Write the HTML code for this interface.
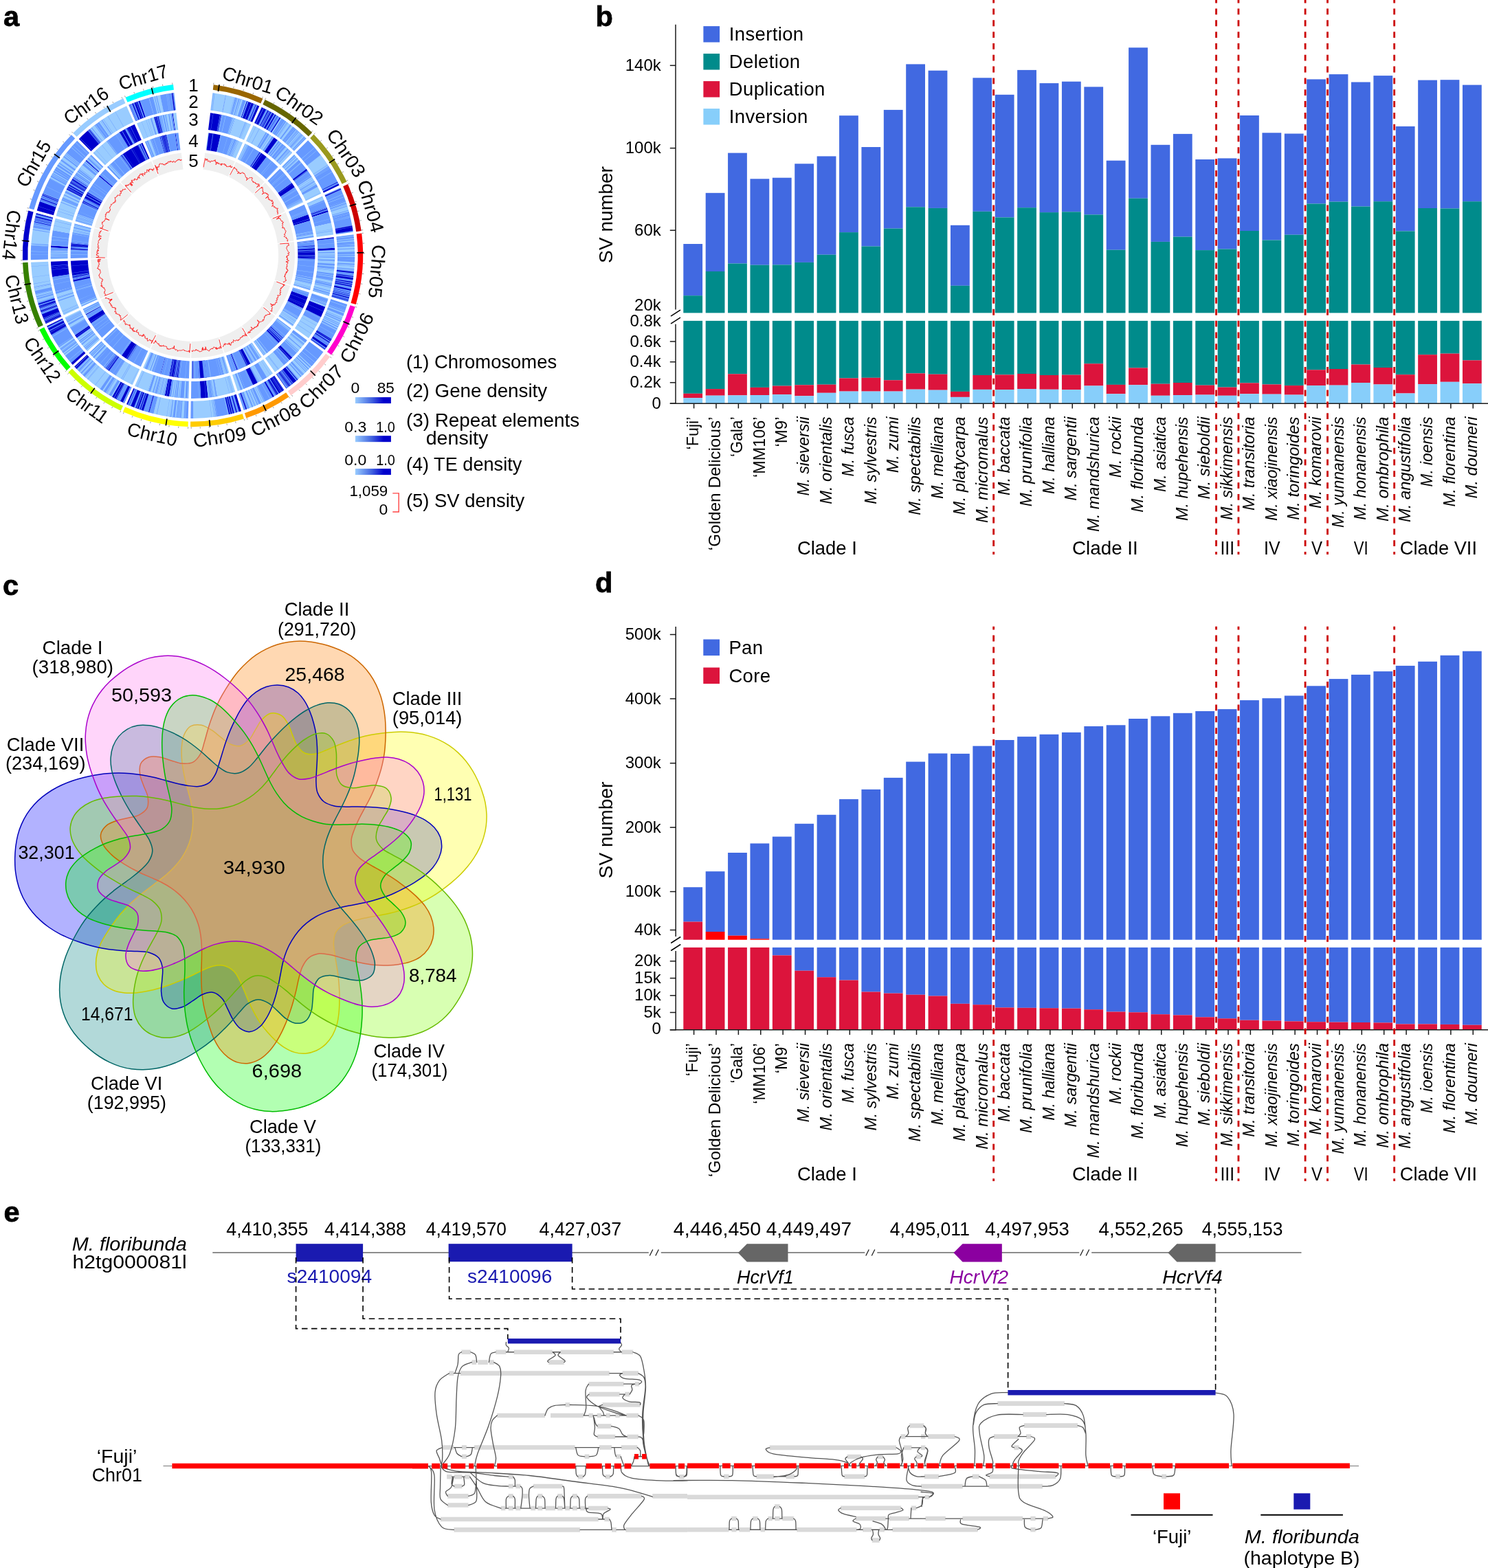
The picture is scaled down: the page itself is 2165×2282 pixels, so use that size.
<!DOCTYPE html>
<html lang="en"><head><meta charset="utf-8"><title>Figure</title>
<style>
html,body{margin:0;padding:0;background:#fff;overflow:hidden;}
svg{display:block;}
svg{font-family:"Liberation Sans",sans-serif;font-size:27.5px;}
</style></head>
<body>
<svg width="2165" height="2282" viewBox="0 0 2165 2282">
<rect width="2165" height="2282" fill="#fff"/>
<g id="pb">
<text x="866.5" y="37.5" font-size="41.5" font-weight="bold" stroke="#000" stroke-width="0.8">b</text>
<rect x="994.3" y="355" width="27.8" height="75.2" fill="#4169E1"/>
<rect x="994.3" y="430.2" width="27.8" height="25.2" fill="#008B8B"/>
<rect x="994.3" y="466.9" width="27.8" height="105.9" fill="#008B8B"/>
<rect x="994.3" y="572.8" width="27.8" height="6.4" fill="#DC143C"/>
<rect x="994.3" y="579.2" width="27.8" height="8" fill="#87CEFA"/>
<rect x="1026.69" y="280.8" width="27.8" height="114.2" fill="#4169E1"/>
<rect x="1026.69" y="395" width="27.8" height="60.4" fill="#008B8B"/>
<rect x="1026.69" y="466.9" width="27.8" height="99.2" fill="#008B8B"/>
<rect x="1026.69" y="566.1" width="27.8" height="9.6" fill="#DC143C"/>
<rect x="1026.69" y="575.7" width="27.8" height="11.5" fill="#87CEFA"/>
<rect x="1059.08" y="222.6" width="27.8" height="160.9" fill="#4169E1"/>
<rect x="1059.08" y="383.5" width="27.8" height="71.9" fill="#008B8B"/>
<rect x="1059.08" y="466.9" width="27.8" height="77.4" fill="#008B8B"/>
<rect x="1059.08" y="544.3" width="27.8" height="31.1" fill="#DC143C"/>
<rect x="1059.08" y="575.4" width="27.8" height="11.8" fill="#87CEFA"/>
<rect x="1091.47" y="260.3" width="27.8" height="125.4" fill="#4169E1"/>
<rect x="1091.47" y="385.7" width="27.8" height="69.7" fill="#008B8B"/>
<rect x="1091.47" y="466.9" width="27.8" height="97" fill="#008B8B"/>
<rect x="1091.47" y="563.9" width="27.8" height="11.1" fill="#DC143C"/>
<rect x="1091.47" y="575" width="27.8" height="12.2" fill="#87CEFA"/>
<rect x="1123.86" y="258.7" width="27.8" height="126.7" fill="#4169E1"/>
<rect x="1123.86" y="385.4" width="27.8" height="70" fill="#008B8B"/>
<rect x="1123.86" y="466.9" width="27.8" height="94.7" fill="#008B8B"/>
<rect x="1123.86" y="561.6" width="27.8" height="12.5" fill="#DC143C"/>
<rect x="1123.86" y="574.1" width="27.8" height="13.1" fill="#87CEFA"/>
<rect x="1156.25" y="238.3" width="27.8" height="143.6" fill="#4169E1"/>
<rect x="1156.25" y="381.9" width="27.8" height="73.5" fill="#008B8B"/>
<rect x="1156.25" y="466.9" width="27.8" height="93.4" fill="#008B8B"/>
<rect x="1156.25" y="560.3" width="27.8" height="16" fill="#DC143C"/>
<rect x="1156.25" y="576.3" width="27.8" height="10.9" fill="#87CEFA"/>
<rect x="1188.64" y="227.4" width="27.8" height="143.3" fill="#4169E1"/>
<rect x="1188.64" y="370.7" width="27.8" height="84.7" fill="#008B8B"/>
<rect x="1188.64" y="466.9" width="27.8" height="92.8" fill="#008B8B"/>
<rect x="1188.64" y="559.7" width="27.8" height="12.1" fill="#DC143C"/>
<rect x="1188.64" y="571.8" width="27.8" height="15.4" fill="#87CEFA"/>
<rect x="1221.03" y="168.2" width="27.8" height="169.9" fill="#4169E1"/>
<rect x="1221.03" y="338.1" width="27.8" height="117.3" fill="#008B8B"/>
<rect x="1221.03" y="466.9" width="27.8" height="83.5" fill="#008B8B"/>
<rect x="1221.03" y="550.4" width="27.8" height="19.2" fill="#DC143C"/>
<rect x="1221.03" y="569.6" width="27.8" height="17.6" fill="#87CEFA"/>
<rect x="1253.42" y="214" width="27.8" height="144.5" fill="#4169E1"/>
<rect x="1253.42" y="358.5" width="27.8" height="96.9" fill="#008B8B"/>
<rect x="1253.42" y="466.9" width="27.8" height="82.9" fill="#008B8B"/>
<rect x="1253.42" y="549.8" width="27.8" height="19.8" fill="#DC143C"/>
<rect x="1253.42" y="569.6" width="27.8" height="17.6" fill="#87CEFA"/>
<rect x="1285.81" y="159.9" width="27.8" height="172.7" fill="#4169E1"/>
<rect x="1285.81" y="332.6" width="27.8" height="122.8" fill="#008B8B"/>
<rect x="1285.81" y="466.9" width="27.8" height="86.4" fill="#008B8B"/>
<rect x="1285.81" y="553.3" width="27.8" height="16.3" fill="#DC143C"/>
<rect x="1285.81" y="569.6" width="27.8" height="17.6" fill="#87CEFA"/>
<rect x="1318.2" y="93.4" width="27.8" height="207.9" fill="#4169E1"/>
<rect x="1318.2" y="301.3" width="27.8" height="154.1" fill="#008B8B"/>
<rect x="1318.2" y="466.9" width="27.8" height="76.5" fill="#008B8B"/>
<rect x="1318.2" y="543.4" width="27.8" height="23.3" fill="#DC143C"/>
<rect x="1318.2" y="566.7" width="27.8" height="20.5" fill="#87CEFA"/>
<rect x="1350.59" y="102.7" width="27.8" height="200.2" fill="#4169E1"/>
<rect x="1350.59" y="302.9" width="27.8" height="152.5" fill="#008B8B"/>
<rect x="1350.59" y="466.9" width="27.8" height="77.8" fill="#008B8B"/>
<rect x="1350.59" y="544.7" width="27.8" height="23" fill="#DC143C"/>
<rect x="1350.59" y="567.7" width="27.8" height="19.5" fill="#87CEFA"/>
<rect x="1382.98" y="327.8" width="27.8" height="88" fill="#4169E1"/>
<rect x="1382.98" y="415.8" width="27.8" height="39.6" fill="#008B8B"/>
<rect x="1382.98" y="466.9" width="27.8" height="103" fill="#008B8B"/>
<rect x="1382.98" y="569.9" width="27.8" height="8" fill="#DC143C"/>
<rect x="1382.98" y="577.9" width="27.8" height="9.3" fill="#87CEFA"/>
<rect x="1415.37" y="113.3" width="27.8" height="194.5" fill="#4169E1"/>
<rect x="1415.37" y="307.8" width="27.8" height="147.6" fill="#008B8B"/>
<rect x="1415.37" y="466.9" width="27.8" height="79.1" fill="#008B8B"/>
<rect x="1415.37" y="546" width="27.8" height="20.9" fill="#DC143C"/>
<rect x="1415.37" y="566.9" width="27.8" height="20.3" fill="#87CEFA"/>
<rect x="1447.76" y="137.8" width="27.8" height="178.6" fill="#4169E1"/>
<rect x="1447.76" y="316.4" width="27.8" height="139" fill="#008B8B"/>
<rect x="1447.76" y="466.9" width="27.8" height="78.5" fill="#008B8B"/>
<rect x="1447.76" y="545.4" width="27.8" height="21.7" fill="#DC143C"/>
<rect x="1447.76" y="567.1" width="27.8" height="20.1" fill="#87CEFA"/>
<rect x="1480.15" y="101.9" width="27.8" height="200.3" fill="#4169E1"/>
<rect x="1480.15" y="302.2" width="27.8" height="153.2" fill="#008B8B"/>
<rect x="1480.15" y="466.9" width="27.8" height="77.1" fill="#008B8B"/>
<rect x="1480.15" y="544" width="27.8" height="22" fill="#DC143C"/>
<rect x="1480.15" y="566" width="27.8" height="21.2" fill="#87CEFA"/>
<rect x="1512.54" y="121.1" width="27.8" height="188" fill="#4169E1"/>
<rect x="1512.54" y="309.1" width="27.8" height="146.3" fill="#008B8B"/>
<rect x="1512.54" y="466.9" width="27.8" height="79.1" fill="#008B8B"/>
<rect x="1512.54" y="546" width="27.8" height="20.8" fill="#DC143C"/>
<rect x="1512.54" y="566.8" width="27.8" height="20.4" fill="#87CEFA"/>
<rect x="1544.93" y="118.7" width="27.8" height="189.6" fill="#4169E1"/>
<rect x="1544.93" y="308.3" width="27.8" height="147.1" fill="#008B8B"/>
<rect x="1544.93" y="466.9" width="27.8" height="78.7" fill="#008B8B"/>
<rect x="1544.93" y="545.6" width="27.8" height="21.6" fill="#DC143C"/>
<rect x="1544.93" y="567.2" width="27.8" height="20" fill="#87CEFA"/>
<rect x="1577.32" y="126.4" width="27.8" height="186" fill="#4169E1"/>
<rect x="1577.32" y="312.4" width="27.8" height="143" fill="#008B8B"/>
<rect x="1577.32" y="466.9" width="27.8" height="62.4" fill="#008B8B"/>
<rect x="1577.32" y="529.3" width="27.8" height="32.2" fill="#DC143C"/>
<rect x="1577.32" y="561.5" width="27.8" height="25.7" fill="#87CEFA"/>
<rect x="1609.71" y="233.7" width="27.8" height="130" fill="#4169E1"/>
<rect x="1609.71" y="363.7" width="27.8" height="91.7" fill="#008B8B"/>
<rect x="1609.71" y="466.9" width="27.8" height="93" fill="#008B8B"/>
<rect x="1609.71" y="559.9" width="27.8" height="13.4" fill="#DC143C"/>
<rect x="1609.71" y="573.3" width="27.8" height="13.9" fill="#87CEFA"/>
<rect x="1642.1" y="69.3" width="27.8" height="219.4" fill="#4169E1"/>
<rect x="1642.1" y="288.7" width="27.8" height="166.7" fill="#008B8B"/>
<rect x="1642.1" y="466.9" width="27.8" height="68.5" fill="#008B8B"/>
<rect x="1642.1" y="535.4" width="27.8" height="24.9" fill="#DC143C"/>
<rect x="1642.1" y="560.3" width="27.8" height="26.9" fill="#87CEFA"/>
<rect x="1674.49" y="210.8" width="27.8" height="141.1" fill="#4169E1"/>
<rect x="1674.49" y="351.9" width="27.8" height="103.5" fill="#008B8B"/>
<rect x="1674.49" y="466.9" width="27.8" height="91.8" fill="#008B8B"/>
<rect x="1674.49" y="558.7" width="27.8" height="17.1" fill="#DC143C"/>
<rect x="1674.49" y="575.8" width="27.8" height="11.4" fill="#87CEFA"/>
<rect x="1706.88" y="194.9" width="27.8" height="149.7" fill="#4169E1"/>
<rect x="1706.88" y="344.6" width="27.8" height="110.8" fill="#008B8B"/>
<rect x="1706.88" y="466.9" width="27.8" height="90.1" fill="#008B8B"/>
<rect x="1706.88" y="557" width="27.8" height="18" fill="#DC143C"/>
<rect x="1706.88" y="575" width="27.8" height="12.2" fill="#87CEFA"/>
<rect x="1739.27" y="232" width="27.8" height="132.1" fill="#4169E1"/>
<rect x="1739.27" y="364.1" width="27.8" height="91.3" fill="#008B8B"/>
<rect x="1739.27" y="466.9" width="27.8" height="93.8" fill="#008B8B"/>
<rect x="1739.27" y="560.7" width="27.8" height="13.9" fill="#DC143C"/>
<rect x="1739.27" y="574.6" width="27.8" height="12.6" fill="#87CEFA"/>
<rect x="1771.66" y="230.4" width="27.8" height="132.1" fill="#4169E1"/>
<rect x="1771.66" y="362.5" width="27.8" height="92.9" fill="#008B8B"/>
<rect x="1771.66" y="466.9" width="27.8" height="96.7" fill="#008B8B"/>
<rect x="1771.66" y="563.6" width="27.8" height="12.2" fill="#DC143C"/>
<rect x="1771.66" y="575.8" width="27.8" height="11.4" fill="#87CEFA"/>
<rect x="1804.05" y="168" width="27.8" height="168" fill="#4169E1"/>
<rect x="1804.05" y="336" width="27.8" height="119.4" fill="#008B8B"/>
<rect x="1804.05" y="466.9" width="27.8" height="90.5" fill="#008B8B"/>
<rect x="1804.05" y="557.4" width="27.8" height="15.9" fill="#DC143C"/>
<rect x="1804.05" y="573.3" width="27.8" height="13.9" fill="#87CEFA"/>
<rect x="1836.44" y="193.3" width="27.8" height="156.2" fill="#4169E1"/>
<rect x="1836.44" y="349.5" width="27.8" height="105.9" fill="#008B8B"/>
<rect x="1836.44" y="466.9" width="27.8" height="92.6" fill="#008B8B"/>
<rect x="1836.44" y="559.5" width="27.8" height="14.2" fill="#DC143C"/>
<rect x="1836.44" y="573.7" width="27.8" height="13.5" fill="#87CEFA"/>
<rect x="1868.83" y="194.5" width="27.8" height="147.2" fill="#4169E1"/>
<rect x="1868.83" y="341.7" width="27.8" height="113.7" fill="#008B8B"/>
<rect x="1868.83" y="466.9" width="27.8" height="94.2" fill="#008B8B"/>
<rect x="1868.83" y="561.1" width="27.8" height="13.5" fill="#DC143C"/>
<rect x="1868.83" y="574.6" width="27.8" height="12.6" fill="#87CEFA"/>
<rect x="1901.22" y="115.4" width="27.8" height="181.1" fill="#4169E1"/>
<rect x="1901.22" y="296.5" width="27.8" height="158.9" fill="#008B8B"/>
<rect x="1901.22" y="466.9" width="27.8" height="71.4" fill="#008B8B"/>
<rect x="1901.22" y="538.3" width="27.8" height="22.8" fill="#DC143C"/>
<rect x="1901.22" y="561.1" width="27.8" height="26.1" fill="#87CEFA"/>
<rect x="1933.61" y="108.1" width="27.8" height="185.5" fill="#4169E1"/>
<rect x="1933.61" y="293.6" width="27.8" height="161.8" fill="#008B8B"/>
<rect x="1933.61" y="466.9" width="27.8" height="70.1" fill="#008B8B"/>
<rect x="1933.61" y="537" width="27.8" height="23.7" fill="#DC143C"/>
<rect x="1933.61" y="560.7" width="27.8" height="26.5" fill="#87CEFA"/>
<rect x="1966" y="119.5" width="27.8" height="181" fill="#4169E1"/>
<rect x="1966" y="300.5" width="27.8" height="154.9" fill="#008B8B"/>
<rect x="1966" y="466.9" width="27.8" height="63.6" fill="#008B8B"/>
<rect x="1966" y="530.5" width="27.8" height="26.5" fill="#DC143C"/>
<rect x="1966" y="557" width="27.8" height="30.2" fill="#87CEFA"/>
<rect x="1998.39" y="110.1" width="27.8" height="183.1" fill="#4169E1"/>
<rect x="1998.39" y="293.2" width="27.8" height="162.2" fill="#008B8B"/>
<rect x="1998.39" y="466.9" width="27.8" height="68.1" fill="#008B8B"/>
<rect x="1998.39" y="535" width="27.8" height="24.5" fill="#DC143C"/>
<rect x="1998.39" y="559.5" width="27.8" height="27.7" fill="#87CEFA"/>
<rect x="2030.78" y="183.9" width="27.8" height="152.5" fill="#4169E1"/>
<rect x="2030.78" y="336.4" width="27.8" height="119" fill="#008B8B"/>
<rect x="2030.78" y="466.9" width="27.8" height="78.3" fill="#008B8B"/>
<rect x="2030.78" y="545.2" width="27.8" height="27.3" fill="#DC143C"/>
<rect x="2030.78" y="572.5" width="27.8" height="14.7" fill="#87CEFA"/>
<rect x="2063.17" y="116.6" width="27.8" height="186.4" fill="#4169E1"/>
<rect x="2063.17" y="303" width="27.8" height="152.4" fill="#008B8B"/>
<rect x="2063.17" y="466.9" width="27.8" height="49.3" fill="#008B8B"/>
<rect x="2063.17" y="516.2" width="27.8" height="42.9" fill="#DC143C"/>
<rect x="2063.17" y="559.1" width="27.8" height="28.1" fill="#87CEFA"/>
<rect x="2095.56" y="116.2" width="27.8" height="187.2" fill="#4169E1"/>
<rect x="2095.56" y="303.4" width="27.8" height="152" fill="#008B8B"/>
<rect x="2095.56" y="466.9" width="27.8" height="47.7" fill="#008B8B"/>
<rect x="2095.56" y="514.6" width="27.8" height="41.2" fill="#DC143C"/>
<rect x="2095.56" y="555.8" width="27.8" height="31.4" fill="#87CEFA"/>
<rect x="2127.95" y="123.6" width="27.8" height="169.6" fill="#4169E1"/>
<rect x="2127.95" y="293.2" width="27.8" height="162.2" fill="#008B8B"/>
<rect x="2127.95" y="466.9" width="27.8" height="57.5" fill="#008B8B"/>
<rect x="2127.95" y="524.4" width="27.8" height="33.8" fill="#DC143C"/>
<rect x="2127.95" y="558.2" width="27.8" height="29" fill="#87CEFA"/>
<line x1="983" y1="35.8" x2="983" y2="450.5" stroke="#1a1a1a" stroke-width="1.5"/>
<line x1="983" y1="471.8" x2="983" y2="587.9" stroke="#1a1a1a" stroke-width="1.5"/>
<line x1="974.8" y1="587.2" x2="2165" y2="587.2" stroke="#1a1a1a" stroke-width="1.5"/>
<line x1="976" y1="460.2" x2="990" y2="451.2" stroke="#000" stroke-width="1.5"/>
<line x1="976" y1="471.2" x2="990" y2="462.2" stroke="#000" stroke-width="1.5"/>
<line x1="974.8" y1="95.3" x2="983" y2="95.3" stroke="#1a1a1a" stroke-width="1.5"/>
<text x="961.8" y="102.9" text-anchor="end" font-size="24">140k</text>
<line x1="974.8" y1="215.6" x2="983" y2="215.6" stroke="#1a1a1a" stroke-width="1.5"/>
<text x="961.8" y="223.2" text-anchor="end" font-size="24">100k</text>
<line x1="974.8" y1="335.2" x2="983" y2="335.2" stroke="#1a1a1a" stroke-width="1.5"/>
<text x="961.8" y="342.8" text-anchor="end" font-size="24">60k</text>
<text x="961.8" y="451.8" text-anchor="end" font-size="24">20k</text>
<text x="961.8" y="474.8" text-anchor="end" font-size="24">0.8k</text>
<line x1="974.8" y1="497" x2="983" y2="497" stroke="#1a1a1a" stroke-width="1.5"/>
<text x="961.8" y="504.6" text-anchor="end" font-size="24">0.6k</text>
<line x1="974.8" y1="526.7" x2="983" y2="526.7" stroke="#1a1a1a" stroke-width="1.5"/>
<text x="961.8" y="534.3" text-anchor="end" font-size="24">0.4k</text>
<line x1="974.8" y1="556.8" x2="983" y2="556.8" stroke="#1a1a1a" stroke-width="1.5"/>
<text x="961.8" y="564.4" text-anchor="end" font-size="24">0.2k</text>
<line x1="974.8" y1="587.2" x2="983" y2="587.2" stroke="#1a1a1a" stroke-width="1.5"/>
<text x="961.8" y="594.8" text-anchor="end" font-size="24">0</text>
<line x1="1009.6" y1="587.2" x2="1009.6" y2="594.4" stroke="#1a1a1a" stroke-width="1.5"/>
<line x1="1041.99" y1="587.2" x2="1041.99" y2="594.4" stroke="#1a1a1a" stroke-width="1.5"/>
<line x1="1074.38" y1="587.2" x2="1074.38" y2="594.4" stroke="#1a1a1a" stroke-width="1.5"/>
<line x1="1106.77" y1="587.2" x2="1106.77" y2="594.4" stroke="#1a1a1a" stroke-width="1.5"/>
<line x1="1139.16" y1="587.2" x2="1139.16" y2="594.4" stroke="#1a1a1a" stroke-width="1.5"/>
<line x1="1171.55" y1="587.2" x2="1171.55" y2="594.4" stroke="#1a1a1a" stroke-width="1.5"/>
<line x1="1203.94" y1="587.2" x2="1203.94" y2="594.4" stroke="#1a1a1a" stroke-width="1.5"/>
<line x1="1236.33" y1="587.2" x2="1236.33" y2="594.4" stroke="#1a1a1a" stroke-width="1.5"/>
<line x1="1268.72" y1="587.2" x2="1268.72" y2="594.4" stroke="#1a1a1a" stroke-width="1.5"/>
<line x1="1301.11" y1="587.2" x2="1301.11" y2="594.4" stroke="#1a1a1a" stroke-width="1.5"/>
<line x1="1333.5" y1="587.2" x2="1333.5" y2="594.4" stroke="#1a1a1a" stroke-width="1.5"/>
<line x1="1365.89" y1="587.2" x2="1365.89" y2="594.4" stroke="#1a1a1a" stroke-width="1.5"/>
<line x1="1398.28" y1="587.2" x2="1398.28" y2="594.4" stroke="#1a1a1a" stroke-width="1.5"/>
<line x1="1430.67" y1="587.2" x2="1430.67" y2="594.4" stroke="#1a1a1a" stroke-width="1.5"/>
<line x1="1463.06" y1="587.2" x2="1463.06" y2="594.4" stroke="#1a1a1a" stroke-width="1.5"/>
<line x1="1495.45" y1="587.2" x2="1495.45" y2="594.4" stroke="#1a1a1a" stroke-width="1.5"/>
<line x1="1527.84" y1="587.2" x2="1527.84" y2="594.4" stroke="#1a1a1a" stroke-width="1.5"/>
<line x1="1560.23" y1="587.2" x2="1560.23" y2="594.4" stroke="#1a1a1a" stroke-width="1.5"/>
<line x1="1592.62" y1="587.2" x2="1592.62" y2="594.4" stroke="#1a1a1a" stroke-width="1.5"/>
<line x1="1625.01" y1="587.2" x2="1625.01" y2="594.4" stroke="#1a1a1a" stroke-width="1.5"/>
<line x1="1657.4" y1="587.2" x2="1657.4" y2="594.4" stroke="#1a1a1a" stroke-width="1.5"/>
<line x1="1689.79" y1="587.2" x2="1689.79" y2="594.4" stroke="#1a1a1a" stroke-width="1.5"/>
<line x1="1722.18" y1="587.2" x2="1722.18" y2="594.4" stroke="#1a1a1a" stroke-width="1.5"/>
<line x1="1754.57" y1="587.2" x2="1754.57" y2="594.4" stroke="#1a1a1a" stroke-width="1.5"/>
<line x1="1786.96" y1="587.2" x2="1786.96" y2="594.4" stroke="#1a1a1a" stroke-width="1.5"/>
<line x1="1819.35" y1="587.2" x2="1819.35" y2="594.4" stroke="#1a1a1a" stroke-width="1.5"/>
<line x1="1851.74" y1="587.2" x2="1851.74" y2="594.4" stroke="#1a1a1a" stroke-width="1.5"/>
<line x1="1884.13" y1="587.2" x2="1884.13" y2="594.4" stroke="#1a1a1a" stroke-width="1.5"/>
<line x1="1916.52" y1="587.2" x2="1916.52" y2="594.4" stroke="#1a1a1a" stroke-width="1.5"/>
<line x1="1948.91" y1="587.2" x2="1948.91" y2="594.4" stroke="#1a1a1a" stroke-width="1.5"/>
<line x1="1981.3" y1="587.2" x2="1981.3" y2="594.4" stroke="#1a1a1a" stroke-width="1.5"/>
<line x1="2013.69" y1="587.2" x2="2013.69" y2="594.4" stroke="#1a1a1a" stroke-width="1.5"/>
<line x1="2046.08" y1="587.2" x2="2046.08" y2="594.4" stroke="#1a1a1a" stroke-width="1.5"/>
<line x1="2078.47" y1="587.2" x2="2078.47" y2="594.4" stroke="#1a1a1a" stroke-width="1.5"/>
<line x1="2110.86" y1="587.2" x2="2110.86" y2="594.4" stroke="#1a1a1a" stroke-width="1.5"/>
<line x1="2143.25" y1="587.2" x2="2143.25" y2="594.4" stroke="#1a1a1a" stroke-width="1.5"/>
<text x="890.5" y="312.5" text-anchor="middle" transform="rotate(-90 890.5 312.5)" textLength="141" lengthAdjust="spacingAndGlyphs">SV number</text>
<rect x="1023.4" y="38.1" width="23.7" height="23.4" fill="#4169E1"/>
<text x="1060.8" y="59.3" letter-spacing="0.35">Insertion</text>
<rect x="1023.4" y="78.1" width="23.7" height="23.4" fill="#008B8B"/>
<text x="1060.8" y="99.3" letter-spacing="0.35">Deletion</text>
<rect x="1023.4" y="118.1" width="23.7" height="23.4" fill="#DC143C"/>
<text x="1060.8" y="139.3" letter-spacing="0.35">Duplication</text>
<rect x="1023.4" y="158.1" width="23.7" height="23.4" fill="#87CEFA"/>
<text x="1060.8" y="179.3" letter-spacing="0.35">Inversion</text>
<g font-size="24" text-anchor="end">
<text x="1015.5" y="606.5" transform="rotate(-90 1015.5 606.5)" textLength="48" lengthAdjust="spacingAndGlyphs">‘Fuji’</text>
<text x="1047.89" y="606.5" transform="rotate(-90 1047.89 606.5)" textLength="194.7" lengthAdjust="spacingAndGlyphs">‘Golden Delicious’</text>
<text x="1080.28" y="606.5" transform="rotate(-90 1080.28 606.5)" textLength="58.4" lengthAdjust="spacingAndGlyphs">‘Gala’</text>
<text x="1112.67" y="606.5" transform="rotate(-90 1112.67 606.5)" textLength="88.5" lengthAdjust="spacingAndGlyphs">‘MM106’</text>
<text x="1145.06" y="606.5" transform="rotate(-90 1145.06 606.5)" textLength="44.1" lengthAdjust="spacingAndGlyphs">‘M9’</text>
<text x="1177.45" y="606.5" font-style="italic" transform="rotate(-90 1177.45 606.5)" textLength="115.1" lengthAdjust="spacingAndGlyphs">M. sieversii</text>
<text x="1209.84" y="606.5" font-style="italic" transform="rotate(-90 1209.84 606.5)" textLength="127.3" lengthAdjust="spacingAndGlyphs">M. orientalis</text>
<text x="1242.23" y="606.5" font-style="italic" transform="rotate(-90 1242.23 606.5)" textLength="87" lengthAdjust="spacingAndGlyphs">M. fusca</text>
<text x="1274.62" y="606.5" font-style="italic" transform="rotate(-90 1274.62 606.5)" textLength="127.3" lengthAdjust="spacingAndGlyphs">M. sylvestris</text>
<text x="1307.01" y="606.5" font-style="italic" transform="rotate(-90 1307.01 606.5)" textLength="81.7" lengthAdjust="spacingAndGlyphs">M. zumi</text>
<text x="1339.4" y="606.5" font-style="italic" transform="rotate(-90 1339.4 606.5)" textLength="143.3" lengthAdjust="spacingAndGlyphs">M. spectabilis</text>
<text x="1371.79" y="606.5" font-style="italic" transform="rotate(-90 1371.79 606.5)" textLength="119.4" lengthAdjust="spacingAndGlyphs">M. melliana</text>
<text x="1404.18" y="606.5" font-style="italic" transform="rotate(-90 1404.18 606.5)" textLength="142.9" lengthAdjust="spacingAndGlyphs">M. platycarpa</text>
<text x="1436.57" y="606.5" font-style="italic" transform="rotate(-90 1436.57 606.5)" textLength="154.6" lengthAdjust="spacingAndGlyphs">M. micromalus</text>
<text x="1468.96" y="606.5" font-style="italic" transform="rotate(-90 1468.96 606.5)" textLength="114.5" lengthAdjust="spacingAndGlyphs">M. baccata</text>
<text x="1501.35" y="606.5" font-style="italic" transform="rotate(-90 1501.35 606.5)" textLength="130.7" lengthAdjust="spacingAndGlyphs">M. prunifolia</text>
<text x="1533.74" y="606.5" font-style="italic" transform="rotate(-90 1533.74 606.5)" textLength="112.6" lengthAdjust="spacingAndGlyphs">M. halliana</text>
<text x="1566.13" y="606.5" font-style="italic" transform="rotate(-90 1566.13 606.5)" textLength="122.2" lengthAdjust="spacingAndGlyphs">M. sargentii</text>
<text x="1598.52" y="606.5" font-style="italic" transform="rotate(-90 1598.52 606.5)" textLength="167.4" lengthAdjust="spacingAndGlyphs">M. mandshurica</text>
<text x="1630.91" y="606.5" font-style="italic" transform="rotate(-90 1630.91 606.5)" textLength="88.7" lengthAdjust="spacingAndGlyphs">M. rockii</text>
<text x="1663.3" y="606.5" font-style="italic" transform="rotate(-90 1663.3 606.5)" textLength="139.2" lengthAdjust="spacingAndGlyphs">M. floribunda</text>
<text x="1695.69" y="606.5" font-style="italic" transform="rotate(-90 1695.69 606.5)" textLength="109.4" lengthAdjust="spacingAndGlyphs">M. asiatica</text>
<text x="1728.08" y="606.5" font-style="italic" transform="rotate(-90 1728.08 606.5)" textLength="151.4" lengthAdjust="spacingAndGlyphs">M. hupehensis</text>
<text x="1760.47" y="606.5" font-style="italic" transform="rotate(-90 1760.47 606.5)" textLength="120" lengthAdjust="spacingAndGlyphs">M. sieboldii</text>
<text x="1792.86" y="606.5" font-style="italic" transform="rotate(-90 1792.86 606.5)" textLength="150.3" lengthAdjust="spacingAndGlyphs">M. sikkimensis</text>
<text x="1825.25" y="606.5" font-style="italic" transform="rotate(-90 1825.25 606.5)" textLength="136.5" lengthAdjust="spacingAndGlyphs">M. transitoria</text>
<text x="1857.64" y="606.5" font-style="italic" transform="rotate(-90 1857.64 606.5)" textLength="151.4" lengthAdjust="spacingAndGlyphs">M. xiaojinensis</text>
<text x="1890.03" y="606.5" font-style="italic" transform="rotate(-90 1890.03 606.5)" textLength="150.3" lengthAdjust="spacingAndGlyphs">M. toringoides</text>
<text x="1922.42" y="606.5" font-style="italic" transform="rotate(-90 1922.42 606.5)" textLength="133.5" lengthAdjust="spacingAndGlyphs">M. komarovii</text>
<text x="1954.81" y="606.5" font-style="italic" transform="rotate(-90 1954.81 606.5)" textLength="161.4" lengthAdjust="spacingAndGlyphs">M. yunnanensis</text>
<text x="1987.2" y="606.5" font-style="italic" transform="rotate(-90 1987.2 606.5)" textLength="150.3" lengthAdjust="spacingAndGlyphs">M. honanensis</text>
<text x="2019.59" y="606.5" font-style="italic" transform="rotate(-90 2019.59 606.5)" textLength="152.5" lengthAdjust="spacingAndGlyphs">M. ombrophila</text>
<text x="2051.98" y="606.5" font-style="italic" transform="rotate(-90 2051.98 606.5)" textLength="153.5" lengthAdjust="spacingAndGlyphs">M. angustifolia</text>
<text x="2084.37" y="606.5" font-style="italic" transform="rotate(-90 2084.37 606.5)" textLength="101.9" lengthAdjust="spacingAndGlyphs">M. ioensis</text>
<text x="2116.76" y="606.5" font-style="italic" transform="rotate(-90 2116.76 606.5)" textLength="131.1" lengthAdjust="spacingAndGlyphs">M. florentina</text>
<text x="2149.15" y="606.5" font-style="italic" transform="rotate(-90 2149.15 606.5)" textLength="119" lengthAdjust="spacingAndGlyphs">M. doumeri</text>
</g>
<text x="1159.9" y="806.6" textLength="87" lengthAdjust="spacingAndGlyphs">Clade I</text>
<text x="1560" y="806.6" textLength="95.8" lengthAdjust="spacingAndGlyphs">Clade II</text>
<text x="1775.5" y="806.6" textLength="20.5" lengthAdjust="spacingAndGlyphs">III</text>
<text x="1839" y="806.6" textLength="23.5" lengthAdjust="spacingAndGlyphs">IV</text>
<text x="1908" y="806.6" textLength="16" lengthAdjust="spacingAndGlyphs">V</text>
<text x="1969.7" y="806.6" textLength="20.9" lengthAdjust="spacingAndGlyphs">VI</text>
<text x="2036.8" y="806.6" textLength="112.2" lengthAdjust="spacingAndGlyphs">Clade VII</text>
<path d="M1445.66 0V807.1M1769.56 0V807.1M1801.95 0V807.1M1899.12 0V807.1M1931.52 0V807.1M2028.68 0V807.1" stroke="#CC0000" stroke-width="2.8" fill="none" stroke-dasharray="8.8 8.02" stroke-dashoffset="4.3"/>
</g>
<g id="pd">
<text x="866" y="862" font-size="41.5" font-weight="bold" stroke="#000" stroke-width="0.8">d</text>
<rect x="994.3" y="1291.2" width="27.8" height="50.3" fill="#4169E1"/>
<rect x="994.3" y="1341.5" width="27.8" height="26.2" fill="#DC143C"/>
<rect x="994.3" y="1378.9" width="27.8" height="119.9" fill="#DC143C"/>
<rect x="1026.69" y="1268.2" width="27.8" height="87.8" fill="#4169E1"/>
<rect x="1026.69" y="1356" width="27.8" height="11.7" fill="#FF0000"/>
<rect x="1026.69" y="1378.9" width="27.8" height="119.9" fill="#DC143C"/>
<rect x="1059.08" y="1241" width="27.8" height="120.7" fill="#4169E1"/>
<rect x="1059.08" y="1361.7" width="27.8" height="6" fill="#FF0000"/>
<rect x="1059.08" y="1378.9" width="27.8" height="119.9" fill="#DC143C"/>
<rect x="1091.47" y="1227.5" width="27.8" height="138.8" fill="#4169E1"/>
<rect x="1091.47" y="1366.3" width="27.8" height="1.4" fill="#FF0000"/>
<rect x="1091.47" y="1378.9" width="27.8" height="119.9" fill="#DC143C"/>
<rect x="1123.86" y="1217.6" width="27.8" height="150.1" fill="#4169E1"/>
<rect x="1123.86" y="1378.9" width="27.8" height="11.5" fill="#4169E1"/>
<rect x="1123.86" y="1390.4" width="27.8" height="108.4" fill="#DC143C"/>
<rect x="1156.25" y="1198.8" width="27.8" height="168.9" fill="#4169E1"/>
<rect x="1156.25" y="1378.9" width="27.8" height="33.8" fill="#4169E1"/>
<rect x="1156.25" y="1412.7" width="27.8" height="86.1" fill="#DC143C"/>
<rect x="1188.64" y="1185.8" width="27.8" height="181.9" fill="#4169E1"/>
<rect x="1188.64" y="1378.9" width="27.8" height="43.3" fill="#4169E1"/>
<rect x="1188.64" y="1422.2" width="27.8" height="76.6" fill="#DC143C"/>
<rect x="1221.03" y="1163.1" width="27.8" height="204.6" fill="#4169E1"/>
<rect x="1221.03" y="1378.9" width="27.8" height="47.6" fill="#4169E1"/>
<rect x="1221.03" y="1426.5" width="27.8" height="72.3" fill="#DC143C"/>
<rect x="1253.42" y="1148.9" width="27.8" height="218.8" fill="#4169E1"/>
<rect x="1253.42" y="1378.9" width="27.8" height="64.6" fill="#4169E1"/>
<rect x="1253.42" y="1443.5" width="27.8" height="55.3" fill="#DC143C"/>
<rect x="1285.81" y="1131.9" width="27.8" height="235.8" fill="#4169E1"/>
<rect x="1285.81" y="1378.9" width="27.8" height="66.7" fill="#4169E1"/>
<rect x="1285.81" y="1445.6" width="27.8" height="53.2" fill="#DC143C"/>
<rect x="1318.2" y="1108.6" width="27.8" height="259.1" fill="#4169E1"/>
<rect x="1318.2" y="1378.9" width="27.8" height="68.8" fill="#4169E1"/>
<rect x="1318.2" y="1447.7" width="27.8" height="51.1" fill="#DC143C"/>
<rect x="1350.59" y="1096.5" width="27.8" height="271.2" fill="#4169E1"/>
<rect x="1350.59" y="1378.9" width="27.8" height="70.6" fill="#4169E1"/>
<rect x="1350.59" y="1449.5" width="27.8" height="49.3" fill="#DC143C"/>
<rect x="1382.98" y="1096.9" width="27.8" height="270.8" fill="#4169E1"/>
<rect x="1382.98" y="1378.9" width="27.8" height="81.9" fill="#4169E1"/>
<rect x="1382.98" y="1460.8" width="27.8" height="38" fill="#DC143C"/>
<rect x="1415.37" y="1085.7" width="27.8" height="282" fill="#4169E1"/>
<rect x="1415.37" y="1378.9" width="27.8" height="83.3" fill="#4169E1"/>
<rect x="1415.37" y="1462.2" width="27.8" height="36.6" fill="#DC143C"/>
<rect x="1447.76" y="1077" width="27.8" height="290.7" fill="#4169E1"/>
<rect x="1447.76" y="1378.9" width="27.8" height="87.5" fill="#4169E1"/>
<rect x="1447.76" y="1466.4" width="27.8" height="32.4" fill="#DC143C"/>
<rect x="1480.15" y="1072.1" width="27.8" height="295.6" fill="#4169E1"/>
<rect x="1480.15" y="1378.9" width="27.8" height="87.9" fill="#4169E1"/>
<rect x="1480.15" y="1466.8" width="27.8" height="32" fill="#DC143C"/>
<rect x="1512.54" y="1068.8" width="27.8" height="298.9" fill="#4169E1"/>
<rect x="1512.54" y="1378.9" width="27.8" height="88.3" fill="#4169E1"/>
<rect x="1512.54" y="1467.2" width="27.8" height="31.6" fill="#DC143C"/>
<rect x="1544.93" y="1065.9" width="27.8" height="301.8" fill="#4169E1"/>
<rect x="1544.93" y="1378.9" width="27.8" height="88.7" fill="#4169E1"/>
<rect x="1544.93" y="1467.6" width="27.8" height="31.2" fill="#DC143C"/>
<rect x="1577.32" y="1057" width="27.8" height="310.7" fill="#4169E1"/>
<rect x="1577.32" y="1378.9" width="27.8" height="90.3" fill="#4169E1"/>
<rect x="1577.32" y="1469.2" width="27.8" height="29.6" fill="#DC143C"/>
<rect x="1609.71" y="1055.3" width="27.8" height="312.4" fill="#4169E1"/>
<rect x="1609.71" y="1378.9" width="27.8" height="93.6" fill="#4169E1"/>
<rect x="1609.71" y="1472.5" width="27.8" height="26.3" fill="#DC143C"/>
<rect x="1642.1" y="1046" width="27.8" height="321.7" fill="#4169E1"/>
<rect x="1642.1" y="1378.9" width="27.8" height="94.4" fill="#4169E1"/>
<rect x="1642.1" y="1473.3" width="27.8" height="25.5" fill="#DC143C"/>
<rect x="1674.49" y="1042.3" width="27.8" height="325.4" fill="#4169E1"/>
<rect x="1674.49" y="1378.9" width="27.8" height="97.3" fill="#4169E1"/>
<rect x="1674.49" y="1476.2" width="27.8" height="22.6" fill="#DC143C"/>
<rect x="1706.88" y="1037.8" width="27.8" height="329.9" fill="#4169E1"/>
<rect x="1706.88" y="1378.9" width="27.8" height="98.5" fill="#4169E1"/>
<rect x="1706.88" y="1477.4" width="27.8" height="21.4" fill="#DC143C"/>
<rect x="1739.27" y="1035" width="27.8" height="332.7" fill="#4169E1"/>
<rect x="1739.27" y="1378.9" width="27.8" height="101.4" fill="#4169E1"/>
<rect x="1739.27" y="1480.3" width="27.8" height="18.5" fill="#DC143C"/>
<rect x="1771.66" y="1032.1" width="27.8" height="335.6" fill="#4169E1"/>
<rect x="1771.66" y="1378.9" width="27.8" height="103.4" fill="#4169E1"/>
<rect x="1771.66" y="1482.3" width="27.8" height="16.5" fill="#DC143C"/>
<rect x="1804.05" y="1019.1" width="27.8" height="348.6" fill="#4169E1"/>
<rect x="1804.05" y="1378.9" width="27.8" height="105.8" fill="#4169E1"/>
<rect x="1804.05" y="1484.7" width="27.8" height="14.1" fill="#DC143C"/>
<rect x="1836.44" y="1016.2" width="27.8" height="351.5" fill="#4169E1"/>
<rect x="1836.44" y="1378.9" width="27.8" height="106.6" fill="#4169E1"/>
<rect x="1836.44" y="1485.5" width="27.8" height="13.3" fill="#DC143C"/>
<rect x="1868.83" y="1012.5" width="27.8" height="355.2" fill="#4169E1"/>
<rect x="1868.83" y="1378.9" width="27.8" height="107.5" fill="#4169E1"/>
<rect x="1868.83" y="1486.4" width="27.8" height="12.4" fill="#DC143C"/>
<rect x="1901.22" y="998.3" width="27.8" height="369.4" fill="#4169E1"/>
<rect x="1901.22" y="1378.9" width="27.8" height="108.3" fill="#4169E1"/>
<rect x="1901.22" y="1487.2" width="27.8" height="11.6" fill="#DC143C"/>
<rect x="1933.61" y="988.1" width="27.8" height="379.6" fill="#4169E1"/>
<rect x="1933.61" y="1378.9" width="27.8" height="108.7" fill="#4169E1"/>
<rect x="1933.61" y="1487.6" width="27.8" height="11.2" fill="#DC143C"/>
<rect x="1966" y="981.9" width="27.8" height="385.8" fill="#4169E1"/>
<rect x="1966" y="1378.9" width="27.8" height="109.1" fill="#4169E1"/>
<rect x="1966" y="1488" width="27.8" height="10.8" fill="#DC143C"/>
<rect x="1998.39" y="977.1" width="27.8" height="390.6" fill="#4169E1"/>
<rect x="1998.39" y="1378.9" width="27.8" height="109.5" fill="#4169E1"/>
<rect x="1998.39" y="1488.4" width="27.8" height="10.4" fill="#DC143C"/>
<rect x="2030.78" y="968.9" width="27.8" height="398.8" fill="#4169E1"/>
<rect x="2030.78" y="1378.9" width="27.8" height="111.5" fill="#4169E1"/>
<rect x="2030.78" y="1490.4" width="27.8" height="8.4" fill="#DC143C"/>
<rect x="2063.17" y="962.8" width="27.8" height="404.9" fill="#4169E1"/>
<rect x="2063.17" y="1378.9" width="27.8" height="111.5" fill="#4169E1"/>
<rect x="2063.17" y="1490.4" width="27.8" height="8.4" fill="#DC143C"/>
<rect x="2095.56" y="953.8" width="27.8" height="413.9" fill="#4169E1"/>
<rect x="2095.56" y="1378.9" width="27.8" height="112" fill="#4169E1"/>
<rect x="2095.56" y="1490.9" width="27.8" height="7.9" fill="#DC143C"/>
<rect x="2127.95" y="947.7" width="27.8" height="420" fill="#4169E1"/>
<rect x="2127.95" y="1378.9" width="27.8" height="112.8" fill="#4169E1"/>
<rect x="2127.95" y="1491.7" width="27.8" height="7.1" fill="#DC143C"/>
<line x1="983.2" y1="912" x2="983.2" y2="1363" stroke="#1a1a1a" stroke-width="1.5"/>
<line x1="983.2" y1="1384" x2="983.2" y2="1499.5" stroke="#1a1a1a" stroke-width="1.5"/>
<line x1="974.8" y1="1498.8" x2="2165" y2="1498.8" stroke="#1a1a1a" stroke-width="1.5"/>
<line x1="976.2" y1="1372.5" x2="990.2" y2="1363.5" stroke="#000" stroke-width="1.5"/>
<line x1="976.2" y1="1383.5" x2="990.2" y2="1374.5" stroke="#000" stroke-width="1.5"/>
<line x1="974.8" y1="923.5" x2="983.2" y2="923.5" stroke="#1a1a1a" stroke-width="1.5"/>
<text x="961.8" y="931.1" text-anchor="end" font-size="24">500k</text>
<line x1="974.8" y1="1016.9" x2="983.2" y2="1016.9" stroke="#1a1a1a" stroke-width="1.5"/>
<text x="961.8" y="1024.5" text-anchor="end" font-size="24">400k</text>
<line x1="974.8" y1="1110.7" x2="983.2" y2="1110.7" stroke="#1a1a1a" stroke-width="1.5"/>
<text x="961.8" y="1118.3" text-anchor="end" font-size="24">300k</text>
<line x1="974.8" y1="1204.2" x2="983.2" y2="1204.2" stroke="#1a1a1a" stroke-width="1.5"/>
<text x="961.8" y="1211.8" text-anchor="end" font-size="24">200k</text>
<line x1="974.8" y1="1297.6" x2="983.2" y2="1297.6" stroke="#1a1a1a" stroke-width="1.5"/>
<text x="961.8" y="1305.2" text-anchor="end" font-size="24">100k</text>
<line x1="974.8" y1="1353.5" x2="983.2" y2="1353.5" stroke="#1a1a1a" stroke-width="1.5"/>
<text x="961.8" y="1361.1" text-anchor="end" font-size="24">40k</text>
<line x1="974.8" y1="1398.8" x2="983.2" y2="1398.8" stroke="#1a1a1a" stroke-width="1.5"/>
<text x="961.8" y="1406.4" text-anchor="end" font-size="24">20k</text>
<line x1="974.8" y1="1423.6" x2="983.2" y2="1423.6" stroke="#1a1a1a" stroke-width="1.5"/>
<text x="961.8" y="1431.2" text-anchor="end" font-size="24">15k</text>
<line x1="974.8" y1="1448.8" x2="983.2" y2="1448.8" stroke="#1a1a1a" stroke-width="1.5"/>
<text x="961.8" y="1456.4" text-anchor="end" font-size="24">10k</text>
<line x1="974.8" y1="1473.5" x2="983.2" y2="1473.5" stroke="#1a1a1a" stroke-width="1.5"/>
<text x="961.8" y="1481.1" text-anchor="end" font-size="24">5k</text>
<line x1="974.8" y1="1498.8" x2="983.2" y2="1498.8" stroke="#1a1a1a" stroke-width="1.5"/>
<text x="961.8" y="1504.6" text-anchor="end" font-size="24">0</text>
<line x1="1009.6" y1="1498.8" x2="1009.6" y2="1506" stroke="#1a1a1a" stroke-width="1.5"/>
<line x1="1041.99" y1="1498.8" x2="1041.99" y2="1506" stroke="#1a1a1a" stroke-width="1.5"/>
<line x1="1074.38" y1="1498.8" x2="1074.38" y2="1506" stroke="#1a1a1a" stroke-width="1.5"/>
<line x1="1106.77" y1="1498.8" x2="1106.77" y2="1506" stroke="#1a1a1a" stroke-width="1.5"/>
<line x1="1139.16" y1="1498.8" x2="1139.16" y2="1506" stroke="#1a1a1a" stroke-width="1.5"/>
<line x1="1171.55" y1="1498.8" x2="1171.55" y2="1506" stroke="#1a1a1a" stroke-width="1.5"/>
<line x1="1203.94" y1="1498.8" x2="1203.94" y2="1506" stroke="#1a1a1a" stroke-width="1.5"/>
<line x1="1236.33" y1="1498.8" x2="1236.33" y2="1506" stroke="#1a1a1a" stroke-width="1.5"/>
<line x1="1268.72" y1="1498.8" x2="1268.72" y2="1506" stroke="#1a1a1a" stroke-width="1.5"/>
<line x1="1301.11" y1="1498.8" x2="1301.11" y2="1506" stroke="#1a1a1a" stroke-width="1.5"/>
<line x1="1333.5" y1="1498.8" x2="1333.5" y2="1506" stroke="#1a1a1a" stroke-width="1.5"/>
<line x1="1365.89" y1="1498.8" x2="1365.89" y2="1506" stroke="#1a1a1a" stroke-width="1.5"/>
<line x1="1398.28" y1="1498.8" x2="1398.28" y2="1506" stroke="#1a1a1a" stroke-width="1.5"/>
<line x1="1430.67" y1="1498.8" x2="1430.67" y2="1506" stroke="#1a1a1a" stroke-width="1.5"/>
<line x1="1463.06" y1="1498.8" x2="1463.06" y2="1506" stroke="#1a1a1a" stroke-width="1.5"/>
<line x1="1495.45" y1="1498.8" x2="1495.45" y2="1506" stroke="#1a1a1a" stroke-width="1.5"/>
<line x1="1527.84" y1="1498.8" x2="1527.84" y2="1506" stroke="#1a1a1a" stroke-width="1.5"/>
<line x1="1560.23" y1="1498.8" x2="1560.23" y2="1506" stroke="#1a1a1a" stroke-width="1.5"/>
<line x1="1592.62" y1="1498.8" x2="1592.62" y2="1506" stroke="#1a1a1a" stroke-width="1.5"/>
<line x1="1625.01" y1="1498.8" x2="1625.01" y2="1506" stroke="#1a1a1a" stroke-width="1.5"/>
<line x1="1657.4" y1="1498.8" x2="1657.4" y2="1506" stroke="#1a1a1a" stroke-width="1.5"/>
<line x1="1689.79" y1="1498.8" x2="1689.79" y2="1506" stroke="#1a1a1a" stroke-width="1.5"/>
<line x1="1722.18" y1="1498.8" x2="1722.18" y2="1506" stroke="#1a1a1a" stroke-width="1.5"/>
<line x1="1754.57" y1="1498.8" x2="1754.57" y2="1506" stroke="#1a1a1a" stroke-width="1.5"/>
<line x1="1786.96" y1="1498.8" x2="1786.96" y2="1506" stroke="#1a1a1a" stroke-width="1.5"/>
<line x1="1819.35" y1="1498.8" x2="1819.35" y2="1506" stroke="#1a1a1a" stroke-width="1.5"/>
<line x1="1851.74" y1="1498.8" x2="1851.74" y2="1506" stroke="#1a1a1a" stroke-width="1.5"/>
<line x1="1884.13" y1="1498.8" x2="1884.13" y2="1506" stroke="#1a1a1a" stroke-width="1.5"/>
<line x1="1916.52" y1="1498.8" x2="1916.52" y2="1506" stroke="#1a1a1a" stroke-width="1.5"/>
<line x1="1948.91" y1="1498.8" x2="1948.91" y2="1506" stroke="#1a1a1a" stroke-width="1.5"/>
<line x1="1981.3" y1="1498.8" x2="1981.3" y2="1506" stroke="#1a1a1a" stroke-width="1.5"/>
<line x1="2013.69" y1="1498.8" x2="2013.69" y2="1506" stroke="#1a1a1a" stroke-width="1.5"/>
<line x1="2046.08" y1="1498.8" x2="2046.08" y2="1506" stroke="#1a1a1a" stroke-width="1.5"/>
<line x1="2078.47" y1="1498.8" x2="2078.47" y2="1506" stroke="#1a1a1a" stroke-width="1.5"/>
<line x1="2110.86" y1="1498.8" x2="2110.86" y2="1506" stroke="#1a1a1a" stroke-width="1.5"/>
<line x1="2143.25" y1="1498.8" x2="2143.25" y2="1506" stroke="#1a1a1a" stroke-width="1.5"/>
<text x="890.5" y="1208" text-anchor="middle" transform="rotate(-90 890.5 1208)" textLength="141" lengthAdjust="spacingAndGlyphs">SV number</text>
<rect x="1023.3" y="930.5" width="23.7" height="23.6" fill="#4169E1"/>
<text x="1060.4" y="951.7" letter-spacing="0.35">Pan</text>
<rect x="1023.3" y="971.5" width="23.7" height="23.6" fill="#DC143C"/>
<text x="1060.4" y="992.7" letter-spacing="0.35">Core</text>
<g font-size="24" text-anchor="end">
<text x="1015.5" y="1518.2" transform="rotate(-90 1015.5 1518.2)" textLength="48" lengthAdjust="spacingAndGlyphs">‘Fuji’</text>
<text x="1047.89" y="1518.2" transform="rotate(-90 1047.89 1518.2)" textLength="194.7" lengthAdjust="spacingAndGlyphs">‘Golden Delicious’</text>
<text x="1080.28" y="1518.2" transform="rotate(-90 1080.28 1518.2)" textLength="58.4" lengthAdjust="spacingAndGlyphs">‘Gala’</text>
<text x="1112.67" y="1518.2" transform="rotate(-90 1112.67 1518.2)" textLength="88.5" lengthAdjust="spacingAndGlyphs">‘MM106’</text>
<text x="1145.06" y="1518.2" transform="rotate(-90 1145.06 1518.2)" textLength="44.1" lengthAdjust="spacingAndGlyphs">‘M9’</text>
<text x="1177.45" y="1518.2" font-style="italic" transform="rotate(-90 1177.45 1518.2)" textLength="115.1" lengthAdjust="spacingAndGlyphs">M. sieversii</text>
<text x="1209.84" y="1518.2" font-style="italic" transform="rotate(-90 1209.84 1518.2)" textLength="127.3" lengthAdjust="spacingAndGlyphs">M. orientalis</text>
<text x="1242.23" y="1518.2" font-style="italic" transform="rotate(-90 1242.23 1518.2)" textLength="87" lengthAdjust="spacingAndGlyphs">M. fusca</text>
<text x="1274.62" y="1518.2" font-style="italic" transform="rotate(-90 1274.62 1518.2)" textLength="127.3" lengthAdjust="spacingAndGlyphs">M. sylvestris</text>
<text x="1307.01" y="1518.2" font-style="italic" transform="rotate(-90 1307.01 1518.2)" textLength="81.7" lengthAdjust="spacingAndGlyphs">M. zumi</text>
<text x="1339.4" y="1518.2" font-style="italic" transform="rotate(-90 1339.4 1518.2)" textLength="143.3" lengthAdjust="spacingAndGlyphs">M. spectabilis</text>
<text x="1371.79" y="1518.2" font-style="italic" transform="rotate(-90 1371.79 1518.2)" textLength="119.4" lengthAdjust="spacingAndGlyphs">M. melliana</text>
<text x="1404.18" y="1518.2" font-style="italic" transform="rotate(-90 1404.18 1518.2)" textLength="142.9" lengthAdjust="spacingAndGlyphs">M. platycarpa</text>
<text x="1436.57" y="1518.2" font-style="italic" transform="rotate(-90 1436.57 1518.2)" textLength="154.6" lengthAdjust="spacingAndGlyphs">M. micromalus</text>
<text x="1468.96" y="1518.2" font-style="italic" transform="rotate(-90 1468.96 1518.2)" textLength="114.5" lengthAdjust="spacingAndGlyphs">M. baccata</text>
<text x="1501.35" y="1518.2" font-style="italic" transform="rotate(-90 1501.35 1518.2)" textLength="130.7" lengthAdjust="spacingAndGlyphs">M. prunifolia</text>
<text x="1533.74" y="1518.2" font-style="italic" transform="rotate(-90 1533.74 1518.2)" textLength="112.6" lengthAdjust="spacingAndGlyphs">M. halliana</text>
<text x="1566.13" y="1518.2" font-style="italic" transform="rotate(-90 1566.13 1518.2)" textLength="122.2" lengthAdjust="spacingAndGlyphs">M. sargentii</text>
<text x="1598.52" y="1518.2" font-style="italic" transform="rotate(-90 1598.52 1518.2)" textLength="167.4" lengthAdjust="spacingAndGlyphs">M. mandshurica</text>
<text x="1630.91" y="1518.2" font-style="italic" transform="rotate(-90 1630.91 1518.2)" textLength="88.7" lengthAdjust="spacingAndGlyphs">M. rockii</text>
<text x="1663.3" y="1518.2" font-style="italic" transform="rotate(-90 1663.3 1518.2)" textLength="139.2" lengthAdjust="spacingAndGlyphs">M. floribunda</text>
<text x="1695.69" y="1518.2" font-style="italic" transform="rotate(-90 1695.69 1518.2)" textLength="109.4" lengthAdjust="spacingAndGlyphs">M. asiatica</text>
<text x="1728.08" y="1518.2" font-style="italic" transform="rotate(-90 1728.08 1518.2)" textLength="151.4" lengthAdjust="spacingAndGlyphs">M. hupehensis</text>
<text x="1760.47" y="1518.2" font-style="italic" transform="rotate(-90 1760.47 1518.2)" textLength="120" lengthAdjust="spacingAndGlyphs">M. sieboldii</text>
<text x="1792.86" y="1518.2" font-style="italic" transform="rotate(-90 1792.86 1518.2)" textLength="150.3" lengthAdjust="spacingAndGlyphs">M. sikkimensis</text>
<text x="1825.25" y="1518.2" font-style="italic" transform="rotate(-90 1825.25 1518.2)" textLength="136.5" lengthAdjust="spacingAndGlyphs">M. transitoria</text>
<text x="1857.64" y="1518.2" font-style="italic" transform="rotate(-90 1857.64 1518.2)" textLength="151.4" lengthAdjust="spacingAndGlyphs">M. xiaojinensis</text>
<text x="1890.03" y="1518.2" font-style="italic" transform="rotate(-90 1890.03 1518.2)" textLength="150.3" lengthAdjust="spacingAndGlyphs">M. toringoides</text>
<text x="1922.42" y="1518.2" font-style="italic" transform="rotate(-90 1922.42 1518.2)" textLength="133.5" lengthAdjust="spacingAndGlyphs">M. komarovii</text>
<text x="1954.81" y="1518.2" font-style="italic" transform="rotate(-90 1954.81 1518.2)" textLength="161.4" lengthAdjust="spacingAndGlyphs">M. yunnanensis</text>
<text x="1987.2" y="1518.2" font-style="italic" transform="rotate(-90 1987.2 1518.2)" textLength="150.3" lengthAdjust="spacingAndGlyphs">M. honanensis</text>
<text x="2019.59" y="1518.2" font-style="italic" transform="rotate(-90 2019.59 1518.2)" textLength="152.5" lengthAdjust="spacingAndGlyphs">M. ombrophila</text>
<text x="2051.98" y="1518.2" font-style="italic" transform="rotate(-90 2051.98 1518.2)" textLength="153.5" lengthAdjust="spacingAndGlyphs">M. angustifolia</text>
<text x="2084.37" y="1518.2" font-style="italic" transform="rotate(-90 2084.37 1518.2)" textLength="101.9" lengthAdjust="spacingAndGlyphs">M. ioensis</text>
<text x="2116.76" y="1518.2" font-style="italic" transform="rotate(-90 2116.76 1518.2)" textLength="131.1" lengthAdjust="spacingAndGlyphs">M. florentina</text>
<text x="2149.15" y="1518.2" font-style="italic" transform="rotate(-90 2149.15 1518.2)" textLength="119" lengthAdjust="spacingAndGlyphs">M. doumeri</text>
</g>
<text x="1159.9" y="1718.4" textLength="87" lengthAdjust="spacingAndGlyphs">Clade I</text>
<text x="1560" y="1718.4" textLength="95.8" lengthAdjust="spacingAndGlyphs">Clade II</text>
<text x="1775.5" y="1718.4" textLength="20.5" lengthAdjust="spacingAndGlyphs">III</text>
<text x="1839" y="1718.4" textLength="23.5" lengthAdjust="spacingAndGlyphs">IV</text>
<text x="1908" y="1718.4" textLength="16" lengthAdjust="spacingAndGlyphs">V</text>
<text x="1969.7" y="1718.4" textLength="20.9" lengthAdjust="spacingAndGlyphs">VI</text>
<text x="2036.8" y="1718.4" textLength="112.2" lengthAdjust="spacingAndGlyphs">Clade VII</text>
<path d="M1445.66 911.8V1719M1769.56 911.8V1719M1801.95 911.8V1719M1899.12 911.8V1719M1931.52 911.8V1719M2028.68 911.8V1719" stroke="#CC0000" stroke-width="2.8" fill="none" stroke-dasharray="8.8 8.02" stroke-dashoffset="4.0"/>
</g>
<g id="pa">
<text x="5" y="37.5" font-size="41.5" font-weight="bold" stroke="#000" stroke-width="0.8">a</text>
<g transform="matrix(0.998 0 0 1.0068 0.062 -4.236)">
<path d="M297.32 237.18A136.8 136.8 0 0 1 337.62 248.47M338.71 248.97A136.8 136.8 0 0 1 377.14 275.68M377.99 276.52A136.8 136.8 0 0 1 404.83 314.86M405.43 316.16A136.8 136.8 0 0 1 416.49 354.08M416.65 355.26A136.8 136.8 0 0 1 411.93 412.65M411.58 413.79A136.8 136.8 0 0 1 392.16 452.73M391.46 453.7A136.8 136.8 0 0 1 359.56 484.99M358.58 485.67A136.8 136.8 0 0 1 323.61 502.99M322.48 503.36A136.8 136.8 0 0 1 278.73 509.78M277.54 509.76A136.8 136.8 0 0 1 224.6 497.63M223.51 497.13A136.8 136.8 0 0 1 180.71 466.04M179.9 465.16A136.8 136.8 0 0 1 157.58 432M157.07 430.92A136.8 136.8 0 0 1 144.32 378.61M144.27 377.42A136.8 136.8 0 0 1 148.95 337.25M149.27 336.1A136.8 136.8 0 0 1 183.68 276.86M184.52 276.01A136.8 136.8 0 0 1 225.47 247.98M226.56 247.5A136.8 136.8 0 0 1 265.63 237.07" fill="none" stroke="#EFEFEF" stroke-width="24"/>
<path d="M310.78 130.42A244.4 244.4 0 0 1 381.57 150.25" fill="none" stroke="#996600" stroke-width="7.6"/>
<path d="M384.67 151.68A244.4 244.4 0 0 1 452.3 198.68" fill="none" stroke="#666600" stroke-width="7.6"/>
<path d="M454.72 201.09A244.4 244.4 0 0 1 501.96 268.55" fill="none" stroke="#99991E" stroke-width="7.6"/>
<path d="M503.57 272.04A244.4 244.4 0 0 1 522.96 338.56" fill="none" stroke="#CC0000" stroke-width="7.6"/>
<path d="M523.42 341.95A244.4 244.4 0 0 1 515.09 443.23" fill="none" stroke="#FF0000" stroke-width="7.6"/>
<path d="M514.09 446.49A244.4 244.4 0 0 1 479.97 514.92" fill="none" stroke="#FF00CC" stroke-width="7.6"/>
<path d="M477.97 517.69A244.4 244.4 0 0 1 421.88 572.71" fill="none" stroke="#FFCCCC" stroke-width="7.6"/>
<path d="M419.08 574.66A244.4 244.4 0 0 1 357.74 605.04" fill="none" stroke="#FF9900" stroke-width="7.6"/>
<path d="M354.49 606.09A244.4 244.4 0 0 1 277.59 617.38" fill="none" stroke="#FFCC00" stroke-width="7.6"/>
<path d="M274.18 617.3A244.4 244.4 0 0 1 180.81 595.92" fill="none" stroke="#FFFF00" stroke-width="7.6"/>
<path d="M177.71 594.5A244.4 244.4 0 0 1 102.26 539.68" fill="none" stroke="#CCFF00" stroke-width="7.6"/>
<path d="M99.95 537.17A244.4 244.4 0 0 1 60.78 478.99" fill="none" stroke="#00FF00" stroke-width="7.6"/>
<path d="M59.32 475.9A244.4 244.4 0 0 1 36.83 383.66" fill="none" stroke="#358000" stroke-width="7.6"/>
<path d="M36.71 380.25A244.4 244.4 0 0 1 44.93 309.74" fill="none" stroke="#0000CC" stroke-width="7.6"/>
<path d="M45.83 306.45A244.4 244.4 0 0 1 106.68 201.7" fill="none" stroke="#6699FF" stroke-width="7.6"/>
<path d="M109.09 199.28A244.4 244.4 0 0 1 181.2 149.9" fill="none" stroke="#99CCFF" stroke-width="7.6"/>
<path d="M184.33 148.53A244.4 244.4 0 0 1 252.91 130.22" fill="none" stroke="#00FFFF" stroke-width="7.6"/>
<path d="M308.39 151.08A223.6 223.6 0 0 1 326.49 154.08M326.95 154.17A223.6 223.6 0 0 1 339.56 157.21M402.35 185.19A223.6 223.6 0 0 1 420.85 198.53M457.44 235.65A223.6 223.6 0 0 1 468.49 251.16M491.78 298.38A223.6 223.6 0 0 1 497.4 316.72M502.81 344.73A223.6 223.6 0 0 1 503.4 396.16M491.53 448.33A223.6 223.6 0 0 1 479.43 476.06M447.52 522.22A223.6 223.6 0 0 1 425.76 543.42M380.25 573.37A223.6 223.6 0 0 1 357.07 583.26M313.47 594.23A223.6 223.6 0 0 1 281.38 596.6M248.36 594.2A223.6 223.6 0 0 1 226.62 589.89M153.06 556.38A223.6 223.6 0 0 1 132.74 540.38M104.94 510.84A223.6 223.6 0 0 1 95.41 497.71M61.86 417.45A223.6 223.6 0 0 1 57.62 382.89M57.78 360.03A223.6 223.6 0 0 1 58 356.6M57.99 356.8A223.6 223.6 0 0 1 60.59 335.35M83.32 268.51A223.6 223.6 0 0 1 106.71 232.93M154.67 188.5A223.6 223.6 0 0 1 189.57 168.95M220.19 157.83A223.6 223.6 0 0 1 236.14 153.95" fill="none" stroke="#99CCFF" stroke-width="25.2"/>
<path d="M326.3 154.04A223.6 223.6 0 0 1 327.14 154.21M339.37 157.15A223.6 223.6 0 0 1 355.6 162.21M390.73 178.17A223.6 223.6 0 0 1 402.51 185.3M420.7 198.41A223.6 223.6 0 0 1 437.62 213.42M440.03 215.82A223.6 223.6 0 0 1 457.56 235.8M468.38 251A223.6 223.6 0 0 1 480.53 272.07M480.44 271.9A223.6 223.6 0 0 1 483.09 277.32M484.69 280.76A223.6 223.6 0 0 1 485.28 282.09M485.72 283.07A223.6 223.6 0 0 1 491.85 298.56M497.35 316.53A223.6 223.6 0 0 1 500.96 332.8M502.07 339.48A223.6 223.6 0 0 1 502.35 341.36M503.42 395.97A223.6 223.6 0 0 1 502.62 402.66M502.65 402.46A223.6 223.6 0 0 1 497.65 428.31M497.7 428.12A223.6 223.6 0 0 1 495.21 437.12M494.21 440.37A223.6 223.6 0 0 1 491.46 448.51M479.52 475.89A223.6 223.6 0 0 1 472.6 488.27M472.7 488.1A223.6 223.6 0 0 1 468.9 494.21M461.12 505.49A223.6 223.6 0 0 1 447.39 522.37M407.21 557.57A223.6 223.6 0 0 1 391.13 567.6M391.3 567.5A223.6 223.6 0 0 1 380.07 573.45M357.25 583.2A223.6 223.6 0 0 1 355.3 583.89M354.3 584.24A223.6 223.6 0 0 1 351.34 585.25M348.11 586.29A223.6 223.6 0 0 1 330.76 590.99M330.95 590.95A223.6 223.6 0 0 1 313.28 594.26M281.57 596.6A223.6 223.6 0 0 1 278.02 596.58M274.62 596.51A223.6 223.6 0 0 1 248.17 594.18M226.81 589.93A223.6 223.6 0 0 1 220.67 588.31M220.01 588.12A223.6 223.6 0 0 1 213.93 586.3M214.11 586.36A223.6 223.6 0 0 1 205.59 583.5M169.67 566.92A223.6 223.6 0 0 1 152.9 556.27M132.89 540.51A223.6 223.6 0 0 1 120.38 528.56M113.13 520.7A223.6 223.6 0 0 1 104.82 510.68M95.52 497.87A223.6 223.6 0 0 1 86.95 484.1M87.05 484.27A223.6 223.6 0 0 1 83.85 478.49M69.94 446.84A223.6 223.6 0 0 1 67.17 438.37M67.23 438.56A223.6 223.6 0 0 1 61.82 417.26M57.49 379.49A223.6 223.6 0 0 1 57.79 359.84M60.56 335.54A223.6 223.6 0 0 1 62.04 327.7M62 327.89A223.6 223.6 0 0 1 63.15 322.63M73.88 288.75A223.6 223.6 0 0 1 83.41 268.34M106.59 233.08A223.6 223.6 0 0 1 121.42 216.38M138.06 201.06A223.6 223.6 0 0 1 154.83 188.39M207.81 161.72A223.6 223.6 0 0 1 220.38 157.78M235.95 153.99A223.6 223.6 0 0 1 252.14 151.27M253.23 151.13A223.6 223.6 0 0 1 255.16 150.9" fill="none" stroke="#6699FF" stroke-width="25.2"/>
<path d="M355.42 162.15A223.6 223.6 0 0 1 372.89 169.15M375.98 170.57A223.6 223.6 0 0 1 390.9 178.27M485.21 281.91A223.6 223.6 0 0 1 485.8 283.25M500.92 332.61A223.6 223.6 0 0 1 502.1 339.67M469 494.04A223.6 223.6 0 0 1 463.12 502.73M425.91 543.29A223.6 223.6 0 0 1 410 555.63M355.48 583.83A223.6 223.6 0 0 1 354.12 584.31M220.86 588.36A223.6 223.6 0 0 1 219.82 588.07M205.78 583.57A223.6 223.6 0 0 1 189.47 577.01M186.38 575.59A223.6 223.6 0 0 1 169.5 566.82M120.51 528.7A223.6 223.6 0 0 1 117.56 525.6M115.26 523.09A223.6 223.6 0 0 1 113 520.56M83.94 478.66A223.6 223.6 0 0 1 79.58 470.09M78.13 467.02A223.6 223.6 0 0 1 69.88 446.65M63.1 322.82A223.6 223.6 0 0 1 64.98 315.26M65.89 311.98A223.6 223.6 0 0 1 69.26 301.13M69.2 301.32A223.6 223.6 0 0 1 73.95 288.57M123.82 213.97A223.6 223.6 0 0 1 134.54 204.04M134.4 204.17A223.6 223.6 0 0 1 138.21 200.93M192.68 167.58A223.6 223.6 0 0 1 207.99 161.65M251.94 151.3A223.6 223.6 0 0 1 253.42 151.11" fill="none" stroke="#0000CC" stroke-width="25.2"/>
<path d="M305.08 179.69A194.8 194.8 0 0 1 316.73 181.51M316.57 181.47A194.8 194.8 0 0 1 320.73 182.29M392.18 213.04A194.8 194.8 0 0 1 397.61 216.96M464.66 308.07A194.8 194.8 0 0 1 466.8 314.46M474.26 348.59A194.8 194.8 0 0 1 474.48 350.36M475.55 363.09A194.8 194.8 0 0 1 475.69 366.49M462.67 443.32A194.8 194.8 0 0 1 456.59 457.35M417.42 512.06A194.8 194.8 0 0 1 413.69 515.62M369.88 546.34A194.8 194.8 0 0 1 363.41 549.51M301.96 566.67A194.8 194.8 0 0 1 291.98 567.49M248.71 565.11A194.8 194.8 0 0 1 242.56 563.97M166.5 530.6A194.8 194.8 0 0 1 159.29 525.1M121.93 485.44A194.8 194.8 0 0 1 119.31 481.65M88.5 402.86A194.8 194.8 0 0 1 87.01 390.7M87.02 390.87A194.8 194.8 0 0 1 86.87 389.2M86.89 389.37A194.8 194.8 0 0 1 86.4 381.84M86.47 362.74A194.8 194.8 0 0 1 86.65 359.77M112.55 275.16A194.8 194.8 0 0 1 117.72 266.76M133.94 245.25A194.8 194.8 0 0 1 135.33 243.67M179.68 206.62A194.8 194.8 0 0 1 191.93 199.76M191.78 199.84A194.8 194.8 0 0 1 201.15 195.32M252.71 180.26A194.8 194.8 0 0 1 253.99 180.08" fill="none" stroke="#0000CC" stroke-width="24.8"/>
<path d="M320.56 182.26A194.8 194.8 0 0 1 333.71 185.47M333.55 185.42A194.8 194.8 0 0 1 339.29 187.12M389.48 211.2A194.8 194.8 0 0 1 392.31 213.14M397.47 216.85A194.8 194.8 0 0 1 417.29 233.82M426.4 243.36A194.8 194.8 0 0 1 436.05 255.08M435.95 254.94A194.8 194.8 0 0 1 438.78 258.75M438.68 258.61A194.8 194.8 0 0 1 444.32 266.82M460.72 297.86A194.8 194.8 0 0 1 464.72 308.23M466.75 314.3A194.8 194.8 0 0 1 470.82 329.25M474.46 350.19A194.8 194.8 0 0 1 475.56 363.26M475.69 366.32A194.8 194.8 0 0 1 475.63 381.06M456.66 457.2A194.8 194.8 0 0 1 452.47 465.44M423.92 505.37A194.8 194.8 0 0 1 417.29 512.18M413.82 515.5A194.8 194.8 0 0 1 405.76 522.61M385.36 537.49A194.8 194.8 0 0 1 369.73 546.42M363.57 549.44A194.8 194.8 0 0 1 352.49 554.21M315.36 564.75A194.8 194.8 0 0 1 301.79 566.69M292.15 567.48A194.8 194.8 0 0 1 278.62 567.79M275.22 567.71A194.8 194.8 0 0 1 248.55 565.08M242.72 564A194.8 194.8 0 0 1 219.03 557.68M175.68 536.87A194.8 194.8 0 0 1 166.36 530.5M159.43 525.21A194.8 194.8 0 0 1 149.17 516.41M122.57 486.34A194.8 194.8 0 0 1 121.83 485.3M119.41 481.79A194.8 194.8 0 0 1 113.4 472.28M92.67 422.79A194.8 194.8 0 0 1 88.48 402.69M86.29 367.22A194.8 194.8 0 0 1 86.48 362.57M86.64 359.94A194.8 194.8 0 0 1 89.16 339.17M107.9 283.66A194.8 194.8 0 0 1 112.64 275.01M117.63 266.9A194.8 194.8 0 0 1 134.05 245.12M135.22 243.79A194.8 194.8 0 0 1 141.82 236.71M162.52 218.37A194.8 194.8 0 0 1 179.83 206.53M228.04 185.54A194.8 194.8 0 0 1 236.35 183.39M236.19 183.42A194.8 194.8 0 0 1 252.88 180.24" fill="none" stroke="#6699FF" stroke-width="24.8"/>
<path d="M339.12 187.07A194.8 194.8 0 0 1 360.85 195.32M363.94 196.74A194.8 194.8 0 0 1 381.36 206.04M381.21 205.95A194.8 194.8 0 0 1 389.62 211.29M419.7 236.22A194.8 194.8 0 0 1 426.51 243.49M444.22 266.68A194.8 194.8 0 0 1 452.63 280.86M452.55 280.71A194.8 194.8 0 0 1 456.97 289.44M458.54 292.84A194.8 194.8 0 0 1 460.79 298.01M470.78 329.08A194.8 194.8 0 0 1 473.81 345.22M475.64 380.89A194.8 194.8 0 0 1 467.68 428.65M466.68 431.9A194.8 194.8 0 0 1 462.6 443.48M452.55 465.29A194.8 194.8 0 0 1 439.79 485.84M437.79 488.6A194.8 194.8 0 0 1 423.8 505.49M405.89 522.5A194.8 194.8 0 0 1 393.57 531.98M390.77 533.92A194.8 194.8 0 0 1 385.21 537.58M352.65 554.15A194.8 194.8 0 0 1 342.49 557.84M339.25 558.89A194.8 194.8 0 0 1 315.19 564.78M219.19 557.73A194.8 194.8 0 0 1 201.46 550.82M198.37 549.4A194.8 194.8 0 0 1 175.53 536.78M149.29 516.53A194.8 194.8 0 0 1 138.76 506.1M136.46 503.6A194.8 194.8 0 0 1 122.47 486.2M113.48 472.42A194.8 194.8 0 0 1 105.62 457.78M104.16 454.71A194.8 194.8 0 0 1 97.04 437.06M97.09 437.22A194.8 194.8 0 0 1 92.63 422.63M86.28 378.44A194.8 194.8 0 0 1 86.29 367.05M89.13 339.34A194.8 194.8 0 0 1 92.75 322.91M93.65 319.63A194.8 194.8 0 0 1 99.94 301.13M99.88 301.29A194.8 194.8 0 0 1 107.98 283.5M144.22 234.3A194.8 194.8 0 0 1 162.66 218.27M204.26 193.95A194.8 194.8 0 0 1 222.83 187.09M222.67 187.14A194.8 194.8 0 0 1 228.21 185.49M253.82 180.11A194.8 194.8 0 0 1 258.27 179.53" fill="none" stroke="#99CCFF" stroke-width="24.8"/>
<path d="M301.73 208.6A165.7 165.7 0 0 1 302.85 208.75M342.38 219.09A165.7 165.7 0 0 1 348.69 221.76M351.78 223.18A165.7 165.7 0 0 1 356.84 225.68M428.12 296.77A165.7 165.7 0 0 1 430.57 301.7M444.08 343.66A165.7 165.7 0 0 1 444.97 349.12M443.87 403.5A165.7 165.7 0 0 1 439.87 420.1M424.46 455.91A165.7 165.7 0 0 1 416.21 468.78M383.26 503.38A165.7 165.7 0 0 1 376.96 508.09M330.31 531.19A165.7 165.7 0 0 1 322.69 533.37M225.5 529.13A165.7 165.7 0 0 1 213.57 524.36M135.78 452.8A165.7 165.7 0 0 1 131.93 445.35M130.47 442.27A165.7 165.7 0 0 1 128.36 437.48M117.77 344.47A165.7 165.7 0 0 1 120.81 330.64M121.71 327.36A165.7 165.7 0 0 1 124.74 317.86M164.83 254.84A165.7 165.7 0 0 1 170.05 249.93M215.96 220.6A165.7 165.7 0 0 1 224.88 217.09" fill="none" stroke="#99CCFF" stroke-width="25"/>
<path d="M302.7 208.73A165.7 165.7 0 0 1 318.73 211.65M373.3 235.38A165.7 165.7 0 0 1 381.03 240.9M415.14 275.72A165.7 165.7 0 0 1 419.29 281.72M437.41 318.3A165.7 165.7 0 0 1 440.12 326.77M445.59 353.84A165.7 165.7 0 0 1 445.68 354.66M446.13 359.28A165.7 165.7 0 0 1 446.7 373.07M436.9 429.14A165.7 165.7 0 0 1 430.35 444.78M404.98 482.93A165.7 165.7 0 0 1 396.93 491.39M359.4 518.98A165.7 165.7 0 0 1 352.37 522.54M342.09 527.03A165.7 165.7 0 0 1 340.68 527.58M299.92 537.62A165.7 165.7 0 0 1 289.45 538.48M281.82 538.7A165.7 165.7 0 0 1 280.64 538.7M263.01 537.72A165.7 165.7 0 0 1 248.89 535.56M237.77 532.96A165.7 165.7 0 0 1 237.01 532.75M193.99 514.02A165.7 165.7 0 0 1 191.22 512.27M191.35 512.35A165.7 165.7 0 0 1 184.5 507.7M143.03 464.76A165.7 165.7 0 0 1 138.96 458.34M136.23 453.62A165.7 165.7 0 0 1 135.71 452.68M118.63 406.03A165.7 165.7 0 0 1 117.66 400.88M117.69 401.02A165.7 165.7 0 0 1 115.48 380.77M115.47 365.57A165.7 165.7 0 0 1 116.17 356.01M130.89 302.84A165.7 165.7 0 0 1 138.62 288.24M153.66 266.98A165.7 165.7 0 0 1 154.81 265.61M182.62 239.67A165.7 165.7 0 0 1 187.5 236.2M187.38 236.28A165.7 165.7 0 0 1 205.08 225.72M204.95 225.78A165.7 165.7 0 0 1 212.84 221.97M235.98 213.53A165.7 165.7 0 0 1 245.27 211.2M256.74 209.09A165.7 165.7 0 0 1 257.81 208.93" fill="none" stroke="#0000CC" stroke-width="25"/>
<path d="M318.59 211.62A165.7 165.7 0 0 1 334.25 216.09M334.12 216.04A165.7 165.7 0 0 1 342.52 219.14M356.72 225.61A165.7 165.7 0 0 1 371.12 233.95M371 233.87A165.7 165.7 0 0 1 373.42 235.47M380.91 240.81A165.7 165.7 0 0 1 396.75 254.43M399.16 256.83A165.7 165.7 0 0 1 415.22 275.84M419.21 281.6A165.7 165.7 0 0 1 428.19 296.9M432.12 305.04A165.7 165.7 0 0 1 437.46 318.44M440.08 326.63A165.7 165.7 0 0 1 444.11 343.8M445.43 352.48A165.7 165.7 0 0 1 445.61 353.98M445.67 354.52A165.7 165.7 0 0 1 446.14 359.42M446.7 372.93A165.7 165.7 0 0 1 446.56 379.9M446.56 379.76A165.7 165.7 0 0 1 443.84 403.64M438.87 423.34A165.7 165.7 0 0 1 436.85 429.27M430.41 444.65A165.7 165.7 0 0 1 424.39 456.04M414.22 471.53A165.7 165.7 0 0 1 410.95 475.81M411.04 475.7A165.7 165.7 0 0 1 404.89 483.04M397.04 491.29A165.7 165.7 0 0 1 383.14 503.47M374.17 510.03A165.7 165.7 0 0 1 359.27 519.05M352.5 522.48A165.7 165.7 0 0 1 341.95 527.08M340.82 527.53A165.7 165.7 0 0 1 333.54 530.15M322.83 533.33A165.7 165.7 0 0 1 299.78 537.63M289.59 538.48A165.7 165.7 0 0 1 281.68 538.7M280.78 538.7A165.7 165.7 0 0 1 279.23 538.69M275.83 538.62A165.7 165.7 0 0 1 262.87 537.7M249.04 535.59A165.7 165.7 0 0 1 237.63 532.92M237.15 532.79A165.7 165.7 0 0 1 225.37 529.08M210.48 522.94A165.7 165.7 0 0 1 193.87 513.94M184.62 507.79A165.7 165.7 0 0 1 160.19 486.4M157.88 483.9A165.7 165.7 0 0 1 142.95 464.64M139.04 458.46A165.7 165.7 0 0 1 136.16 453.49M128.42 437.61A165.7 165.7 0 0 1 119.26 409M119.29 409.14A165.7 165.7 0 0 1 118.6 405.89M115.36 377.37A165.7 165.7 0 0 1 115.47 365.43M116.16 356.16A165.7 165.7 0 0 1 117.8 344.33M124.7 318A165.7 165.7 0 0 1 130.95 302.71M138.55 288.36A165.7 165.7 0 0 1 153.75 266.87M154.71 265.72A165.7 165.7 0 0 1 162.43 257.25M169.94 250.03A165.7 165.7 0 0 1 182.73 239.58M224.74 217.14A165.7 165.7 0 0 1 236.12 213.49M245.13 211.23A165.7 165.7 0 0 1 256.88 209.07M257.67 208.95A165.7 165.7 0 0 1 261.42 208.46" fill="none" stroke="#6699FF" stroke-width="25"/>
<path d="M310.83 151.4A223.6 223.6 0 0 1 311.37 151.47M308.99 151.16A223.6 223.6 0 0 1 309.53 151.23M338.11 156.82A223.6 223.6 0 0 1 338.41 156.9M369.47 167.65A223.6 223.6 0 0 1 369.97 167.86M356.66 162.59A223.6 223.6 0 0 1 357.83 163.02M366.32 166.32A223.6 223.6 0 0 1 366.97 166.59M356.32 162.47A223.6 223.6 0 0 1 357.97 163.07M356.35 162.48A223.6 223.6 0 0 1 356.72 162.61M365.87 166.13A223.6 223.6 0 0 1 366.74 166.49M366.94 166.57A223.6 223.6 0 0 1 367.8 166.94M368.62 167.28A223.6 223.6 0 0 1 369.48 167.65M365.29 165.89A223.6 223.6 0 0 1 366.15 166.25M361.55 164.41A223.6 223.6 0 0 1 362.06 164.61M368.54 167.25A223.6 223.6 0 0 1 370.15 167.94M368.91 167.41A223.6 223.6 0 0 1 369.27 167.56M364.95 165.76A223.6 223.6 0 0 1 366.1 166.23M385.58 175.36A223.6 223.6 0 0 1 385.93 175.55M382.64 173.84A223.6 223.6 0 0 1 383.75 174.41M378.39 171.72A223.6 223.6 0 0 1 379.02 172.03M375.98 170.57A223.6 223.6 0 0 1 376.46 170.8M383.38 174.21A223.6 223.6 0 0 1 384.49 174.79M384.16 174.62A223.6 223.6 0 0 1 384.64 174.87M385.67 175.41A223.6 223.6 0 0 1 386.77 176M389.24 177.34A223.6 223.6 0 0 1 390.73 178.17M385.84 175.5A223.6 223.6 0 0 1 386.18 175.68M382 173.51A223.6 223.6 0 0 1 383.56 174.31M387.38 176.33A223.6 223.6 0 0 1 388.2 176.77M404.86 186.84A223.6 223.6 0 0 1 405.45 187.23M419.42 197.4A223.6 223.6 0 0 1 420.4 198.17M409.02 189.68A223.6 223.6 0 0 1 409.34 189.9M404.14 186.36A223.6 223.6 0 0 1 404.92 186.88M420.21 198.02A223.6 223.6 0 0 1 420.7 198.41M411.04 191.11A223.6 223.6 0 0 1 411.62 191.52M403.81 186.15A223.6 223.6 0 0 1 404.14 186.36M415.53 194.4A223.6 223.6 0 0 1 416.93 195.46M406.61 188.02A223.6 223.6 0 0 1 408.06 189.01M405.24 187.09A223.6 223.6 0 0 1 405.56 187.31M405.7 187.4A223.6 223.6 0 0 1 406.74 188.1M408.42 189.26A223.6 223.6 0 0 1 409.86 190.26M412.32 192.03A223.6 223.6 0 0 1 412.64 192.26M416.11 194.83A223.6 223.6 0 0 1 416.66 195.26M420.17 197.99A223.6 223.6 0 0 1 420.47 198.23M467 248.89A223.6 223.6 0 0 1 467.21 249.22M467.5 249.65A223.6 223.6 0 0 1 467.67 249.91M496.65 313.89A223.6 223.6 0 0 1 496.97 315.09M493.57 303.65A223.6 223.6 0 0 1 493.74 304.17M497.18 315.87A223.6 223.6 0 0 1 497.35 316.53M492.73 301.11A223.6 223.6 0 0 1 493.29 302.78M495.92 311.3A223.6 223.6 0 0 1 496.07 311.83M494.12 305.33A223.6 223.6 0 0 1 494.33 306M497.2 315.94A223.6 223.6 0 0 1 497.34 316.47M491.78 298.38A223.6 223.6 0 0 1 492.16 299.46M495.96 311.45A223.6 223.6 0 0 1 496.15 312.12M494.31 305.95A223.6 223.6 0 0 1 494.43 306.33M492.16 299.45A223.6 223.6 0 0 1 492.46 300.33M496.49 313.31A223.6 223.6 0 0 1 496.95 315.01M497.05 315.4A223.6 223.6 0 0 1 497.35 316.53M501.21 334.22A223.6 223.6 0 0 1 501.28 334.6M504.48 380.3A223.6 223.6 0 0 1 504.42 382.05M504.56 377.47A223.6 223.6 0 0 1 504.55 377.86M502.97 346.04A223.6 223.6 0 0 1 503.03 346.59M504.56 377.18A223.6 223.6 0 0 1 504.55 377.57M504.4 363.53A223.6 223.6 0 0 1 504.44 364.46M504.6 372.46A223.6 223.6 0 0 1 504.6 374.21M502.85 345.07A223.6 223.6 0 0 1 503 346.31M504.52 379.14A223.6 223.6 0 0 1 504.49 380.08M504.08 357.74A223.6 223.6 0 0 1 504.14 358.68M504.29 384.74A223.6 223.6 0 0 1 504.19 386.49M503.8 391.9A223.6 223.6 0 0 1 503.69 393.14M503.29 348.8A223.6 223.6 0 0 1 503.42 350.04M503.11 347.22A223.6 223.6 0 0 1 503.3 348.97M504.56 368.79A223.6 223.6 0 0 1 504.57 369.18M504.11 387.82A223.6 223.6 0 0 1 504.07 388.37M504.43 381.83A223.6 223.6 0 0 1 504.4 382.38M503.93 355.64A223.6 223.6 0 0 1 504.05 357.39M503.59 394.26A223.6 223.6 0 0 1 503.5 395.2M504.1 387.87A223.6 223.6 0 0 1 504.08 388.26M504.55 368.37A223.6 223.6 0 0 1 504.58 370.13M504.18 359.22A223.6 223.6 0 0 1 504.2 359.61M504.59 375.46A223.6 223.6 0 0 1 504.56 377.22M503.81 354.23A223.6 223.6 0 0 1 503.91 355.48M503.6 351.9A223.6 223.6 0 0 1 503.67 352.6M504.56 377.24A223.6 223.6 0 0 1 504.52 378.99M504.2 359.67A223.6 223.6 0 0 1 504.27 360.92M503.52 351.07A223.6 223.6 0 0 1 503.61 352M503.14 347.47A223.6 223.6 0 0 1 503.22 348.17M503.58 394.37A223.6 223.6 0 0 1 503.54 394.76M504.51 379.32A223.6 223.6 0 0 1 504.45 381.08M504.56 368.92A223.6 223.6 0 0 1 504.59 370.68M504.59 370.71A223.6 223.6 0 0 1 504.6 371.65M504.55 368.38A223.6 223.6 0 0 1 504.56 368.77M503.51 395.01A223.6 223.6 0 0 1 503.42 395.97M503.85 354.71A223.6 223.6 0 0 1 503.88 355.1M483.18 468.51A223.6 223.6 0 0 1 483.01 468.86M480.62 473.74A223.6 223.6 0 0 1 480.3 474.37M489.84 452.88A223.6 223.6 0 0 1 489.21 454.52M480.8 473.39A223.6 223.6 0 0 1 480 474.95M486.52 461.09A223.6 223.6 0 0 1 486.24 461.74M484.16 466.4A223.6 223.6 0 0 1 483.77 467.25M481.86 471.25A223.6 223.6 0 0 1 481.55 471.88M486.75 460.54A223.6 223.6 0 0 1 486.6 460.9M491.53 448.33A223.6 223.6 0 0 1 491.38 448.74M490.86 450.17A223.6 223.6 0 0 1 490.54 451.05M480.22 474.52A223.6 223.6 0 0 1 480.05 474.87M485.36 463.74A223.6 223.6 0 0 1 485.14 464.24M487.54 458.67A223.6 223.6 0 0 1 487.27 459.32M482.13 470.68A223.6 223.6 0 0 1 481.72 471.53M490.93 449.98A223.6 223.6 0 0 1 490.32 451.63M486.45 461.25A223.6 223.6 0 0 1 486.17 461.9M485.68 463.03A223.6 223.6 0 0 1 485.3 463.88M489.63 453.44A223.6 223.6 0 0 1 489.38 454.1M483.23 468.39A223.6 223.6 0 0 1 482.83 469.23M491.38 448.74A223.6 223.6 0 0 1 491.06 449.62M489.22 454.49A223.6 223.6 0 0 1 488.57 456.13M467.78 495.92A223.6 223.6 0 0 1 466.81 497.39M465.09 499.91A223.6 223.6 0 0 1 464.09 501.35M463.55 502.11A223.6 223.6 0 0 1 463.33 502.43M469 494.04A223.6 223.6 0 0 1 468.72 494.49M468.87 494.25A223.6 223.6 0 0 1 467.91 495.72M463.65 501.98A223.6 223.6 0 0 1 463.12 502.73M464.66 500.54A223.6 223.6 0 0 1 464.12 501.31M464.39 500.92A223.6 223.6 0 0 1 464.08 501.37M445.79 524.13A223.6 223.6 0 0 1 444.95 525.05M432.73 537.24A223.6 223.6 0 0 1 432.21 537.72M443.3 526.8A223.6 223.6 0 0 1 442.82 527.31M440.63 529.57A223.6 223.6 0 0 1 440.36 529.85M443.59 526.5A223.6 223.6 0 0 1 443.1 527.01M447.34 522.43A223.6 223.6 0 0 1 446.16 523.73M433.96 536.1A223.6 223.6 0 0 1 433.56 536.47M430.38 539.38A223.6 223.6 0 0 1 429.86 539.85M439.27 530.94A223.6 223.6 0 0 1 438.78 531.44M443.98 526.09A223.6 223.6 0 0 1 443.5 526.6M446.07 523.82A223.6 223.6 0 0 1 445.81 524.11M431.02 538.8A223.6 223.6 0 0 1 430.1 539.64M437.76 532.45A223.6 223.6 0 0 1 437.09 533.1M445.78 524.15A223.6 223.6 0 0 1 445.14 524.83M433.68 536.35A223.6 223.6 0 0 1 433.28 536.73M434.17 535.89A223.6 223.6 0 0 1 433.89 536.16M434.07 535.99A223.6 223.6 0 0 1 433.38 536.63M433.13 536.87A223.6 223.6 0 0 1 432.44 537.5M426.84 542.49A223.6 223.6 0 0 1 425.91 543.29M441.31 528.87A223.6 223.6 0 0 1 441.04 529.15M441.51 528.67A223.6 223.6 0 0 1 440.64 529.56M419.61 548.45A223.6 223.6 0 0 1 419.3 548.7M412.51 553.84A223.6 223.6 0 0 1 411.94 554.25M416.16 551.13A223.6 223.6 0 0 1 415.41 551.69M414.66 552.26A223.6 223.6 0 0 1 414.22 552.58M411.34 554.68A223.6 223.6 0 0 1 410.57 555.23M412 554.21A223.6 223.6 0 0 1 411.24 554.76M424.31 544.64A223.6 223.6 0 0 1 424.01 544.89M419.86 548.26A223.6 223.6 0 0 1 419.31 548.69M418.93 548.99A223.6 223.6 0 0 1 418.5 549.33M424.05 544.85A223.6 223.6 0 0 1 423.75 545.1M417.97 549.74A223.6 223.6 0 0 1 416.58 550.81M413.54 553.08A223.6 223.6 0 0 1 412.79 553.63M425.01 544.05A223.6 223.6 0 0 1 424.06 544.85M411.91 554.27A223.6 223.6 0 0 1 410.48 555.29M372.94 576.82A223.6 223.6 0 0 1 372.58 576.98M370.46 577.92A223.6 223.6 0 0 1 369.96 578.14M366.4 579.65A223.6 223.6 0 0 1 366.04 579.8M374.11 576.29A223.6 223.6 0 0 1 372.98 576.81M375.32 575.73A223.6 223.6 0 0 1 373.72 576.47M358.64 582.69A223.6 223.6 0 0 1 357.46 583.12M359.26 582.46A223.6 223.6 0 0 1 358.6 582.7M364.31 580.5A223.6 223.6 0 0 1 362.68 581.15M379.73 573.62A223.6 223.6 0 0 1 379.24 573.86M374.47 576.13A223.6 223.6 0 0 1 372.87 576.85M371.01 577.68A223.6 223.6 0 0 1 369.87 578.18M372.18 577.16A223.6 223.6 0 0 1 371.82 577.32M377.52 574.69A223.6 223.6 0 0 1 377.03 574.93M366.47 579.62A223.6 223.6 0 0 1 366.11 579.77M379.92 573.53A223.6 223.6 0 0 1 379.57 573.7M367.66 579.12A223.6 223.6 0 0 1 367.01 579.39M307.18 595.06A223.6 223.6 0 0 1 306.87 595.1M312.65 594.35A223.6 223.6 0 0 1 312.11 594.43M310.97 594.58A223.6 223.6 0 0 1 310.43 594.66M245.23 593.72A223.6 223.6 0 0 1 244.93 593.67M231.46 591.04A223.6 223.6 0 0 1 230.92 590.92M194.07 579.01A223.6 223.6 0 0 1 193.21 578.65M194.86 579.34A223.6 223.6 0 0 1 193.71 578.86M193.94 578.96A223.6 223.6 0 0 1 193.08 578.59M192.75 578.45A223.6 223.6 0 0 1 191.14 577.75M194.76 579.3A223.6 223.6 0 0 1 193.14 578.61M194.56 579.21A223.6 223.6 0 0 1 194.05 579M195.45 579.59A223.6 223.6 0 0 1 193.83 578.91M204.16 582.98A223.6 223.6 0 0 1 203.28 582.66M201.44 581.97A223.6 223.6 0 0 1 199.8 581.33M194.73 579.29A223.6 223.6 0 0 1 193.86 578.92M202.22 582.26A223.6 223.6 0 0 1 201.34 581.93M194.9 579.36A223.6 223.6 0 0 1 193.28 578.68M177.39 571.15A223.6 223.6 0 0 1 176.56 570.71M178.73 571.84A223.6 223.6 0 0 1 178.24 571.59M174.84 569.79A223.6 223.6 0 0 1 174.36 569.53M178.52 571.73A223.6 223.6 0 0 1 177.41 571.16M177.05 570.97A223.6 223.6 0 0 1 175.5 570.15M186.38 575.59A223.6 223.6 0 0 1 185.95 575.39M179.02 571.99A223.6 223.6 0 0 1 177.92 571.42M178.29 571.61A223.6 223.6 0 0 1 177.66 571.29M172.59 568.56A223.6 223.6 0 0 1 171.98 568.22M179.96 572.47A223.6 223.6 0 0 1 178.39 571.67M185.89 575.36A223.6 223.6 0 0 1 184.3 574.61M181.06 573.02A223.6 223.6 0 0 1 179.49 572.23M186.38 575.59A223.6 223.6 0 0 1 185.33 575.1M136.38 543.54A223.6 223.6 0 0 1 136.08 543.28M146.28 551.46A223.6 223.6 0 0 1 145.97 551.22M135.5 542.78A223.6 223.6 0 0 1 135.2 542.53M118.89 527A223.6 223.6 0 0 1 118.51 526.61M103.6 509.1A223.6 223.6 0 0 1 103.03 508.36M99.3 503.31A223.6 223.6 0 0 1 98.89 502.74M101.74 506.65A223.6 223.6 0 0 1 101 505.65M98.26 501.85A223.6 223.6 0 0 1 97.72 501.09M98.62 502.36A223.6 223.6 0 0 1 98.3 501.91M95.93 498.48A223.6 223.6 0 0 1 95.71 498.16M101.93 506.91A223.6 223.6 0 0 1 100.89 505.5M103.61 509.13A223.6 223.6 0 0 1 103.05 508.39M100.61 505.12A223.6 223.6 0 0 1 100.05 504.36M96.36 499.12A223.6 223.6 0 0 1 95.66 498.09M101.9 506.87A223.6 223.6 0 0 1 101.48 506.3M81.19 473.37A223.6 223.6 0 0 1 80.64 472.25M80.66 472.31A223.6 223.6 0 0 1 80.42 471.82M80.55 472.07A223.6 223.6 0 0 1 80.24 471.44M81.06 473.09A223.6 223.6 0 0 1 80.74 472.47M82.97 476.84A223.6 223.6 0 0 1 82.54 476.01M83.32 477.5A223.6 223.6 0 0 1 83.14 477.15M72.6 454.03A223.6 223.6 0 0 1 72.26 453.15M76.6 463.64A223.6 223.6 0 0 1 76.38 463.14M74.97 459.88A223.6 223.6 0 0 1 74.76 459.37M70.09 447.27A223.6 223.6 0 0 1 69.94 446.84M76.72 463.92A223.6 223.6 0 0 1 76.44 463.28M70.44 448.23A223.6 223.6 0 0 1 70.3 447.86M70.72 449.02A223.6 223.6 0 0 1 70.59 448.65M71.21 450.36A223.6 223.6 0 0 1 71.07 449.99M76.08 462.46A223.6 223.6 0 0 1 75.58 461.32M72.43 453.6A223.6 223.6 0 0 1 71.8 451.96M71.88 452.16A223.6 223.6 0 0 1 71.55 451.28M77.73 466.16A223.6 223.6 0 0 1 77.51 465.67M75.39 460.87A223.6 223.6 0 0 1 75.24 460.51M70.68 448.91A223.6 223.6 0 0 1 70.09 447.25M72.04 452.58A223.6 223.6 0 0 1 71.6 451.41M60.92 412.53A223.6 223.6 0 0 1 60.85 412.15M59.48 403.46A223.6 223.6 0 0 1 59.44 403.15M61.74 416.85A223.6 223.6 0 0 1 61.64 416.32M57.95 388.67A223.6 223.6 0 0 1 57.92 388.28M57.78 360.03A223.6 223.6 0 0 1 57.81 359.45M57.9 358.07A223.6 223.6 0 0 1 57.95 357.37M57.91 357.98A223.6 223.6 0 0 1 57.97 357.04M60.17 337.89A223.6 223.6 0 0 1 60.24 337.51M60.08 338.5A223.6 223.6 0 0 1 60.16 337.96M64.84 315.79A223.6 223.6 0 0 1 64.94 315.41M63.1 322.82A223.6 223.6 0 0 1 63.48 321.23M64.38 317.57A223.6 223.6 0 0 1 64.55 316.89M63.1 322.82A223.6 223.6 0 0 1 63.28 322.08M64.16 318.45A223.6 223.6 0 0 1 64.39 317.55M63.84 319.71A223.6 223.6 0 0 1 64.27 318.01M67.54 306.42A223.6 223.6 0 0 1 67.64 306.12M71.38 295.18A223.6 223.6 0 0 1 71.62 294.52M73.22 290.38A223.6 223.6 0 0 1 73.69 289.22M70.38 297.92A223.6 223.6 0 0 1 70.56 297.41M72.25 292.86A223.6 223.6 0 0 1 72.89 291.23M71.5 294.86A223.6 223.6 0 0 1 71.83 293.98M71.74 294.2A223.6 223.6 0 0 1 72.19 293.04M70.02 298.95A223.6 223.6 0 0 1 70.33 298.07M69.79 299.6A223.6 223.6 0 0 1 70.38 297.94M70.62 297.26A223.6 223.6 0 0 1 71.04 296.09M94.14 250.19A223.6 223.6 0 0 1 94.66 249.41M105.49 234.45A223.6 223.6 0 0 1 106.08 233.72M83.39 268.37A223.6 223.6 0 0 1 83.72 267.75M86.49 262.71A223.6 223.6 0 0 1 86.76 262.23M89.93 256.86A223.6 223.6 0 0 1 90.3 256.26M93.72 250.84A223.6 223.6 0 0 1 94.1 250.25M103.24 237.36A223.6 223.6 0 0 1 103.57 236.93M89.39 257.76A223.6 223.6 0 0 1 89.59 257.42M86.46 262.78A223.6 223.6 0 0 1 86.65 262.44M96.42 246.8A223.6 223.6 0 0 1 96.82 246.22M92.62 252.54A223.6 223.6 0 0 1 92.83 252.21M94.25 250.03A223.6 223.6 0 0 1 94.77 249.25M90.68 255.63A223.6 223.6 0 0 1 90.89 255.3M94.12 250.23A223.6 223.6 0 0 1 95.09 248.77M99.7 242.12A223.6 223.6 0 0 1 100.02 241.68M91.73 253.95A223.6 223.6 0 0 1 92.67 252.47M90.29 256.27A223.6 223.6 0 0 1 91.21 254.78M87.17 261.53A223.6 223.6 0 0 1 87.79 260.45M102.3 238.6A223.6 223.6 0 0 1 103.05 237.6M84.81 265.73A223.6 223.6 0 0 1 85.66 264.19M104.25 236.05A223.6 223.6 0 0 1 104.83 235.31M88.45 259.32A223.6 223.6 0 0 1 89.35 257.81M98.61 243.65A223.6 223.6 0 0 1 99.63 242.23M85.8 263.93A223.6 223.6 0 0 1 85.99 263.59M83.32 268.51A223.6 223.6 0 0 1 83.7 267.8M95.87 247.6A223.6 223.6 0 0 1 96.4 246.82M91.43 254.43A223.6 223.6 0 0 1 92.09 253.37M86.19 263.24A223.6 223.6 0 0 1 86.54 262.63M125.05 212.77A223.6 223.6 0 0 1 125.27 212.55M137.24 201.74A223.6 223.6 0 0 1 137.66 201.39M136.06 202.73A223.6 223.6 0 0 1 136.78 202.13M137.25 201.74A223.6 223.6 0 0 1 137.66 201.38M163.59 182.71A223.6 223.6 0 0 1 163.92 182.5M155.4 188.01A223.6 223.6 0 0 1 155.85 187.7M173.89 176.73A223.6 223.6 0 0 1 174.23 176.54M154.94 188.32A223.6 223.6 0 0 1 155.4 188.01M157.4 186.67A223.6 223.6 0 0 1 157.66 186.49M204.52 162.89A223.6 223.6 0 0 1 206.17 162.29M199.3 164.86A223.6 223.6 0 0 1 199.66 164.72M202.61 163.59A223.6 223.6 0 0 1 203.13 163.4M198.53 165.16A223.6 223.6 0 0 1 199.69 164.71M205.2 162.64A223.6 223.6 0 0 1 205.72 162.45M199.78 164.67A223.6 223.6 0 0 1 200.29 164.48M192.68 167.58A223.6 223.6 0 0 1 194.14 166.96M204.55 162.88A223.6 223.6 0 0 1 205.72 162.45M196.01 166.18A223.6 223.6 0 0 1 197.17 165.71M194.32 166.88A223.6 223.6 0 0 1 195.94 166.21M195.89 166.23A223.6 223.6 0 0 1 196.54 165.97M220.79 157.66A223.6 223.6 0 0 1 222.48 157.19M224.79 156.58A223.6 223.6 0 0 1 225.32 156.44M230.52 155.17A223.6 223.6 0 0 1 231.43 154.96M230.45 155.19A223.6 223.6 0 0 1 230.99 155.06M231.09 155.04A223.6 223.6 0 0 1 231.47 154.95M227.82 155.82A223.6 223.6 0 0 1 228.73 155.6M221.42 157.48A223.6 223.6 0 0 1 223.12 157.02M225.35 156.43A223.6 223.6 0 0 1 226.03 156.26M221.43 157.48A223.6 223.6 0 0 1 223.12 157.02M221.8 157.38A223.6 223.6 0 0 1 223.01 157.05M223.11 157.02A223.6 223.6 0 0 1 224.81 156.58" fill="none" stroke="#6699FF" stroke-width="25.2"/>
<path d="M346.19 159.11A223.6 223.6 0 0 1 346.56 159.23M342.67 158.07A223.6 223.6 0 0 1 343.87 158.42M345.63 158.95A223.6 223.6 0 0 1 346.83 159.31M341.12 157.63A223.6 223.6 0 0 1 341.64 157.78M348.94 159.97A223.6 223.6 0 0 1 350.13 160.36M354 161.65A223.6 223.6 0 0 1 355.18 162.06M348.63 159.87A223.6 223.6 0 0 1 349 159.99M354.86 161.95A223.6 223.6 0 0 1 355.23 162.08M348.09 159.7A223.6 223.6 0 0 1 348.61 159.87M343.8 158.4A223.6 223.6 0 0 1 344.32 158.55M347.5 159.52A223.6 223.6 0 0 1 348.69 159.89M425 201.94A223.6 223.6 0 0 1 425.53 202.39M435.88 211.73A223.6 223.6 0 0 1 436.39 212.22M433.44 209.42A223.6 223.6 0 0 1 434.35 210.28M429.59 205.91A223.6 223.6 0 0 1 430.52 206.74M426.24 202.99A223.6 223.6 0 0 1 426.65 203.35M431.06 207.23A223.6 223.6 0 0 1 431.46 207.6M434.12 210.06A223.6 223.6 0 0 1 434.8 210.7M433.17 209.17A223.6 223.6 0 0 1 433.57 209.54M423.84 200.97A223.6 223.6 0 0 1 424.56 201.57M426.74 203.42A223.6 223.6 0 0 1 427.04 203.68M437.21 213.01A223.6 223.6 0 0 1 437.62 213.42M428.68 205.11A223.6 223.6 0 0 1 429.09 205.47M432.32 208.39A223.6 223.6 0 0 1 432.84 208.86M427.8 204.33A223.6 223.6 0 0 1 429.12 205.49M437.18 212.98A223.6 223.6 0 0 1 437.62 213.42M421.97 199.43A223.6 223.6 0 0 1 422.27 199.68M452.22 229.19A223.6 223.6 0 0 1 452.47 229.49M449.04 225.49A223.6 223.6 0 0 1 449.3 225.79M449.06 225.51A223.6 223.6 0 0 1 449.27 225.75M470.09 253.65A223.6 223.6 0 0 1 470.25 253.92M473.28 258.88A223.6 223.6 0 0 1 473.48 259.21M469.25 252.34A223.6 223.6 0 0 1 469.42 252.6M489.74 292.84A223.6 223.6 0 0 1 489.93 293.35M488.4 289.45A223.6 223.6 0 0 1 488.55 289.81M498.48 321.03A223.6 223.6 0 0 1 498.57 321.41M498.06 319.3A223.6 223.6 0 0 1 498.15 319.68M493.28 443.25A223.6 223.6 0 0 1 493.1 443.77M479.33 476.25A223.6 223.6 0 0 1 479.19 476.53M476.53 481.47A223.6 223.6 0 0 1 476.37 481.75M449.56 519.91A223.6 223.6 0 0 1 449.31 520.21M453.29 515.53A223.6 223.6 0 0 1 452.94 515.95M387.4 569.66A223.6 223.6 0 0 1 387.06 569.85M380.6 573.19A223.6 223.6 0 0 1 380.25 573.37M330.07 591.15A223.6 223.6 0 0 1 329.54 591.27M314.6 594.06A223.6 223.6 0 0 1 314.3 594.11M252.27 594.75A223.6 223.6 0 0 1 251.34 594.62M258.07 595.42A223.6 223.6 0 0 1 256.33 595.23M266.57 596.13A223.6 223.6 0 0 1 265.63 596.07M263.41 595.91A223.6 223.6 0 0 1 262.71 595.85M259.65 595.58A223.6 223.6 0 0 1 259.1 595.53M266.69 596.14A223.6 223.6 0 0 1 264.94 596.02M251.63 594.66A223.6 223.6 0 0 1 251.09 594.59M261.6 595.76A223.6 223.6 0 0 1 260.9 595.69M267.55 596.2A223.6 223.6 0 0 1 265.8 596.08M253.51 594.9A223.6 223.6 0 0 1 252.27 594.75M270.82 596.37A223.6 223.6 0 0 1 270.27 596.34M249.89 594.42A223.6 223.6 0 0 1 248.36 594.2M266.64 596.14A223.6 223.6 0 0 1 265.39 596.05M265.71 596.08A223.6 223.6 0 0 1 265.16 596.04M266.25 596.11A223.6 223.6 0 0 1 265.7 596.08M268.68 596.26A223.6 223.6 0 0 1 266.93 596.16M248.76 594.26A223.6 223.6 0 0 1 248.36 594.2M249.53 594.37A223.6 223.6 0 0 1 249.15 594.32M157.64 559.49A223.6 223.6 0 0 1 157.05 559.1M156.33 558.62A223.6 223.6 0 0 1 156 558.4M161.47 561.97A223.6 223.6 0 0 1 160.68 561.47M157.23 559.22A223.6 223.6 0 0 1 156.78 558.92M169.67 566.92A223.6 223.6 0 0 1 168.34 566.14M162.89 562.86A223.6 223.6 0 0 1 162.42 562.57M164.69 563.97A223.6 223.6 0 0 1 163.2 563.05M163.88 563.47A223.6 223.6 0 0 1 163.08 562.98M157.18 559.18A223.6 223.6 0 0 1 156.14 558.49M157.01 559.08A223.6 223.6 0 0 1 156.56 558.77M165.16 564.25A223.6 223.6 0 0 1 164.56 563.89M163.07 562.97A223.6 223.6 0 0 1 162.01 562.31M169.08 566.57A223.6 223.6 0 0 1 168.47 566.22M124.83 533.02A223.6 223.6 0 0 1 124.55 532.75M128.95 536.95A223.6 223.6 0 0 1 128.44 536.47M124.17 532.37A223.6 223.6 0 0 1 123.78 531.99M126.15 534.31A223.6 223.6 0 0 1 124.89 533.09M131.92 539.65A223.6 223.6 0 0 1 131.63 539.39M128.3 536.34A223.6 223.6 0 0 1 127.39 535.48M122.32 530.54A223.6 223.6 0 0 1 121.45 529.65M126.01 534.17A223.6 223.6 0 0 1 125.34 533.52M129.22 537.2A223.6 223.6 0 0 1 128.93 536.93M132.65 540.3A223.6 223.6 0 0 1 131.95 539.67M125.88 534.04A223.6 223.6 0 0 1 124.62 532.82M132.59 540.24A223.6 223.6 0 0 1 131.66 539.41M110 517.07A223.6 223.6 0 0 1 109.75 516.77M87.4 484.87A223.6 223.6 0 0 1 87.12 484.39M64.53 429.01A223.6 223.6 0 0 1 64.39 428.48M62.84 422.01A223.6 223.6 0 0 1 62.72 421.47M62.24 419.26A223.6 223.6 0 0 1 62.13 418.73M66.92 437.53A223.6 223.6 0 0 1 66.56 436.34M62.65 421.15A223.6 223.6 0 0 1 62.27 419.44M66.49 436.09A223.6 223.6 0 0 1 66.22 435.19M62.14 418.81A223.6 223.6 0 0 1 61.95 417.89M62.76 421.67A223.6 223.6 0 0 1 62.39 419.96M66.85 437.33A223.6 223.6 0 0 1 66.65 436.65M65.34 432.07A223.6 223.6 0 0 1 65.2 431.55M64.63 429.4A223.6 223.6 0 0 1 64.19 427.69M65.12 431.23A223.6 223.6 0 0 1 64.93 430.56M65.91 434.11A223.6 223.6 0 0 1 65.81 433.74M66.24 435.24A223.6 223.6 0 0 1 65.98 434.34M64.07 427.21A223.6 223.6 0 0 1 63.94 426.68M57.45 368.07A223.6 223.6 0 0 1 57.46 367.76M57.4 372.76A223.6 223.6 0 0 1 57.4 372.37M61.21 331.88A223.6 223.6 0 0 1 61.31 331.34M78.05 279.14A223.6 223.6 0 0 1 78.22 278.79M74.07 288.29A223.6 223.6 0 0 1 74.21 287.93M115.27 222.9A223.6 223.6 0 0 1 115.53 222.61M118.93 218.96A223.6 223.6 0 0 1 119.3 218.56M112.99 225.45A223.6 223.6 0 0 1 113.35 225.04M143.1 196.99A223.6 223.6 0 0 1 144.48 195.91M143.95 196.32A223.6 223.6 0 0 1 145.35 195.25M153.73 189.15A223.6 223.6 0 0 1 154.18 188.84M142.51 197.45A223.6 223.6 0 0 1 143.24 196.88M146.08 194.69A223.6 223.6 0 0 1 146.52 194.36M151.53 190.69A223.6 223.6 0 0 1 152.97 189.68M139.49 199.88A223.6 223.6 0 0 1 140.85 198.77M154.12 188.88A223.6 223.6 0 0 1 154.67 188.5M152.44 190.05A223.6 223.6 0 0 1 153.47 189.34M153.99 188.98A223.6 223.6 0 0 1 154.67 188.5M141.55 198.21A223.6 223.6 0 0 1 142.53 197.43M146.17 194.62A223.6 223.6 0 0 1 146.61 194.29M152.33 190.13A223.6 223.6 0 0 1 152.65 189.91M149.04 192.49A223.6 223.6 0 0 1 149.35 192.26M208.35 161.53A223.6 223.6 0 0 1 208.72 161.4M244.54 152.39A223.6 223.6 0 0 1 244.85 152.34M246.6 152.06A223.6 223.6 0 0 1 246.91 152.01" fill="none" stroke="#99CCFF" stroke-width="25.2"/>
<path d="M308.87 180.2A194.8 194.8 0 0 1 309.2 180.25M320.31 182.21A194.8 194.8 0 0 1 320.56 182.26M318.38 181.82A194.8 194.8 0 0 1 318.85 181.91M319.36 182.01A194.8 194.8 0 0 1 319.82 182.11M353.54 192.21A194.8 194.8 0 0 1 353.79 192.31M354.95 192.78A194.8 194.8 0 0 1 355.27 192.91M353.08 192.03A194.8 194.8 0 0 1 353.52 192.2M367.29 198.35A194.8 194.8 0 0 1 367.53 198.47M372.18 200.86A194.8 194.8 0 0 1 372.6 201.08M384.56 208.01A194.8 194.8 0 0 1 385.85 208.83M383.44 207.31A194.8 194.8 0 0 1 384.73 208.12M381.27 205.99A194.8 194.8 0 0 1 382.58 206.78M381.87 206.35A194.8 194.8 0 0 1 382.57 206.77M387.5 209.89A194.8 194.8 0 0 1 387.9 210.15M385 208.28A194.8 194.8 0 0 1 385.4 208.54M384.18 207.77A194.8 194.8 0 0 1 385.48 208.59M383.34 207.25A194.8 194.8 0 0 1 384.64 208.06M397 216.51A194.8 194.8 0 0 1 397.38 216.79M420.36 236.89A194.8 194.8 0 0 1 420.93 237.47M421.09 237.64A194.8 194.8 0 0 1 421.32 237.88M422.13 238.73A194.8 194.8 0 0 1 422.69 239.32M420.28 236.81A194.8 194.8 0 0 1 421.35 237.91M425.14 241.97A194.8 194.8 0 0 1 425.46 242.32M424.1 240.83A194.8 194.8 0 0 1 424.84 241.63M422.17 238.77A194.8 194.8 0 0 1 422.73 239.36M450.66 277.28A194.8 194.8 0 0 1 450.96 277.81M450.42 276.86A194.8 194.8 0 0 1 450.83 277.57M451 277.88A194.8 194.8 0 0 1 451.74 279.22M450.98 277.85A194.8 194.8 0 0 1 451.28 278.38M447.46 271.82A194.8 194.8 0 0 1 448.03 272.75M451.66 279.07A194.8 194.8 0 0 1 452.18 280.03M448.33 273.27A194.8 194.8 0 0 1 448.65 273.79M444.93 267.76A194.8 194.8 0 0 1 445.11 268.05M450.86 277.63A194.8 194.8 0 0 1 451.09 278.05M447.82 272.41A194.8 194.8 0 0 1 448 272.7M446.49 270.24A194.8 194.8 0 0 1 446.67 270.52M449.49 275.23A194.8 194.8 0 0 1 449.8 275.76M456.3 288.05A194.8 194.8 0 0 1 456.42 288.3M459.02 293.9A194.8 194.8 0 0 1 459.16 294.21M465.5 310.5A194.8 194.8 0 0 1 465.85 311.53M465.98 311.92A194.8 194.8 0 0 1 466.13 312.37M465.69 311.04A194.8 194.8 0 0 1 465.79 311.37M464.8 308.47A194.8 194.8 0 0 1 464.91 308.79M464.79 308.45A194.8 194.8 0 0 1 465.15 309.48M472.53 337.45A194.8 194.8 0 0 1 472.58 337.72M472.89 339.43A194.8 194.8 0 0 1 472.97 339.9M475.65 365.46A194.8 194.8 0 0 1 475.67 365.8M471.82 412.16A194.8 194.8 0 0 1 471.7 412.76M473.4 403.46A194.8 194.8 0 0 1 473.16 404.97M473.96 399.71A194.8 194.8 0 0 1 473.89 400.18M471.92 411.69A194.8 194.8 0 0 1 471.85 412.02M475.01 390.55A194.8 194.8 0 0 1 474.93 391.36M472.81 407.03A194.8 194.8 0 0 1 472.66 407.83M469.04 423.88A194.8 194.8 0 0 1 468.82 424.67M473.78 401A194.8 194.8 0 0 1 473.62 402.07M475.05 390.04A194.8 194.8 0 0 1 475.02 390.38M475.16 388.81A194.8 194.8 0 0 1 475.07 389.89M475.43 385.06A194.8 194.8 0 0 1 475.4 385.54M474.17 398.15A194.8 194.8 0 0 1 474.03 399.23M475.01 390.51A194.8 194.8 0 0 1 474.98 390.85M470.88 416.51A194.8 194.8 0 0 1 470.7 417.3M474.11 398.64A194.8 194.8 0 0 1 473.9 400.15M473.02 405.77A194.8 194.8 0 0 1 472.88 406.58M474.69 393.8A194.8 194.8 0 0 1 474.65 394.14M473.25 404.39A194.8 194.8 0 0 1 473.08 405.46M468.19 426.92A194.8 194.8 0 0 1 468.06 427.38M471.57 413.39A194.8 194.8 0 0 1 471.34 414.45M472.06 410.97A194.8 194.8 0 0 1 471.97 411.44M475.42 385.14A194.8 194.8 0 0 1 475.39 385.61M474.09 398.72A194.8 194.8 0 0 1 473.89 400.23M473.61 402.12A194.8 194.8 0 0 1 473.52 402.72M469.69 421.41A194.8 194.8 0 0 1 469.6 421.74M475.32 386.65A194.8 194.8 0 0 1 475.26 387.46M471.31 414.6A194.8 194.8 0 0 1 471.13 415.4M468.23 426.78A194.8 194.8 0 0 1 468 427.57M475.64 380.89A194.8 194.8 0 0 1 475.62 381.3M468.77 424.87A194.8 194.8 0 0 1 468.47 425.92M469.67 421.5A194.8 194.8 0 0 1 469.46 422.29M474.8 392.75A194.8 194.8 0 0 1 474.76 393.09M474.92 391.49A194.8 194.8 0 0 1 474.87 391.96M473.1 405.33A194.8 194.8 0 0 1 472.84 406.84M475.4 385.4A194.8 194.8 0 0 1 475.3 386.93M471.39 414.2A194.8 194.8 0 0 1 471.22 415M475.44 384.84A194.8 194.8 0 0 1 475.42 385.18M466.24 433.28A194.8 194.8 0 0 1 465.76 434.73M465.78 434.67A194.8 194.8 0 0 1 465.29 436.11M463.83 440.24A194.8 194.8 0 0 1 463.45 441.26M465.89 434.33A194.8 194.8 0 0 1 465.7 434.91M465.1 436.68A194.8 194.8 0 0 1 464.74 437.71M466.46 432.59A194.8 194.8 0 0 1 466.32 433.04M465.27 436.18A194.8 194.8 0 0 1 465.12 436.63M465.81 434.59A194.8 194.8 0 0 1 465.7 434.91M464.29 438.96A194.8 194.8 0 0 1 464.01 439.73M464.65 437.95A194.8 194.8 0 0 1 464.45 438.53M460.29 449.17A194.8 194.8 0 0 1 460.18 449.42M456.82 456.88A194.8 194.8 0 0 1 456.67 457.19M443.85 479.9A194.8 194.8 0 0 1 443.66 480.19M450.59 468.84A194.8 194.8 0 0 1 450.46 469.08M447.66 473.85A194.8 194.8 0 0 1 447.42 474.25M436.07 490.9A194.8 194.8 0 0 1 435.7 491.38M435.82 491.23A194.8 194.8 0 0 1 435.53 491.6M425.13 504.05A194.8 194.8 0 0 1 424.9 504.3M432.84 495.03A194.8 194.8 0 0 1 432.54 495.4M433.91 493.68A194.8 194.8 0 0 1 433.7 493.95M424.56 504.68A194.8 194.8 0 0 1 424 505.28M433.97 493.61A194.8 194.8 0 0 1 433.29 494.46M425.28 503.88A194.8 194.8 0 0 1 424.73 504.48M437.13 489.49A194.8 194.8 0 0 1 436.21 490.72M429.56 499A194.8 194.8 0 0 1 429.25 499.37M429.28 499.33A194.8 194.8 0 0 1 428.97 499.7M429.75 498.78A194.8 194.8 0 0 1 429.04 499.61M426.44 502.59A194.8 194.8 0 0 1 425.9 503.2M435.54 491.59A194.8 194.8 0 0 1 435.25 491.97M437.58 488.89A194.8 194.8 0 0 1 436.93 489.76M435.93 491.08A194.8 194.8 0 0 1 435.56 491.57M436.33 490.55A194.8 194.8 0 0 1 436.04 490.93M415.18 514.22A194.8 194.8 0 0 1 414.83 514.55M398.11 528.66A194.8 194.8 0 0 1 397.84 528.87M398.94 528.04A194.8 194.8 0 0 1 398.67 528.25M387.71 535.97A194.8 194.8 0 0 1 387.48 536.12M347.3 556.17A194.8 194.8 0 0 1 346.85 556.33M351.44 554.62A194.8 194.8 0 0 1 350.99 554.79M348.13 555.87A194.8 194.8 0 0 1 346.69 556.39M348.24 555.83A194.8 194.8 0 0 1 346.8 556.35M348.96 555.56A194.8 194.8 0 0 1 347.94 555.94M351.17 554.72A194.8 194.8 0 0 1 350.6 554.94M352.65 554.15A194.8 194.8 0 0 1 351.29 554.68M352.65 554.15A194.8 194.8 0 0 1 351.45 554.62M336.36 559.77A194.8 194.8 0 0 1 335.9 559.9M334.58 560.29A194.8 194.8 0 0 1 334.26 560.38M331.46 561.15A194.8 194.8 0 0 1 331.13 561.24M299.32 566.94A194.8 194.8 0 0 1 298.98 566.97M245.27 564.49A194.8 194.8 0 0 1 244.8 564.41M204.51 552.16A194.8 194.8 0 0 1 204.2 552.02M205.36 552.52A194.8 194.8 0 0 1 205.11 552.41M183.1 541.41A194.8 194.8 0 0 1 182.69 541.17M184.84 542.41A194.8 194.8 0 0 1 184.43 542.18M196.54 548.54A194.8 194.8 0 0 1 196.3 548.42M163.62 528.47A194.8 194.8 0 0 1 163.35 528.26M160.62 526.16A194.8 194.8 0 0 1 159.43 525.21M166.5 530.6A194.8 194.8 0 0 1 166.21 530.39M161.34 526.72A194.8 194.8 0 0 1 160.49 526.05M161.69 526.99A194.8 194.8 0 0 1 161.21 526.61M165.31 529.73A194.8 194.8 0 0 1 165.04 529.52M164.55 529.16A194.8 194.8 0 0 1 163.89 528.67M162.9 527.91A194.8 194.8 0 0 1 162.03 527.25M145.31 512.77A194.8 194.8 0 0 1 144.22 511.7M139.87 507.28A194.8 194.8 0 0 1 139.31 506.68M149.12 516.37A194.8 194.8 0 0 1 148 515.33M145.51 512.97A194.8 194.8 0 0 1 144.73 512.21M139.36 506.73A194.8 194.8 0 0 1 138.76 506.1M139.24 506.61A194.8 194.8 0 0 1 138.76 506.1M141.5 508.96A194.8 194.8 0 0 1 140.74 508.18M148.74 516.02A194.8 194.8 0 0 1 147.63 514.98M144.39 511.87A194.8 194.8 0 0 1 144.05 511.54M142.89 510.38A194.8 194.8 0 0 1 142.31 509.8M149.29 516.53A194.8 194.8 0 0 1 148.68 515.96M142.28 509.76A194.8 194.8 0 0 1 142.04 509.52M134.75 501.68A194.8 194.8 0 0 1 134.03 500.86M134.66 501.57A194.8 194.8 0 0 1 133.94 500.75M126.99 492.28A194.8 194.8 0 0 1 126.49 491.63M131.53 497.92A194.8 194.8 0 0 1 131.31 497.66M128.97 494.8A194.8 194.8 0 0 1 128.46 494.16M125.37 490.15A194.8 194.8 0 0 1 125.08 489.77M125.81 490.75A194.8 194.8 0 0 1 124.89 489.52M123.59 487.76A194.8 194.8 0 0 1 123.31 487.38M132.06 498.56A194.8 194.8 0 0 1 131.85 498.3M127.08 492.4A194.8 194.8 0 0 1 126.58 491.75M126.6 491.78A194.8 194.8 0 0 1 126.23 491.29M128.18 493.8A194.8 194.8 0 0 1 127.97 493.54M125.55 490.39A194.8 194.8 0 0 1 125.05 489.74M129.05 494.89A194.8 194.8 0 0 1 128.37 494.04M125.2 489.94A194.8 194.8 0 0 1 125 489.67M133.41 500.14A194.8 194.8 0 0 1 132.7 499.31M129.17 495.04A194.8 194.8 0 0 1 128.79 494.57M120.85 483.9A194.8 194.8 0 0 1 120.58 483.51M107.98 462.5A194.8 194.8 0 0 1 107.7 461.96M108.93 464.32A194.8 194.8 0 0 1 108.64 463.77M110.43 467.09A194.8 194.8 0 0 1 109.91 466.14M106.77 460.13A194.8 194.8 0 0 1 106.56 459.7M113.31 472.14A194.8 194.8 0 0 1 112.9 471.43M110.48 467.18A194.8 194.8 0 0 1 110.31 466.88M110.61 467.42A194.8 194.8 0 0 1 110.22 466.7M107.29 461.16A194.8 194.8 0 0 1 107.08 460.74M110.95 468.02A194.8 194.8 0 0 1 110.78 467.73M110.89 467.93A194.8 194.8 0 0 1 110.37 466.97M108.64 463.77A194.8 194.8 0 0 1 108.48 463.46M113.48 472.41A194.8 194.8 0 0 1 112.92 471.48M102.21 450.34A194.8 194.8 0 0 1 102.1 450.09M101.8 449.38A194.8 194.8 0 0 1 101.67 449.07M103.37 452.97A194.8 194.8 0 0 1 103.17 452.53M93.29 425.06A194.8 194.8 0 0 1 92.88 423.59M93.11 424.41A194.8 194.8 0 0 1 92.82 423.36M94.93 430.67A194.8 194.8 0 0 1 94.75 430.08M96.58 435.75A194.8 194.8 0 0 1 96.43 435.3M92.89 423.62A194.8 194.8 0 0 1 92.68 422.83M92.77 423.15A194.8 194.8 0 0 1 92.67 422.79M93.01 424.05A194.8 194.8 0 0 1 92.92 423.72M95.36 432.02A194.8 194.8 0 0 1 95.11 431.25M93.12 424.47A194.8 194.8 0 0 1 93.03 424.14M93.42 425.53A194.8 194.8 0 0 1 93.25 424.94M96.63 435.89A194.8 194.8 0 0 1 96.14 434.44M87.24 393.13A194.8 194.8 0 0 1 87.19 392.65M86.99 390.5A194.8 194.8 0 0 1 86.96 390.16M86.78 387.96A194.8 194.8 0 0 1 86.74 387.49M86.21 374.68A194.8 194.8 0 0 1 86.2 374.34M86.22 370.56A194.8 194.8 0 0 1 86.22 370.22M86.22 375.78A194.8 194.8 0 0 1 86.21 374.97M86.2 373.45A194.8 194.8 0 0 1 86.2 372.36M86.22 370.07A194.8 194.8 0 0 1 86.23 369.73M86.25 377.48A194.8 194.8 0 0 1 86.23 376.66M86.24 369.06A194.8 194.8 0 0 1 86.26 367.97M86.2 372.04A194.8 194.8 0 0 1 86.21 371.56M86.25 377.33A194.8 194.8 0 0 1 86.23 376.24M90.36 332.94A194.8 194.8 0 0 1 90.42 332.67M91.78 326.71A194.8 194.8 0 0 1 91.86 326.38M95.57 313.32A194.8 194.8 0 0 1 95.72 312.86M96.83 309.53A194.8 194.8 0 0 1 96.94 309.21M99.88 301.29A194.8 194.8 0 0 1 100.21 300.46M106.4 286.62A194.8 194.8 0 0 1 106.76 285.89M102.6 294.76A194.8 194.8 0 0 1 102.85 294.2M101.11 298.26A194.8 194.8 0 0 1 101.34 297.7M106 287.43A194.8 194.8 0 0 1 106.36 286.7M104.05 291.54A194.8 194.8 0 0 1 104.51 290.55M101.46 297.41A194.8 194.8 0 0 1 101.7 296.85M102.07 295.99A194.8 194.8 0 0 1 102.5 294.99M106.35 286.73A194.8 194.8 0 0 1 106.62 286.18M101.22 298A194.8 194.8 0 0 1 101.53 297.25M106.86 285.68A194.8 194.8 0 0 1 107.02 285.38M99.95 301.11A194.8 194.8 0 0 1 100.18 300.54M104.02 291.6A194.8 194.8 0 0 1 104.37 290.86M101.88 296.42A194.8 194.8 0 0 1 102.31 295.42M105.69 288.07A194.8 194.8 0 0 1 106.17 287.09M117.12 267.69A194.8 194.8 0 0 1 117.38 267.29M116.78 268.23A194.8 194.8 0 0 1 117.22 267.54M114.76 271.46A194.8 194.8 0 0 1 115.19 270.76M116.12 269.26A194.8 194.8 0 0 1 116.7 268.34M113.97 272.76A194.8 194.8 0 0 1 114.53 271.83M116.21 269.12A194.8 194.8 0 0 1 116.39 268.83M113.24 274A194.8 194.8 0 0 1 113.55 273.47M114.28 272.25A194.8 194.8 0 0 1 114.45 271.96M134.56 244.54A194.8 194.8 0 0 1 134.78 244.29M148.18 230.5A194.8 194.8 0 0 1 148.38 230.32M156.02 223.57A194.8 194.8 0 0 1 156.23 223.4M145.28 233.26A194.8 194.8 0 0 1 145.52 233.02M188.03 201.82A194.8 194.8 0 0 1 188.57 201.52M183.58 204.31A194.8 194.8 0 0 1 184.28 203.91M188.34 201.65A194.8 194.8 0 0 1 189.69 200.93M189.86 200.84A194.8 194.8 0 0 1 190.28 200.61M190.79 200.35A194.8 194.8 0 0 1 191.21 200.13M179.68 206.62A194.8 194.8 0 0 1 180.69 206.01M188.64 201.49A194.8 194.8 0 0 1 189.99 200.77M183.52 204.34A194.8 194.8 0 0 1 184.23 203.94M179.68 206.62A194.8 194.8 0 0 1 180.64 206.04M187.88 201.9A194.8 194.8 0 0 1 188.3 201.67M195.29 198.07A194.8 194.8 0 0 1 195.71 197.86M192.53 199.45A194.8 194.8 0 0 1 192.83 199.29M219.38 188.2A194.8 194.8 0 0 1 219.64 188.12M216.76 189.1A194.8 194.8 0 0 1 217.02 189.01M210.69 191.33A194.8 194.8 0 0 1 210.94 191.23M227.19 185.78A194.8 194.8 0 0 1 227.77 185.61M222.99 187.04A194.8 194.8 0 0 1 224.45 186.59M224.16 186.68A194.8 194.8 0 0 1 224.48 186.58M223.14 186.99A194.8 194.8 0 0 1 223.92 186.75" fill="none" stroke="#6699FF" stroke-width="24.8"/>
<path d="M325.83 183.43A194.8 194.8 0 0 1 326.3 183.54M321.34 182.42A194.8 194.8 0 0 1 321.81 182.52M338.14 186.77A194.8 194.8 0 0 1 338.72 186.95M335.16 185.88A194.8 194.8 0 0 1 335.74 186.05M336.35 186.23A194.8 194.8 0 0 1 337.39 186.54M337.83 186.67A194.8 194.8 0 0 1 338.16 186.77M337.94 186.71A194.8 194.8 0 0 1 338.53 186.89M417.04 233.58A194.8 194.8 0 0 1 417.29 233.81M400.29 219A194.8 194.8 0 0 1 400.93 219.5M413.46 230.17A194.8 194.8 0 0 1 413.81 230.5M409.46 226.56A194.8 194.8 0 0 1 410.27 227.28M416.38 232.93A194.8 194.8 0 0 1 417.29 233.82M415.95 232.52A194.8 194.8 0 0 1 416.29 232.85M408.45 225.68A194.8 194.8 0 0 1 408.81 225.99M397.47 216.85A194.8 194.8 0 0 1 398.53 217.65M410.2 227.21A194.8 194.8 0 0 1 411.02 227.94M412.37 229.16A194.8 194.8 0 0 1 412.72 229.48M406.17 223.73A194.8 194.8 0 0 1 406.53 224.04M413.84 230.52A194.8 194.8 0 0 1 414.19 230.85M397.87 217.15A194.8 194.8 0 0 1 398.25 217.44M403.33 221.4A194.8 194.8 0 0 1 403.7 221.7M412.59 229.37A194.8 194.8 0 0 1 413.04 229.78M402.51 220.74A194.8 194.8 0 0 1 403.15 221.25M414.04 230.71A194.8 194.8 0 0 1 414.29 230.94M415.38 231.98A194.8 194.8 0 0 1 415.83 232.4M414.82 231.44A194.8 194.8 0 0 1 415.93 232.49M408.9 226.07A194.8 194.8 0 0 1 409.72 226.79M429.38 246.79A194.8 194.8 0 0 1 429.69 247.15M429.89 247.38A194.8 194.8 0 0 1 430.11 247.64M443.01 264.83A194.8 194.8 0 0 1 443.16 265.06M439.06 259.14A194.8 194.8 0 0 1 439.26 259.41M461.42 299.55A194.8 194.8 0 0 1 461.55 299.87M466.8 314.47A194.8 194.8 0 0 1 466.9 314.79M469.39 323.44A194.8 194.8 0 0 1 469.46 323.7M475.11 356.64A194.8 194.8 0 0 1 475.13 356.91M475.75 377.38A194.8 194.8 0 0 1 475.71 378.91M475.8 371.61A194.8 194.8 0 0 1 475.8 372.69M475.8 373.56A194.8 194.8 0 0 1 475.79 375.09M475.7 366.73A194.8 194.8 0 0 1 475.74 368.26M475.8 371.76A194.8 194.8 0 0 1 475.8 372.85M475.77 376.52A194.8 194.8 0 0 1 475.73 378.05M475.72 378.58A194.8 194.8 0 0 1 475.7 379.39M475.69 366.49A194.8 194.8 0 0 1 475.72 367.58M475.73 367.77A194.8 194.8 0 0 1 475.75 368.59M475.8 372.06A194.8 194.8 0 0 1 475.8 372.67M475.78 369.89A194.8 194.8 0 0 1 475.79 371.42M475.77 376.32A194.8 194.8 0 0 1 475.74 377.85M455.91 458.75A194.8 194.8 0 0 1 455.76 459.05M418.73 510.75A194.8 194.8 0 0 1 418.54 510.95M423.82 505.47A194.8 194.8 0 0 1 423.5 505.82M413.08 516.19A194.8 194.8 0 0 1 412.73 516.51M410.43 518.58A194.8 194.8 0 0 1 410.07 518.9M372.8 544.81A194.8 194.8 0 0 1 372.38 545.04M383.52 538.64A194.8 194.8 0 0 1 383.12 538.89M374.85 543.7A194.8 194.8 0 0 1 374.13 544.1M384.56 537.99A194.8 194.8 0 0 1 383.26 538.8M383.82 538.46A194.8 194.8 0 0 1 382.52 539.26M373.68 544.34A194.8 194.8 0 0 1 372.96 544.73M373 544.7A194.8 194.8 0 0 1 372.7 544.86M384.97 537.73A194.8 194.8 0 0 1 384.05 538.31M372.06 545.21A194.8 194.8 0 0 1 371.09 545.71M375.81 543.17A194.8 194.8 0 0 1 375.1 543.57M376.61 542.72A194.8 194.8 0 0 1 375.66 543.25M374.29 544.01A194.8 194.8 0 0 1 373.87 544.24M383 538.96A194.8 194.8 0 0 1 382.71 539.14M385.15 537.62A194.8 194.8 0 0 1 384.23 538.2M361.97 550.17A194.8 194.8 0 0 1 361.72 550.29M312.24 565.28A194.8 194.8 0 0 1 311.63 565.38M315.02 564.81A194.8 194.8 0 0 1 314.42 564.91M303.71 566.47A194.8 194.8 0 0 1 302.63 566.6M308.93 565.79A194.8 194.8 0 0 1 308.33 565.87M307.26 566.02A194.8 194.8 0 0 1 306.93 566.07M304.97 566.32A194.8 194.8 0 0 1 304.63 566.36M309.7 565.67A194.8 194.8 0 0 1 309.36 565.72M311.49 565.4A194.8 194.8 0 0 1 309.98 565.63M315.26 564.76A194.8 194.8 0 0 1 314.18 564.95M312.64 565.21A194.8 194.8 0 0 1 312.3 565.27M289.56 567.61A194.8 194.8 0 0 1 289.28 567.62M253.08 565.79A194.8 194.8 0 0 1 252.28 565.67M263.65 567.03A194.8 194.8 0 0 1 262.57 566.93M252.98 565.77A194.8 194.8 0 0 1 251.9 565.61M257.52 566.38A194.8 194.8 0 0 1 257.04 566.32M251.79 565.6A194.8 194.8 0 0 1 251.19 565.51M254.96 566.05A194.8 194.8 0 0 1 254.16 565.94M253.31 565.82A194.8 194.8 0 0 1 252.97 565.77M274.75 567.7A194.8 194.8 0 0 1 273.66 567.66M270.18 567.5A194.8 194.8 0 0 1 268.66 567.41M254.7 566.02A194.8 194.8 0 0 1 254.23 565.95M261.58 566.83A194.8 194.8 0 0 1 261.24 566.8M253.14 565.8A194.8 194.8 0 0 1 252.34 565.68M261.6 566.83A194.8 194.8 0 0 1 260.07 566.67M262.74 566.94A194.8 194.8 0 0 1 262.4 566.91M258.54 566.5A194.8 194.8 0 0 1 257.93 566.43M261.75 566.85A194.8 194.8 0 0 1 260.94 566.76M255.92 566.18A194.8 194.8 0 0 1 255.11 566.07M270.39 567.51A194.8 194.8 0 0 1 268.86 567.42M270.87 567.54A194.8 194.8 0 0 1 269.78 567.48M255.14 566.08A194.8 194.8 0 0 1 254.8 566.03M236.59 562.67A194.8 194.8 0 0 1 235.79 562.48M241.42 563.74A194.8 194.8 0 0 1 241.09 563.67M233.17 561.84A194.8 194.8 0 0 1 232.38 561.64M228.57 560.61A194.8 194.8 0 0 1 227.1 560.2M234.65 562.2A194.8 194.8 0 0 1 234.05 562.06M240.42 563.53A194.8 194.8 0 0 1 239.82 563.4M225.72 559.79A194.8 194.8 0 0 1 224.67 559.48M220.24 558.08A194.8 194.8 0 0 1 219.46 557.82M231.98 561.53A194.8 194.8 0 0 1 231.52 561.41M239.8 563.39A194.8 194.8 0 0 1 239.47 563.32M224.34 559.38A194.8 194.8 0 0 1 222.88 558.93M238.87 563.19A194.8 194.8 0 0 1 237.37 562.85M229.63 560.9A194.8 194.8 0 0 1 229.17 560.78M223.72 559.19A194.8 194.8 0 0 1 223.26 559.05M235.07 562.31A194.8 194.8 0 0 1 233.58 561.94M223.51 559.12A194.8 194.8 0 0 1 222.73 558.88M231.91 561.51A194.8 194.8 0 0 1 231.31 561.36M225.5 559.73A194.8 194.8 0 0 1 224.03 559.28M171.54 534.14A194.8 194.8 0 0 1 171.32 533.99M174.84 536.33A194.8 194.8 0 0 1 174.62 536.18M159.04 524.9A194.8 194.8 0 0 1 158.67 524.6M154.16 520.85A194.8 194.8 0 0 1 153.96 520.67M118.18 479.94A194.8 194.8 0 0 1 118.03 479.71M89.17 406.9A194.8 194.8 0 0 1 89.11 406.57M90.32 412.83A194.8 194.8 0 0 1 90.25 412.5M86.65 359.79A194.8 194.8 0 0 1 86.68 359.32M87.33 352.07A194.8 194.8 0 0 1 87.36 351.73M87.83 347.84A194.8 194.8 0 0 1 87.89 347.37M125.51 255.66A194.8 194.8 0 0 1 125.71 255.39M127.8 252.68A194.8 194.8 0 0 1 128.18 252.2M128.22 252.15A194.8 194.8 0 0 1 128.9 251.29M131.7 247.87A194.8 194.8 0 0 1 132.23 247.25M127.24 253.4A194.8 194.8 0 0 1 127.91 252.54M121.73 260.84A194.8 194.8 0 0 1 122.36 259.95M120.63 262.42A194.8 194.8 0 0 1 120.9 262.03M123.88 257.84A194.8 194.8 0 0 1 124.09 257.57M127.22 253.42A194.8 194.8 0 0 1 127.89 252.57M118.92 264.94A194.8 194.8 0 0 1 119.52 264.04M133.33 245.96A194.8 194.8 0 0 1 133.94 245.25M128.64 251.62A194.8 194.8 0 0 1 129.6 250.43M123.87 257.86A194.8 194.8 0 0 1 124.07 257.59M121.86 260.65A194.8 194.8 0 0 1 122.75 259.4M126.09 254.89A194.8 194.8 0 0 1 126.46 254.41M123.65 258.16A194.8 194.8 0 0 1 123.85 257.89M126.36 254.54A194.8 194.8 0 0 1 127.29 253.33M117.93 266.43A194.8 194.8 0 0 1 118.2 266.03M125.04 256.28A194.8 194.8 0 0 1 125.7 255.41M126.04 254.95A194.8 194.8 0 0 1 126.97 253.74M131.75 247.82A194.8 194.8 0 0 1 132.45 246.99M135.79 243.15A194.8 194.8 0 0 1 136.52 242.34M140.08 238.5A194.8 194.8 0 0 1 140.32 238.26M135.29 243.71A194.8 194.8 0 0 1 135.52 243.46M135.95 242.97A194.8 194.8 0 0 1 136.68 242.16M138.13 240.58A194.8 194.8 0 0 1 138.69 239.98M139.11 239.53A194.8 194.8 0 0 1 139.34 239.29M138.95 239.71A194.8 194.8 0 0 1 140 238.59M140.06 238.52A194.8 194.8 0 0 1 140.49 238.08M175.31 209.37A194.8 194.8 0 0 1 175.54 209.22M163.48 217.64A194.8 194.8 0 0 1 163.75 217.44M163.84 217.37A194.8 194.8 0 0 1 164.11 217.16M248.82 180.88A194.8 194.8 0 0 1 249.42 180.78M236.19 183.42A194.8 194.8 0 0 1 236.49 183.35M246.05 181.36A194.8 194.8 0 0 1 247.56 181.09M245.54 181.46A194.8 194.8 0 0 1 247.04 181.18M246.64 181.25A194.8 194.8 0 0 1 247.24 181.15M246.78 181.23A194.8 194.8 0 0 1 247.12 181.17M238.29 182.94A194.8 194.8 0 0 1 238.63 182.86M236.2 183.42A194.8 194.8 0 0 1 237 183.23M249.74 180.72A194.8 194.8 0 0 1 250.34 180.63M241.48 182.25A194.8 194.8 0 0 1 242.98 181.95M244.08 181.73A194.8 194.8 0 0 1 245.59 181.45M238.2 182.96A194.8 194.8 0 0 1 239.7 182.63M249.14 180.82A194.8 194.8 0 0 1 250.65 180.58" fill="none" stroke="#99CCFF" stroke-width="24.8"/>
<path d="M308.66 209.63A165.7 165.7 0 0 1 309.06 209.69M308.1 209.53A165.7 165.7 0 0 1 308.39 209.58M343.23 219.43A165.7 165.7 0 0 1 343.45 219.52M355.9 225.19A165.7 165.7 0 0 1 356.72 225.61M352.25 223.4A165.7 165.7 0 0 1 352.61 223.57M354.25 224.37A165.7 165.7 0 0 1 354.5 224.5M355.91 225.2A165.7 165.7 0 0 1 356.27 225.38M354.61 224.55A165.7 165.7 0 0 1 354.98 224.73M373.64 235.62A165.7 165.7 0 0 1 373.83 235.75M375.34 236.78A165.7 165.7 0 0 1 375.53 236.91M416.06 277.01A165.7 165.7 0 0 1 416.2 277.2M428.64 297.78A165.7 165.7 0 0 1 429.06 298.6M429.67 299.84A165.7 165.7 0 0 1 429.9 300.31M428.93 298.34A165.7 165.7 0 0 1 429.06 298.6M430.5 301.54A165.7 165.7 0 0 1 430.57 301.7M428.12 296.77A165.7 165.7 0 0 1 428.46 297.42M429.29 299.07A165.7 165.7 0 0 1 429.47 299.43M439.33 324.13A165.7 165.7 0 0 1 439.45 324.51M444.65 347.02A165.7 165.7 0 0 1 444.79 347.94M444.14 343.96A165.7 165.7 0 0 1 444.3 344.87M444.7 347.31A165.7 165.7 0 0 1 444.84 348.22M444.81 348.07A165.7 165.7 0 0 1 444.86 348.36M444.76 347.71A165.7 165.7 0 0 1 444.9 348.62M446.25 360.76A165.7 165.7 0 0 1 446.29 361.28M446.56 366.14A165.7 165.7 0 0 1 446.59 366.83M446.64 368.67A165.7 165.7 0 0 1 446.65 368.95M446.22 360.37A165.7 165.7 0 0 1 446.26 360.89M446.55 365.97A165.7 165.7 0 0 1 446.59 366.89M446.31 361.63A165.7 165.7 0 0 1 446.34 362.15M446.33 361.86A165.7 165.7 0 0 1 446.39 362.79M446.13 359.28A165.7 165.7 0 0 1 446.17 359.76M446.4 363.04A165.7 165.7 0 0 1 446.44 363.74M446.39 362.82A165.7 165.7 0 0 1 446.42 363.34M446.62 367.87A165.7 165.7 0 0 1 446.63 368.27M446.53 365.56A165.7 165.7 0 0 1 446.55 365.96M442.98 407.94A165.7 165.7 0 0 1 442.78 408.84M443.72 404.29A165.7 165.7 0 0 1 443.59 404.97M440.08 419.35A165.7 165.7 0 0 1 439.94 419.85M441.01 416.05A165.7 165.7 0 0 1 440.9 416.44M443.14 407.17A165.7 165.7 0 0 1 443.06 407.56M443.03 407.68A165.7 165.7 0 0 1 442.92 408.19M443.61 404.87A165.7 165.7 0 0 1 443.43 405.78M442.15 411.58A165.7 165.7 0 0 1 442.05 411.97M440.45 418.06A165.7 165.7 0 0 1 440.26 418.73M442.55 409.83A165.7 165.7 0 0 1 442.26 411.1M443.78 403.99A165.7 165.7 0 0 1 443.6 404.9M443.46 405.61A165.7 165.7 0 0 1 443.32 406.29M443.72 404.27A165.7 165.7 0 0 1 443.67 404.55M440.05 419.48A165.7 165.7 0 0 1 439.93 419.87M442.56 409.81A165.7 165.7 0 0 1 442.27 411.08M432.81 439.41A165.7 165.7 0 0 1 432.72 439.62M432.03 441.16A165.7 165.7 0 0 1 431.91 441.42M435.23 433.57A165.7 165.7 0 0 1 435.08 433.95M422.76 458.79A165.7 165.7 0 0 1 422.49 459.23M417.49 466.95A165.7 165.7 0 0 1 416.97 467.71M423.08 458.27A165.7 165.7 0 0 1 422.93 458.52M421.45 460.93A165.7 165.7 0 0 1 421.23 461.27M420.54 462.37A165.7 165.7 0 0 1 420.32 462.71M419.32 464.24A165.7 165.7 0 0 1 419.16 464.48M419.29 464.29A165.7 165.7 0 0 1 419.13 464.53M423.85 456.96A165.7 165.7 0 0 1 423.5 457.56M417.36 467.15A165.7 165.7 0 0 1 417.13 467.48M417.76 466.57A165.7 165.7 0 0 1 417.46 466.99M424.29 456.22A165.7 165.7 0 0 1 424.02 456.67M422.72 458.85A165.7 165.7 0 0 1 422.57 459.1M423.23 458.01A165.7 165.7 0 0 1 422.75 458.81M423.03 458.35A165.7 165.7 0 0 1 422.88 458.59M402.38 485.79A165.7 165.7 0 0 1 401.91 486.3M401.5 486.74A165.7 165.7 0 0 1 400.6 487.69M404.98 482.93A165.7 165.7 0 0 1 404.24 483.77M404.42 483.57A165.7 165.7 0 0 1 403.54 484.53M402.99 485.13A165.7 165.7 0 0 1 402.11 486.09M401.09 487.17A165.7 165.7 0 0 1 400.89 487.38M399.3 489.02A165.7 165.7 0 0 1 398.82 489.51M400 488.3A165.7 165.7 0 0 1 399.72 488.59M404.88 483.05A165.7 165.7 0 0 1 404.69 483.26M397.53 490.8A165.7 165.7 0 0 1 397.04 491.29M378.9 506.69A165.7 165.7 0 0 1 378.57 506.92M383.06 503.54A165.7 165.7 0 0 1 382.65 503.86M379.65 506.14A165.7 165.7 0 0 1 379.23 506.44M382.64 503.87A165.7 165.7 0 0 1 381.91 504.43M381.82 504.5A165.7 165.7 0 0 1 381.27 504.92M382.73 503.79A165.7 165.7 0 0 1 382 504.36M377.47 507.72A165.7 165.7 0 0 1 376.96 508.09M382.17 504.23A165.7 165.7 0 0 1 381.76 504.55M353.79 521.86A165.7 165.7 0 0 1 353.42 522.04M353.47 522.01A165.7 165.7 0 0 1 352.5 522.48M353.28 522.11A165.7 165.7 0 0 1 352.91 522.28M353.57 521.96A165.7 165.7 0 0 1 353.1 522.19M355.58 520.97A165.7 165.7 0 0 1 354.96 521.28M353.73 521.88A165.7 165.7 0 0 1 352.56 522.45M353.63 521.93A165.7 165.7 0 0 1 352.5 522.48M354.02 521.74A165.7 165.7 0 0 1 353.19 522.15M326.99 532.19A165.7 165.7 0 0 1 326.32 532.38M325.32 532.66A165.7 165.7 0 0 1 324.93 532.77M323.53 533.15A165.7 165.7 0 0 1 322.83 533.33M328.17 531.84A165.7 165.7 0 0 1 327.28 532.11M328.56 531.73A165.7 165.7 0 0 1 328.18 531.84M328.39 531.78A165.7 165.7 0 0 1 328 531.89M299.1 537.71A165.7 165.7 0 0 1 298.59 537.76M296.6 537.96A165.7 165.7 0 0 1 295.91 538.03M290.98 538.4A165.7 165.7 0 0 1 289.68 538.47M299.68 537.64A165.7 165.7 0 0 1 298.39 537.79M299.87 537.62A165.7 165.7 0 0 1 299.46 537.67M297.14 537.91A165.7 165.7 0 0 1 296.45 537.98M291.08 538.39A165.7 165.7 0 0 1 290.15 538.45M298.81 537.74A165.7 165.7 0 0 1 297.51 537.88M297.86 537.84A165.7 165.7 0 0 1 297.17 537.91M299.08 537.71A165.7 165.7 0 0 1 298.16 537.81M263.01 537.72A165.7 165.7 0 0 1 262.33 537.64M252.09 536.16A165.7 165.7 0 0 1 251.57 536.07M259.83 537.34A165.7 165.7 0 0 1 259.31 537.27M258.86 537.21A165.7 165.7 0 0 1 258.17 537.12M257.64 537.05A165.7 165.7 0 0 1 256.36 536.86M262.07 537.62A165.7 165.7 0 0 1 261.55 537.55M261.12 537.5A165.7 165.7 0 0 1 260.61 537.44M251.2 536A165.7 165.7 0 0 1 250.92 535.95M262.27 537.64A165.7 165.7 0 0 1 261.35 537.53M250.54 535.88A165.7 165.7 0 0 1 250.15 535.8M255.83 536.78A165.7 165.7 0 0 1 255.32 536.7M254.28 536.53A165.7 165.7 0 0 1 254 536.49M223.31 528.33A165.7 165.7 0 0 1 222.66 528.09M216.21 525.51A165.7 165.7 0 0 1 215.84 525.35M218.79 526.58A165.7 165.7 0 0 1 217.59 526.09M218.33 526.39A165.7 165.7 0 0 1 218.07 526.28M217.91 526.22A165.7 165.7 0 0 1 217.06 525.87M216.31 525.55A165.7 165.7 0 0 1 215.83 525.35M223.73 528.49A165.7 165.7 0 0 1 222.51 528.03M223.07 528.24A165.7 165.7 0 0 1 222.8 528.14M216.94 525.81A165.7 165.7 0 0 1 216.3 525.54M217.59 526.09A165.7 165.7 0 0 1 217.32 525.98M219.08 526.69A165.7 165.7 0 0 1 218.59 526.5M220.65 527.32A165.7 165.7 0 0 1 220.27 527.17M193.62 513.78A165.7 165.7 0 0 1 193.37 513.63M193.57 513.76A165.7 165.7 0 0 1 192.47 513.07M192.27 512.94A165.7 165.7 0 0 1 191.93 512.72M190.94 512.09A165.7 165.7 0 0 1 190.6 511.87M142.05 463.28A165.7 165.7 0 0 1 141.93 463.08M133.89 449.25A165.7 165.7 0 0 1 133.29 448.09M134.04 449.54A165.7 165.7 0 0 1 133.9 449.28M132.72 446.96A165.7 165.7 0 0 1 132.15 445.8M134.27 449.99A165.7 165.7 0 0 1 134.14 449.73M133.09 447.68A165.7 165.7 0 0 1 132.96 447.43M134.97 451.31A165.7 165.7 0 0 1 134.54 450.49M134.92 451.21A165.7 165.7 0 0 1 134.78 450.95M128.91 438.77A165.7 165.7 0 0 1 128.55 437.92M129.14 439.28A165.7 165.7 0 0 1 128.62 438.09M130.29 441.88A165.7 165.7 0 0 1 129.91 441.04M130.37 442.04A165.7 165.7 0 0 1 130.25 441.77M118.17 403.69A165.7 165.7 0 0 1 118.07 403.18M118.42 404.99A165.7 165.7 0 0 1 118.17 403.71M117.86 402.04A165.7 165.7 0 0 1 117.74 401.36M118.6 405.92A165.7 165.7 0 0 1 118.47 405.24M117.82 401.81A165.7 165.7 0 0 1 117.71 401.13M115.95 387.69A165.7 165.7 0 0 1 115.93 387.46M117.11 397.42A165.7 165.7 0 0 1 117.07 397.13M117.6 400.48A165.7 165.7 0 0 1 117.53 400.08M116.04 357.32A165.7 165.7 0 0 1 116.11 356.63M116 357.73A165.7 165.7 0 0 1 116.03 357.45M115.62 362.71A165.7 165.7 0 0 1 115.65 362.31M116.09 356.81A165.7 165.7 0 0 1 116.14 356.29M115.57 363.57A165.7 165.7 0 0 1 115.61 362.88M115.85 359.47A165.7 165.7 0 0 1 115.88 359.18M115.63 362.6A165.7 165.7 0 0 1 115.69 361.68M115.54 364.06A165.7 165.7 0 0 1 115.57 363.55M115.67 361.95A165.7 165.7 0 0 1 115.73 361.03M120.1 333.4A165.7 165.7 0 0 1 120.17 333.12M117.77 344.47A165.7 165.7 0 0 1 117.97 343.35M119.37 336.48A165.7 165.7 0 0 1 119.67 335.22M119.38 336.45A165.7 165.7 0 0 1 119.67 335.18M119.24 337.08A165.7 165.7 0 0 1 119.3 336.8M119.46 336.1A165.7 165.7 0 0 1 119.58 335.59M118.05 342.91A165.7 165.7 0 0 1 118.11 342.63M118.91 338.58A165.7 165.7 0 0 1 118.97 338.3M118.47 340.72A165.7 165.7 0 0 1 118.58 340.21M118.65 339.83A165.7 165.7 0 0 1 118.74 339.44M117.99 343.25A165.7 165.7 0 0 1 118.16 342.34M120.54 331.65A165.7 165.7 0 0 1 120.78 330.75M120.42 332.13A165.7 165.7 0 0 1 120.49 331.85M122.3 325.36A165.7 165.7 0 0 1 122.45 324.86M122.1 326.01A165.7 165.7 0 0 1 122.25 325.51M123.38 321.89A165.7 165.7 0 0 1 123.67 321.01M121.82 326.96A165.7 165.7 0 0 1 121.94 326.57M122.88 323.46A165.7 165.7 0 0 1 123.09 322.8M121.71 327.36A165.7 165.7 0 0 1 121.82 326.98M124.19 319.45A165.7 165.7 0 0 1 124.49 318.58M123.89 320.33A165.7 165.7 0 0 1 123.99 320.05M122.82 323.66A165.7 165.7 0 0 1 123.09 322.78M137.53 290.09A165.7 165.7 0 0 1 137.88 289.49M132.85 298.78A165.7 165.7 0 0 1 133.27 297.95M132.53 299.43A165.7 165.7 0 0 1 132.84 298.81M138.3 288.77A165.7 165.7 0 0 1 138.45 288.53M132.46 299.56A165.7 165.7 0 0 1 132.77 298.94M135.68 293.39A165.7 165.7 0 0 1 136.12 292.58M132.34 299.8A165.7 165.7 0 0 1 132.58 299.33M133.47 297.56A165.7 165.7 0 0 1 134.07 296.4M134.32 295.91A165.7 165.7 0 0 1 134.51 295.55M131.41 301.72A165.7 165.7 0 0 1 131.59 301.36M133.38 297.74A165.7 165.7 0 0 1 133.56 297.38M130.89 302.84A165.7 165.7 0 0 1 131.05 302.49M133.63 297.25A165.7 165.7 0 0 1 133.87 296.78M131.49 301.55A165.7 165.7 0 0 1 131.9 300.72M137.35 290.4A165.7 165.7 0 0 1 137.61 289.95M169.01 250.88A165.7 165.7 0 0 1 169.94 250.03M165.47 254.22A165.7 165.7 0 0 1 166.41 253.31M164.93 254.74A165.7 165.7 0 0 1 165.14 254.54M167.66 252.12A165.7 165.7 0 0 1 168.17 251.65M165.64 254.05A165.7 165.7 0 0 1 166.02 253.69M165.15 254.53A165.7 165.7 0 0 1 166.09 253.62M184.79 238.09A165.7 165.7 0 0 1 185.85 237.34M184.8 238.08A165.7 165.7 0 0 1 185.37 237.68M185.42 237.64A165.7 165.7 0 0 1 186.18 237.11M184.15 238.55A165.7 165.7 0 0 1 184.39 238.38M182.62 239.67A165.7 165.7 0 0 1 183.67 238.9M183.85 238.76A165.7 165.7 0 0 1 184.09 238.6M197.33 229.98A165.7 165.7 0 0 1 197.68 229.77M188.09 235.8A165.7 165.7 0 0 1 188.28 235.67M199.11 228.95A165.7 165.7 0 0 1 199.31 228.84M206.36 225.06A165.7 165.7 0 0 1 206.82 224.83M210.72 222.94A165.7 165.7 0 0 1 210.98 222.82M207.63 224.43A165.7 165.7 0 0 1 208.8 223.86M207.45 224.52A165.7 165.7 0 0 1 208.62 223.95M209.6 223.47A165.7 165.7 0 0 1 209.97 223.3M207.02 224.73A165.7 165.7 0 0 1 207.28 224.6M207.37 224.56A165.7 165.7 0 0 1 207.99 224.25M208.18 224.16A165.7 165.7 0 0 1 208.65 223.93M209.8 223.38A165.7 165.7 0 0 1 210.98 222.82M218.88 219.39A165.7 165.7 0 0 1 219.25 219.23M218.74 219.44A165.7 165.7 0 0 1 219.6 219.1M223.79 217.49A165.7 165.7 0 0 1 224.27 217.31M217.91 219.78A165.7 165.7 0 0 1 218.18 219.67M216.29 220.46A165.7 165.7 0 0 1 217.49 219.95M223.43 217.62A165.7 165.7 0 0 1 224.65 217.17M219.34 219.2A165.7 165.7 0 0 1 219.61 219.09M223.93 217.44A165.7 165.7 0 0 1 224.58 217.2M219.05 219.32A165.7 165.7 0 0 1 220.25 218.84M237.07 213.23A165.7 165.7 0 0 1 237.46 213.12M237.13 213.21A165.7 165.7 0 0 1 237.8 213.03M241.45 212.09A165.7 165.7 0 0 1 242.13 211.92M236.65 213.34A165.7 165.7 0 0 1 236.93 213.27M243.42 211.62A165.7 165.7 0 0 1 244.1 211.46M237.09 213.23A165.7 165.7 0 0 1 238.34 212.89M239.23 212.65A165.7 165.7 0 0 1 239.51 212.58M243.22 211.67A165.7 165.7 0 0 1 244.12 211.46M239.6 212.55A165.7 165.7 0 0 1 240.11 212.42" fill="none" stroke="#6699FF" stroke-width="25"/>
<path d="M327.99 214.1A165.7 165.7 0 0 1 328.26 214.18M319.37 211.8A165.7 165.7 0 0 1 319.66 211.87M335.85 216.64A165.7 165.7 0 0 1 336.5 216.87M341.38 218.69A165.7 165.7 0 0 1 342.02 218.95M334.46 216.16A165.7 165.7 0 0 1 335.12 216.39M337.21 217.13A165.7 165.7 0 0 1 337.7 217.3M341.1 218.58A165.7 165.7 0 0 1 341.75 218.84M341.02 218.55A165.7 165.7 0 0 1 341.51 218.74M339.73 218.06A165.7 165.7 0 0 1 340.22 218.24M339.45 217.95A165.7 165.7 0 0 1 340.1 218.2M363.41 229.24A165.7 165.7 0 0 1 363.76 229.45M358.38 226.47A165.7 165.7 0 0 1 358.58 226.58M389.94 248.14A165.7 165.7 0 0 1 390.11 248.29M387.99 246.47A165.7 165.7 0 0 1 388.3 246.73M396.21 253.91A165.7 165.7 0 0 1 396.5 254.19M401.17 258.92A165.7 165.7 0 0 1 401.33 259.09M404.76 262.82A165.7 165.7 0 0 1 405.03 263.12M406.08 264.32A165.7 165.7 0 0 1 406.27 264.54M409.35 268.21A165.7 165.7 0 0 1 409.5 268.39M421.64 285.38A165.7 165.7 0 0 1 421.76 285.58M421.06 284.46A165.7 165.7 0 0 1 421.21 284.7M424.9 290.85A165.7 165.7 0 0 1 425.1 291.2M435.36 312.76A165.7 165.7 0 0 1 435.47 313.03M436 314.42A165.7 165.7 0 0 1 436.1 314.69M443.47 340.45A165.7 165.7 0 0 1 443.55 340.85M443.7 341.6A165.7 165.7 0 0 1 443.77 342M445.67 354.52A165.7 165.7 0 0 1 445.71 354.9M445.98 388.45A165.7 165.7 0 0 1 445.95 388.73M446.53 380.43A165.7 165.7 0 0 1 446.52 380.72M444.99 396.71A165.7 165.7 0 0 1 444.95 397M445.11 395.89A165.7 165.7 0 0 1 445.08 396.12M438.49 424.52A165.7 165.7 0 0 1 438.36 424.9M429.05 447.42A165.7 165.7 0 0 1 428.92 447.68M429.35 446.82A165.7 165.7 0 0 1 429.24 447.03M413.34 472.71A165.7 165.7 0 0 1 412.79 473.44M412.93 473.26A165.7 165.7 0 0 1 412.75 473.49M414.22 471.53A165.7 165.7 0 0 1 414 471.83M412.97 473.21A165.7 165.7 0 0 1 412.54 473.76M412.01 474.45A165.7 165.7 0 0 1 411.59 475M406.26 481.48A165.7 165.7 0 0 1 406.07 481.7M410.48 476.4A165.7 165.7 0 0 1 410.34 476.58M395.68 492.61A165.7 165.7 0 0 1 395.51 492.77M383.63 503.09A165.7 165.7 0 0 1 383.41 503.27M393.29 494.85A165.7 165.7 0 0 1 393.12 495M363.82 516.52A165.7 165.7 0 0 1 363.57 516.66M369.03 513.38A165.7 165.7 0 0 1 368.44 513.75M363.55 516.67A165.7 165.7 0 0 1 362.95 517.02M373.55 510.44A165.7 165.7 0 0 1 372.47 511.16M367.77 514.16A165.7 165.7 0 0 1 367.43 514.38M359.68 518.83A165.7 165.7 0 0 1 359.4 518.98M370.94 512.17A165.7 165.7 0 0 1 370.7 512.32M372.94 510.85A165.7 165.7 0 0 1 371.85 511.57M360.76 518.24A165.7 165.7 0 0 1 360.3 518.49M363.97 516.43A165.7 165.7 0 0 1 363.52 516.69M365.44 515.57A165.7 165.7 0 0 1 364.32 516.23M368.23 513.88A165.7 165.7 0 0 1 367.45 514.36M360.05 518.63A165.7 165.7 0 0 1 359.59 518.87M364.96 515.85A165.7 165.7 0 0 1 364.62 516.06M373.33 510.59A165.7 165.7 0 0 1 372.56 511.11M374.16 510.03A165.7 165.7 0 0 1 373.73 510.32M343.96 526.27A165.7 165.7 0 0 1 343.59 526.42M352.5 522.48A165.7 165.7 0 0 1 352.33 522.56M336.82 529.01A165.7 165.7 0 0 1 336.55 529.11M317.7 534.58A165.7 165.7 0 0 1 317.47 534.64M320.54 533.91A165.7 165.7 0 0 1 320.15 534.01M305.46 536.88A165.7 165.7 0 0 1 305.17 536.93M305.03 536.95A165.7 165.7 0 0 1 304.63 537.01M283.94 538.67A165.7 165.7 0 0 1 283.54 538.68M271.14 538.41A165.7 165.7 0 0 1 270.86 538.39M263.43 537.77A165.7 165.7 0 0 1 263.03 537.72M246.77 535.13A165.7 165.7 0 0 1 246.55 535.08M241.77 533.99A165.7 165.7 0 0 1 241.49 533.92M227.3 529.76A165.7 165.7 0 0 1 227.08 529.68M228.22 530.07A165.7 165.7 0 0 1 227.95 529.98M208.56 522.03A165.7 165.7 0 0 1 208.3 521.9M210.36 522.89A165.7 165.7 0 0 1 210 522.72M201.1 518.16A165.7 165.7 0 0 1 200.85 518.02M172.08 497.87A165.7 165.7 0 0 1 171.77 497.6M161.8 488.1A165.7 165.7 0 0 1 161.6 487.89M162.21 488.52A165.7 165.7 0 0 1 162.05 488.35M166.75 493.01A165.7 165.7 0 0 1 166.58 492.85M183.19 506.75A165.7 165.7 0 0 1 182.86 506.51M149.2 473.43A165.7 165.7 0 0 1 149.03 473.2M144.12 466.38A165.7 165.7 0 0 1 143.96 466.14M151.31 476.13A165.7 165.7 0 0 1 151.13 475.9M146.35 469.57A165.7 165.7 0 0 1 146.12 469.24M136.32 453.77A165.7 165.7 0 0 1 136.23 453.62M121.28 417.1A165.7 165.7 0 0 1 121.2 416.82M126.49 432.85A165.7 165.7 0 0 1 126.4 432.64M122.27 420.56A165.7 165.7 0 0 1 122.16 420.17M122.11 420.02A165.7 165.7 0 0 1 122.05 419.8M122.5 421.32A165.7 165.7 0 0 1 122.44 421.1M115.39 367.68A165.7 165.7 0 0 1 115.4 367.27M115.3 372.43A165.7 165.7 0 0 1 115.3 372.03M116.43 353.66A165.7 165.7 0 0 1 116.47 353.37M117.69 344.96A165.7 165.7 0 0 1 117.74 344.68M125.9 314.67A165.7 165.7 0 0 1 125.99 314.46M130.36 303.97A165.7 165.7 0 0 1 130.46 303.76M139.37 286.99A165.7 165.7 0 0 1 139.49 286.79M144.43 279.16A165.7 165.7 0 0 1 144.6 278.92M146.41 276.34A165.7 165.7 0 0 1 146.58 276.1M141.09 284.21A165.7 165.7 0 0 1 141.25 283.97M156.73 263.39A165.7 165.7 0 0 1 156.89 263.22M157.21 262.86A165.7 165.7 0 0 1 157.36 262.68M173.62 246.8A165.7 165.7 0 0 1 173.93 246.54M181.69 240.36A165.7 165.7 0 0 1 182.01 240.12M227.89 216.04A165.7 165.7 0 0 1 228.27 215.91M245.57 211.13A165.7 165.7 0 0 1 245.97 211.05" fill="none" stroke="#99CCFF" stroke-width="25"/>
<path d="M394.95 180.62A223.6 223.6 0 0 1 395.76 181.09M397.98 182.44A223.6 223.6 0 0 1 398.31 182.65M392.74 179.32A223.6 223.6 0 0 1 393.21 179.59M395.73 181.08A223.6 223.6 0 0 1 396.07 181.28M394.56 180.38A223.6 223.6 0 0 1 394.89 180.58M391.39 178.55A223.6 223.6 0 0 1 392.48 179.17M392.34 179.09A223.6 223.6 0 0 1 392.68 179.29M401.24 184.48A223.6 223.6 0 0 1 402.29 185.15M390.79 178.21A223.6 223.6 0 0 1 391.26 178.48M480.86 272.73A223.6 223.6 0 0 1 481.17 273.36M482.41 275.89A223.6 223.6 0 0 1 482.65 276.39M482.56 276.2A223.6 223.6 0 0 1 483.09 277.32M482.09 275.22A223.6 223.6 0 0 1 482.33 275.71M503.42 395.97A223.6 223.6 0 0 1 503.36 396.55M503.42 395.97A223.6 223.6 0 0 1 503.3 397.09M502.74 401.79A223.6 223.6 0 0 1 502.65 402.46M502.72 401.96A223.6 223.6 0 0 1 502.65 402.46M503.3 397.06A223.6 223.6 0 0 1 503.24 397.61M502.45 403.93A223.6 223.6 0 0 1 502.2 405.67M500.5 415.64A223.6 223.6 0 0 1 500.36 416.33M502.29 405.03A223.6 223.6 0 0 1 502.04 406.76M500.54 415.4A223.6 223.6 0 0 1 500.47 415.78M499.54 420.31A223.6 223.6 0 0 1 499.42 420.84M500.65 414.85A223.6 223.6 0 0 1 500.47 415.77M501.11 412.37A223.6 223.6 0 0 1 501.01 412.91M502.65 402.46A223.6 223.6 0 0 1 502.58 403.02M499.7 419.56A223.6 223.6 0 0 1 499.5 420.47M501.52 410A223.6 223.6 0 0 1 501.43 410.54M501.04 412.75A223.6 223.6 0 0 1 500.87 413.67M501.47 410.29A223.6 223.6 0 0 1 501.35 410.98M502.65 402.46A223.6 223.6 0 0 1 502.6 402.86M498.74 423.84A223.6 223.6 0 0 1 498.65 424.22M498.15 426.33A223.6 223.6 0 0 1 498.02 426.86M499.61 419.96A223.6 223.6 0 0 1 499.24 421.68M501.58 409.61A223.6 223.6 0 0 1 501.47 410.3M496.94 431.04A223.6 223.6 0 0 1 496.61 432.25M497.64 428.36A223.6 223.6 0 0 1 497.41 429.27M495.91 434.74A223.6 223.6 0 0 1 495.8 435.12M497.09 430.47A223.6 223.6 0 0 1 496.99 430.85M495.74 435.3A223.6 223.6 0 0 1 495.55 435.98M496.24 433.58A223.6 223.6 0 0 1 496.09 434.11M470.29 492.03A223.6 223.6 0 0 1 469.62 493.08M471.65 489.83A223.6 223.6 0 0 1 471.28 490.43M471.81 489.57A223.6 223.6 0 0 1 471.15 490.64M472.7 488.1A223.6 223.6 0 0 1 472.09 489.12M470.26 492.08A223.6 223.6 0 0 1 469.88 492.67M403.8 559.86A223.6 223.6 0 0 1 403.22 560.24M406.87 557.81A223.6 223.6 0 0 1 406.41 558.12M401.63 561.27A223.6 223.6 0 0 1 400.15 562.21M393.09 566.47A223.6 223.6 0 0 1 391.57 567.35M402.48 560.72A223.6 223.6 0 0 1 401.69 561.23M404.88 559.15A223.6 223.6 0 0 1 404.29 559.54M405.94 558.44A223.6 223.6 0 0 1 404.9 559.13M406.75 557.89A223.6 223.6 0 0 1 406.17 558.28M392.25 566.96A223.6 223.6 0 0 1 391.44 567.42M399.01 562.92A223.6 223.6 0 0 1 397.95 563.58M396.51 564.46A223.6 223.6 0 0 1 396.17 564.66M403.8 559.86A223.6 223.6 0 0 1 402.76 560.54M397.68 563.74A223.6 223.6 0 0 1 396.88 564.23M342.03 588.11A223.6 223.6 0 0 1 340.83 588.45M347.05 586.62A223.6 223.6 0 0 1 346.52 586.78M345.83 586.99A223.6 223.6 0 0 1 345.46 587.11M346.8 586.7A223.6 223.6 0 0 1 345.61 587.06M332.52 590.58A223.6 223.6 0 0 1 331.84 590.74M332.19 590.66A223.6 223.6 0 0 1 330.95 590.95M347.8 586.39A223.6 223.6 0 0 1 347.43 586.5M346.59 586.76A223.6 223.6 0 0 1 344.91 587.27M338.12 589.18A223.6 223.6 0 0 1 336.42 589.62M347.14 586.59A223.6 223.6 0 0 1 346.77 586.71M347.58 586.46A223.6 223.6 0 0 1 346.39 586.82M335.33 589.9A223.6 223.6 0 0 1 334.8 590.03M334.71 590.05A223.6 223.6 0 0 1 333.5 590.35M212.21 585.75A223.6 223.6 0 0 1 211.32 585.46M210.42 585.17A223.6 223.6 0 0 1 210.05 585.04M211.22 585.43A223.6 223.6 0 0 1 210.33 585.14M208.91 584.66A223.6 223.6 0 0 1 207.73 584.25M206.27 583.74A223.6 223.6 0 0 1 205.78 583.57M210.5 585.19A223.6 223.6 0 0 1 209.98 585.02M212.79 585.94A223.6 223.6 0 0 1 211.12 585.4M85.47 481.46A223.6 223.6 0 0 1 84.86 480.37M84.87 480.38A223.6 223.6 0 0 1 84.68 480.04M84.75 480.16A223.6 223.6 0 0 1 84.16 479.06M84.75 480.16A223.6 223.6 0 0 1 84.15 479.06M85.83 482.12A223.6 223.6 0 0 1 85.57 481.64M67.91 440.76A223.6 223.6 0 0 1 67.8 440.39M68.73 443.29A223.6 223.6 0 0 1 68.51 442.62M69.28 444.9A223.6 223.6 0 0 1 69.15 444.53M69.04 444.19A223.6 223.6 0 0 1 68.74 443.3M69.55 445.71A223.6 223.6 0 0 1 69.37 445.19M67.99 441A223.6 223.6 0 0 1 67.46 439.32M62.08 327.48A223.6 223.6 0 0 1 62.2 326.94M63 323.25A223.6 223.6 0 0 1 63.1 322.82M62.61 325.01A223.6 223.6 0 0 1 62.73 324.48M62.03 327.71A223.6 223.6 0 0 1 62.18 327.03" fill="none" stroke="#0000CC" stroke-width="25.2"/>
<path d="M371.81 234.4A165.7 165.7 0 0 1 372.58 234.91M371.99 234.52A165.7 165.7 0 0 1 372.23 234.68M446.7 372.93A165.7 165.7 0 0 1 446.7 373.48M446.64 377.48A165.7 165.7 0 0 1 446.62 378M446.7 373.1A165.7 165.7 0 0 1 446.7 373.51M446.68 375.68A165.7 165.7 0 0 1 446.65 376.98M446.65 377.2A165.7 165.7 0 0 1 446.64 377.49M446.7 374.03A165.7 165.7 0 0 1 446.68 375.34M118.92 407.44A165.7 165.7 0 0 1 118.73 406.54M119.15 408.51A165.7 165.7 0 0 1 118.88 407.24" fill="none" stroke="#0000CC" stroke-width="25"/>
<path d="M437.06 256.41A194.8 194.8 0 0 1 437.26 256.69M436.68 255.91A194.8 194.8 0 0 1 437.33 256.78M437.34 256.79A194.8 194.8 0 0 1 437.98 257.66M438.47 258.33A194.8 194.8 0 0 1 438.67 258.6M109.62 280.39A194.8 194.8 0 0 1 110.14 279.43M111.04 277.81A194.8 194.8 0 0 1 111.44 277.1M109.52 280.59A194.8 194.8 0 0 1 109.81 280.05M107.9 283.66A194.8 194.8 0 0 1 108.43 282.63M109.4 280.8A194.8 194.8 0 0 1 109.56 280.5M110.74 278.36A194.8 194.8 0 0 1 111.27 277.41M108.74 282.05A194.8 194.8 0 0 1 109.12 281.33M109.4 280.81A194.8 194.8 0 0 1 109.79 280.09M230.76 184.79A194.8 194.8 0 0 1 231.22 184.67M232.41 184.36A194.8 194.8 0 0 1 232.74 184.27M228.04 185.54A194.8 194.8 0 0 1 228.52 185.4M228.04 185.54A194.8 194.8 0 0 1 229.46 185.14M229.99 185A194.8 194.8 0 0 1 231.47 184.6M232.46 184.35A194.8 194.8 0 0 1 232.79 184.26M232.89 184.23A194.8 194.8 0 0 1 233.68 184.03" fill="none" stroke="#0000CC" stroke-width="24.8"/>
<path d="M311.28 126.35L311.56 124.07M325.89 128.59L326.31 126.33M340.34 131.69L340.89 129.46M354.58 135.64L355.27 133.45M368.56 140.44L369.37 138.29M382.23 146.06L383.17 143.95M386.41 147.97L387.39 145.88M398.75 154.17L399.84 152.14M410.73 161.05L411.93 159.09M422.3 168.58L423.61 166.69M433.44 176.75L434.85 174.93M444.11 185.52L445.62 183.79M454.27 194.87L455.88 193.23M457.63 198.21L459.27 196.59M467.07 208.29L468.79 206.77M475.94 218.88L477.74 217.46M484.2 229.95L486.08 228.63M491.83 241.46L493.78 240.24M498.81 253.38L500.83 252.27M505.12 265.66L507.2 264.67M507.3 270.34L509.4 269.39M512.7 283.18L514.84 282.35M517.37 296.3L519.55 295.59M521.29 309.66L523.52 309.08M524.46 323.22L526.72 322.76M526.87 336.94L529.14 336.6M527.49 341.42L529.77 341.13M528.92 356L531.21 355.84M529.49 370.63L531.79 370.61M529.2 385.28L531.49 385.39M528.04 399.87L530.33 400.12M526.03 414.38L528.3 414.76M523.17 428.74L525.41 429.26M519.46 442.91L521.67 443.56M518 447.73L520.19 448.42M512.92 462.24L515.07 463.07M506.96 476.41L509.05 477.37M500.13 490.19L502.16 491.28M492.46 503.52L494.42 504.73M483.99 516.35L485.86 517.68M481.27 520.12L483.13 521.48M473.2 530.52L474.98 531.98M464.58 540.48L466.28 542.03M455.45 549.97L457.06 551.61M445.83 558.97L447.35 560.69M435.74 567.44L437.18 569.24M425.23 575.36L426.56 577.24M421.39 578.04L422.69 579.94M409.83 585.49L411.03 587.46M397.88 592.3L398.96 594.33M385.57 598.43L386.54 600.51M372.94 603.87L373.79 606.01M360.02 608.6L360.75 610.78M355.73 610L356.42 612.19M343.2 613.59L343.78 615.82M330.51 616.52L330.97 618.77M317.68 618.78L318.02 621.05M304.74 620.36L304.96 622.65M291.75 621.27L291.85 623.57M278.72 621.49L278.7 623.79M274.06 621.4L274 623.7M260.29 620.64L260.1 622.93M246.59 619.11L246.27 621.38M232.99 616.82L232.54 619.07M219.53 613.78L218.97 616.01M206.27 610L205.58 612.19M193.24 605.49L192.43 607.64M180.48 600.26L179.55 602.36M175.98 598.22L175.01 600.3M163.97 592.22L162.89 594.25M152.3 585.58L151.11 587.54M141.01 578.32L139.71 580.22M130.13 570.46L128.73 572.28M119.68 562.02L118.19 563.77M109.71 553.03L108.12 554.7M100.24 543.52L98.56 545.1M96.91 539.92L95.21 541.47M87.74 529.22L85.95 530.66M79.19 518.01L77.33 519.35M71.3 506.33L69.36 507.56M64.07 494.23L62.07 495.35M57.55 481.73L55.48 482.74M55.6 477.63L53.51 478.6M50.19 465.08L48.05 465.93M45.47 452.24L43.29 452.98M41.47 439.17L39.26 439.79M38.2 425.9L35.95 426.39M35.66 412.47L33.38 412.84M33.86 398.92L31.57 399.16M32.8 385.3L30.51 385.41M32.61 380.37L30.31 380.44M32.6 366.11L30.3 366.04M33.4 351.86L31.11 351.67M35.02 337.69L32.75 337.36M37.45 323.63L35.2 323.17M40.69 309.73L38.46 309.15M41.89 305.34L39.68 304.71M45.96 292.34L43.78 291.59M50.73 279.58L48.6 278.72M56.19 267.1L54.11 266.12M62.33 254.94L60.31 253.85M69.13 243.14L67.17 241.94M76.56 231.73L74.67 230.42M84.61 220.74L82.8 219.33M93.25 210.2L91.51 208.7M102.45 200.16L100.8 198.56M106.21 196.37L104.59 194.73M116.93 186.36L115.41 184.64M128.23 177.01L126.81 175.2M140.05 168.34L138.75 166.44M152.37 160.38L151.18 158.41M165.14 153.16L164.07 151.13M178.31 146.71L177.36 144.62M182.71 144.77L181.8 142.65M195.97 139.5L195.18 137.34M209.51 135.01L208.85 132.8M223.28 131.3L222.75 129.06M237.25 128.38L236.84 126.12M251.36 126.27L251.08 123.99" stroke="#555" stroke-width="0.6" fill="none"/>
<path d="M319.6 126.6L318.05 136.48M431.54 174.16L425.5 182.13M488.16 234.13L479.85 239.7M519.21 299.13L509.66 302.1M530.37 369.43L520.38 369.57M509.51 472.93L500.34 468.92M459.63 547.04L452.47 540.07M387.91 598.32L383.63 589.29M306.15 621.13L305.14 611.18M241.74 619.29L243.31 609.41M132.09 573.07L138.06 565.04M77.38 517.01L85.54 511.24M35.31 415.84L45.16 414.13M32.48 352.07L42.44 352.91M78.95 226.79L87.05 232.66M156.02 157.17L161.03 165.83M220.88 130.95L223.29 140.66" stroke="#000" stroke-width="1.7" fill="none"/>
<polyline points="296.6 245.95 298 238.07 299.07 233.16 299.42 233.96 299.79 234.52 300.27 234.28 300.44 236.27 301.03 235.29 301.71 233.74 301.97 235 302.47 234.63 302.84 235.15 302.93 237.36 303.29 237.87 303.75 237.77 304.31 237.1 304.76 237.07 305.29 236.6 305.54 237.65 305.85 238.39 306.17 239.05 306.68 238.7 307.3 237.77 307.98 236.59 308.38 236.83 308.69 237.55 309.15 237.47 309.79 236.6 310.13 237.11 310.57 237.17 311.18 236.45 311.66 236.33 312.18 236.07 312.4 237.11 313.2 235.63 313.77 235.16 314.03 236.01 314.14 237.43 314.27 238.75 314.66 239 315.26 238.45 314.72 242.29 316.04 238.93 316.52 238.86 316.98 238.84 317.07 240.2 317.76 239.34 317.83 240.73 318.08 241.45 318.83 240.39 319.3 240.34 319.77 240.32 320.1 240.75 320.46 241.07 320.62 242.07 321.16 241.78 321.72 241.45 322.18 241.44 322.93 240.53 322.47 243.39 323.81 240.65 324.2 240.91 324.66 240.92 324.99 241.31 325.24 241.95 325.8 241.69 326.53 240.91 326.9 241.19 327.52 240.79 327.44 242.33 327.98 242.12 327.97 243.44 328.67 242.82 329.31 242.35 329.37 243.46 329.58 244.15 330.17 243.83 330.22 244.93 330.46 245.5 331.17 244.89 331.52 245.19 331.96 245.27 332.66 244.69 333.03 244.97 333.65 244.61 334.28 244.24 334.36 245.19 334.85 245.17 336.1 243.34 336 244.71 336.47 244.75 336.34 246.16 336.85 246.1 337.29 246.19 338.33 244.95 338.14 246.44" fill="none" stroke="#F00" stroke-width="0.8" stroke-linejoin="round"/>
<polyline points="335.3 257.09 339.08 250.03 341.63 245.7 341.32 247.39 341.63 247.75 342.36 247.27 342.58 247.84 343.2 247.6 343.56 247.87 343.92 248.15 343.88 249.22 344.5 248.97 345.06 248.86 345.36 249.26 344.86 251.17 345.19 251.48 345.61 251.63 346.01 251.82 346.7 251.46 346.89 252.03 347.25 252.29 347.45 252.85 346.56 255.33 348.43 252.89 348.66 253.37 348.86 253.92 348.89 254.74 349.28 254.94 350.03 254.52 349.9 255.59 351.19 254.28 351.21 255.11 352.25 254.21 353.25 253.42 353.8 253.37 353.98 253.94 354.18 254.46 354.39 254.96 355.29 254.37 355.69 254.56 355.71 255.37 356.41 255.1 356.48 255.82 356.7 256.29 357.03 256.6 357.18 257.18 357.31 257.8 357.7 258 357.9 258.49 357.97 259.18 357.83 260.16 358.29 260.27 358.54 260.67 358.93 260.87 359.38 260.98 359.37 261.77 360.36 261.12 359.92 262.49 360.09 263 359.18 264.99 361.76 262.17 362.12 262.43 363.18 261.72 364.51 260.68 364.84 260.98 365.23 261.2 365.91 261.06 366.88 260.51 366.97 261.14 367.46 261.25 367.92 261.39 367.72 262.38 367.02 263.99 367.34 264.3 367.24 265.14 367.72 265.25 367.94 265.67 368.02 266.27 368.41 266.49 368.52 267.05 369.7 266.32 369.07 267.76 369.41 268.03 370.1 267.9 370.52 268.08 371.43 267.7 371.73 268.04 371.81 268.62 372.67 268.31 372.13 269.59 372.93 269.35 373.1 269.82 373.95 269.55 374.24 269.89 374.21 270.58 375.11 270.25 375.89 270.06 375.85 270.76 376.62 270.59 377.57 270.23 377.56 270.9 374.2 275.07 377.9 271.84 378.35 272.02 377.97 273.05 377.75 273.92 377.69 274.61" fill="none" stroke="#F00" stroke-width="0.8" stroke-linejoin="round"/>
<polyline points="371.98 282.97 377.97 277.65 381.85 274.46 381.15 275.77 381.38 276.17 383.01 275.23 382.65 276.2 382.74 276.72 382.83 277.26 382.86 277.84 383.28 278.06 382.67 279.23 382.68 279.82 383.16 279.97 382.91 280.79 383.72 280.66 383.17 281.74 383.57 281.97 384.16 282.03 383.96 282.79 381.88 285.18 384.98 283.07 385.08 283.56 386.88 282.6 386.91 283.16 387.06 283.61 388.05 283.36 387.89 284.07 388.74 283.95 389.68 283.75 389.65 284.36 389.37 285.16 389.39 285.71 390.54 285.36 391.12 285.48 391.55 285.71 391.31 286.47 390.56 287.62 387.15 290.82 391.01 288.39 390.44 289.39 390.77 289.69 391.64 289.58 391.31 290.39 390.85 291.28 391.04 291.68 391.06 292.21 391.77 292.23 392.9 291.96 392.11 293.06 392.9 293.04 393.43 293.2 394.17 293.22 393.83 293.99 394.45 294.1 395.54 293.88 396.72 293.62 397.16 293.86 396.02 295.17 395.87 295.81 397.37 295.33 397.78 295.6 398.18 295.87 398.32 296.31 397.6 297.32 396.42 298.6 398.47 297.82 397.39 299.03 397.96 299.19 397.9 299.75 397.63 300.44 397.65 300.94 396.19 302.35 398.31 301.57 398.42 302.01 398.59 302.42 399.36 302.47 400.07 302.56 400.35 302.91 399.37 303.99 400.42 303.89 401.28 303.9 401.51 304.28 401.52 304.78 402.47 304.76 402.26 305.39 403.14 305.41 403.86 305.52 405.26 305.26 404.43 306.23 403.94 307 403.73 307.62 404.68 307.62 404.72 308.1 404.63 308.65 403.65 309.66 404.49 309.73 405.11 309.9 404.53 310.7 405.01 310.95 404.08 311.91 405.24 311.83 405.21 312.33 405.04 312.9 404.69 313.56 405 313.9 404.9 314.43" fill="none" stroke="#F00" stroke-width="0.8" stroke-linejoin="round"/>
<polyline points="397.57 320.12 405.03 317.21 409.78 315.57 407.27 317.17 405.48 318.44 405.34 318.98 406.68 318.87 402.92 320.95 407.46 319.49 408.07 319.71 408.51 320.01 407.79 320.78 408.67 320.89 408.96 321.25 409.42 321.54 409.2 322.11 409.08 322.63 409.66 322.87 409.78 323.3 410.23 323.6 411.59 323.56 411.36 324.12 411.13 324.68 411.6 324.98 411.87 325.36 413.28 325.32 413.2 325.83 412.11 326.69 411.14 327.5 412.22 327.59 412.16 328.08 412.06 328.58 411.78 329.14 411.69 329.63 412.06 329.98 411.31 330.68 411.5 331.08 412.15 331.34 412.48 331.69 412.14 332.26 412.6 332.58 411.14 333.48 411.97 333.69 413.97 333.55 414.69 333.8 414.67 334.27 414.39 334.81 414.99 335.1 414.7 335.65 414.91 336.05 415.5 336.35 415.42 336.83 415.66 337.23 416.08 337.58 416.36 337.97 417.18 338.22 416.71 338.8 415.87 339.47 416.22 339.84 415.9 340.38 416.66 340.65 415.96 341.27 415.83 341.76 414.95 342.42 413.93 343.1 414.76 343.36 415.33 343.68 415.5 344.09 415.69 344.5 415.21 345.05 414.07 345.73 413.99 346.19 414.93 346.45 415.48 346.78 416.11 347.11 417.62 347.27 417.42 347.76 417.79 348.15 416.84 348.77 417.21 349.15 418.64 349.35 418.86 349.77 419.46 350.12 419.87 350.51 419.27 351.06 418.84 351.58 418.32 352.11 419.69 352.36 419.39 352.85 419.22 353.33" fill="none" stroke="#F00" stroke-width="0.8" stroke-linejoin="round"/>
<polyline points="407.96 356.74 415.95 356.15 420.97 355.97 420.52 356.48 420.34 356.94 420.61 357.36 420.14 357.86 421.04 358.21 421.62 358.6 420.41 359.17 418.66 359.79 418.14 360.28 418.5 360.68 418.73 361.1 417.83 361.62 417.81 362.06 417.44 362.52 417.45 362.96 417.66 363.38 417.67 363.81 418.17 364.22 418.32 364.64 418.77 365.06 418.36 365.52 418.92 365.93 419.21 366.35 419.3 366.79 419.86 367.2 419.93 367.64 419.88 368.08 420.4 368.51 420.98 368.93 422 369.35 421.32 369.82 421.21 370.26 419.42 370.74 420.12 371.17 420.94 371.6 421.22 372.04 420.94 372.49 421.05 372.93 419.82 373.37 420.02 373.82 417.95 374.24 418.76 374.68 417.51 375.1 418.39 375.55 417.29 375.96 418.55 376.43 418.25 376.86 419.49 377.33 418.85 377.75 418.91 378.19 419.43 378.65 417.97 379.02 418.84 379.5 418.44 379.92 419.94 380.44 421.19 380.95 420.31 381.34 419.64 381.74 419.02 382.14 416.83 382.43 416.98 382.88 419.99 383.54 419.35 383.93 419.31 384.37 419.78 384.85 419.08 385.24 418.61 385.63 418.38 386.05 417.67 386.42 418.55 386.95 418.84 387.42 418.41 387.82 418.39 388.26 418.07 388.66 419.01 389.21 417.54 389.48 417.9 389.96 418.08 390.43 417.79 390.83 417.74 391.27 417.83 391.72 416.85 392.03 417.91 392.62 418.86 393.2 419.23 393.7 417.95 393.96 419.43 394.63 419.95 395.17 419.82 395.6 418.69 395.86 419.39 396.43 417.98 396.64 417.97 397.08 416.82 397.33 418.56 398.09 417.61 398.36 416.55 398.61 417.4 399.22 416.21 399.44 415.95 399.83 416.16 400.32 416.35 400.81 416.5 401.29 415.02 401.42 415.71 402.01 415.43 402.4 414.72 402.69 415.84 403.39 415.4 403.74 414.19 403.9 415.95 404.77 415.73 405.17 416.13 405.72 416.19 406.18 415.55 406.48 416.1 407.07 415.86 407.47 415.92 407.94 416.18 408.46 417.63 409.31 416.37 409.43 416.34 409.89 415.66 410.16 415.68 410.63 415.45 411.02 415.32 411.45 414.48 411.67 412.86 411.65 413.36 412.25 412.94 412.58" fill="none" stroke="#F00" stroke-width="0.8" stroke-linejoin="round"/>
<polyline points="403.08 411.49 410.58 414.31 415.2 416.25 412.55 415.86 414.12 416.84 413.42 417.07 412.93 417.37 413.25 417.95 412.16 418.05 412.1 418.49 412.37 419.05 411.88 419.35 410.5 419.32 410.93 419.94 410.91 420.4 409.78 420.45 408.99 420.62 410.11 421.51 409.28 421.66 409.35 422.15 408.62 422.34 408.03 422.58 408.32 423.15 408.98 423.88 409.39 424.52 408.04 424.44 408.56 425.13 408.23 425.46 409.18 426.33 409.5 426.94 408.27 426.91 408.77 427.59 408.24 427.85 408.57 428.47 407.57 428.51 408.69 429.49 409.15 430.18 408.5 430.37 408.24 430.74 407.63 430.95 407.58 431.42 406.23 431.27 404.63 431.01 404.98 431.65 404.82 432.06 405.6 432.92 405.03 433.13 405.18 433.69 404.78 433.98 405.32 434.74 404.74 434.94 403.77 434.94 403.25 435.17 403.57 435.82 404.53 436.81 404.28 437.17 403.24 437.13 404.07 438.06 403.93 438.49 403.11 438.55 402.63 438.79 402.25 439.08 402.7 439.83 403.91 441 403.34 441.2 403.16 441.61 402.67 441.84 401.44 441.65 401.69 442.3 401.16 442.5 401.17 443.02 400.96 443.41 401.18 444.05 400.5 444.16 400.49 444.67 398.67 444.09 398.08 444.24 399.13 445.39 397.95 445.18 394.1 443.3 397.74 446.08 397.11 446.2 396.73 446.47 395.69 446.32 395.04 446.42 396.18 447.67 396.97 448.7 396.65 449.02 396.78 449.63 396.84 450.2 396.12 450.25 396.46 451.01 395.78 451.09 396.45 452.08 396.55 452.68 396 452.85 395.66 453.15 396.58 454.34 394.92 453.71 393.64 453.35" fill="none" stroke="#F00" stroke-width="0.8" stroke-linejoin="round"/>
<polyline points="384.16 448.78 390.35 453.86 394.1 457.2 393.91 457.62 393.15 457.61 393.61 458.52 392.9 458.55 391.74 458.23 391.91 458.92 390.9 458.71 390.12 458.66 389.58 458.79 389.4 459.22 389.09 459.54 389.07 460.09 388.17 459.93 387.14 459.66 387.51 460.53 387.18 460.83 386.61 460.93 385.93 460.93 385.57 461.21 385.64 461.83 385.89 462.62 385.76 463.09 384.83 462.87 385.53 464.07 385.29 464.44 384.98 464.76 384.94 465.32 384.68 465.68 384.89 466.47 384.43 466.65 383.51 466.43 382.78 466.35 383.86 467.95 383.49 468.22 382.93 468.31 382.21 468.24 381.69 468.36 381.38 468.68 381.03 468.96 380.56 469.12 380.34 469.52 379.26 469.09 379.05 469.5 378.5 469.58 375.1 466.8 375.12 467.42 377.97 470.91 377.02 470.57 377.03 471.2 377.26 472.07 376.42 471.84 376.21 472.25 376.66 473.36 375.6 472.88 375.45 473.37 376.26 474.88 375.1 474.29 375.84 475.74 375.23 475.73 374.44 475.54 373.96 475.66 374.37 476.79 373.98 477.02 372.9 476.47 372.88 477.11 372.55 477.42 371.46 476.83 371.82 477.93 370.76 477.37 370.83 478.14 370.17 478.04 370.12 478.66 370.16 479.4 369.29 479.05 369.42 479.9 367.48 478.23 365.77 476.83 367.75 479.94 367.64 480.52 366.98 480.39 367.26 481.46 366.29 480.94 366.33 481.7 365.78 481.72 364.72 481.07 364.86 481.96 364.76 482.56 364.49 482.93 365.12 484.51 364.47 484.38 364.36 484.97 362.7 483.48 363.59 485.43 362.11 484.16 362.05 484.83 361.47 484.78 361.47 485.53 361.5 486.34 361.04 486.46" fill="none" stroke="#F00" stroke-width="0.8" stroke-linejoin="round"/>
<polyline points="353.32 478.61 357.48 485.46 359.92 489.85 358.55 488.61 356.69 486.63 358.08 489.52 357.7 489.76 357.02 489.53 356.27 489.19 356.15 489.81 355.76 490.03 354.61 489.05 354.51 489.71 353.68 489.21 353.93 490.45 353.41 490.44 353.5 491.44 352.7 490.97 352.18 490.97 351.99 491.5 351.88 492.18 351.36 492.17 351.06 492.53 350.26 492.04 350.4 493.17 350.08 493.5 349.76 493.83 349.73 494.68 349.21 494.65 348.91 495.04 348.3 494.85 348.22 495.64 347.95 496.08 347.07 495.39 347.15 496.47 346.65 496.49 346.39 496.95 345.12 495.49 344.94 496.09 344.59 496.39 343.87 495.95 343.68 496.56 343.31 496.81 342.92 497.02 342.47 497.11 341.68 496.49 341.26 496.64 340.15 495.36 340.2 496.45 340 497.05 340.11 498.31 340.08 499.3 339.26 498.59 338.63 498.29 338.34 498.71 338.1 499.25 337.91 499.91 337.14 499.25 337.1 500.27 336.73 500.52 336.59 501.32 336.7 502.71 336.51 503.41 336.06 503.5 333.94 499.62 334.58 502.3 333.71 501.36 333.05 500.91 332.53 500.81 332.61 502.19 331.89 501.57 331.53 501.88 330.9 501.47 330.51 501.69 329.96 501.46 329.39 501.22 329.07 501.59 328.19 500.49 327.76 500.57 328.16 502.95 327.69 502.93 326.7 501.49 326.54 502.33 326.22 502.74 325.9 503.16 325.9 504.53 325.5 504.73 325.03 504.72 324.89 505.72" fill="none" stroke="#F00" stroke-width="0.8" stroke-linejoin="round"/>
<polyline points="319.49 495.08 321.48 502.84 322.54 507.74 321.46 505.74 320.75 504.94 320.39 505.26 320.48 507.11 320.31 508.14 319.48 506.88 319.07 507.07 318.7 507.41 318.4 507.98 317.62 506.82 317.5 508.06 317.13 508.44 316.55 507.98 316.39 509.15 315.13 506.02 315.1 507.7 314.99 509.07 313.99 506.89 313.49 506.72 312.99 506.5 312.57 506.65 311.92 505.77 311.46 505.74 311.18 506.44 310.85 507.01 310.53 507.57 310.27 508.44 309.64 507.62 309.36 508.45 308.9 508.41 308.31 507.72 308.01 508.46 307.65 508.89 307.24 509.1 306.71 508.69 306.43 509.6 305.98 509.59 305.65 510.28 305.35 511.12 304.88 511.04 304.57 511.91 304.01 511.3 303.44 510.57 302.97 510.44 302.53 510.48 302 510 301.56 510.01 301 509.27 300.53 509.07 299.59 505.53 299.77 510.02 299.12 508.46 298.88 510.02 298.31 509.04 297.8 508.47 297.46 509.34 297.17 510.55 296.73 510.62 296.17 509.62 295.35 506.11 295.33 510.02 294.69 508.02 294.56 511.2 294.18 511.9 293.74 511.91 293.31 512.12 292.86 512.16 292.45 512.6 291.99 512.41 291.52 512.08 291.12 512.77 290.67 512.7 290.2 512.42 289.69 511.37 289.21 510.75 288.77 510.94 288.3 510.41 287.91 511.37 287.44 510.64 286.98 510.32 286.52 509.72 286.1 510.31 285.62 509.13 285.22 510.04 284.81 511.11 284.36 510.79 283.92 510.96 283.48 511.14 283.05 511.4 282.6 511.01 282.16 510.9 281.71 510.32 281.28 510.96 280.84 511.71 280.39 512.61 279.95 511.55 279.51 511.19 279.06 511.7" fill="none" stroke="#F00" stroke-width="0.8" stroke-linejoin="round"/>
<polyline points="277.43 500.95 276.77 508.93 276.17 513.92 275.83 510.96 275.39 510.89 274.89 512.33 274.43 512.6 274.01 512.13 273.56 512.27 273.13 511.96 272.67 512.32 272.26 511.74 271.81 511.91 271.35 512.03 270.94 511.62 270.53 511.1 270.08 511.24 269.67 510.8 269.18 511.41 268.83 510.41 268.35 510.78 267.97 510.11 267.57 509.7 267.14 509.6 266.69 509.71 266.22 510.06 265.75 510.27 265.24 510.86 264.82 510.68 264.36 510.76 263.93 510.67 263.46 510.9 263.03 510.77 262.57 510.83 262.12 510.92 261.65 511.08 261.25 510.69 260.86 510.35 260.31 510.99 259.81 511.34 259.4 511.11 258.79 512.07 258.6 510.5 258.22 510.05 257.82 509.79 257.37 509.8 257 509.33 256.4 510.19 255.94 510.26 255.65 509.38 255.17 509.53 254.8 509.1 254.57 507.98 254.21 507.55 253.71 507.84 254.06 503.94 252.97 507.11 252.23 508.49 252.09 507.03 251.55 507.49 251.18 507.12 250.74 507.09 250.08 508.02 249.49 508.61 249.16 508.08 248.67 508.24 248.3 507.86 247.52 509.18 247.17 508.76 246.76 508.55 246.1 509.33 245.67 509.23 245.23 509.13 245.15 507.67 244.48 508.47 243.97 508.65 243.48 508.74 243.4 507.36 243.2 506.43 243.04 505.4 242.58 505.43 242.12 505.43 241.88 504.68 241.34 504.97 240.9 504.9 240.56 504.52 240.11 504.5 239.66 504.47 239.06 504.9 238.57 505 238.29 504.43 238.28 503.05 237.52 503.96 236.78 504.78 236.54 504.1 235.86 504.72 235.63 504.04 234.83 505.01 234.65 504.18 234.49 503.31 233.42 504.98 233.06 504.67 232.77 504.16 232.46 503.7 232.33 502.79 231.69 503.24 231.75 501.84 231.27 501.87 231.28 500.64 230.45 501.56 230.13 501.16 229.65 501.19 229.45 500.52 229.11 500.19 228.88 499.59 228.48 499.43 228.11 499.17 228 498.32 227.47 498.47 227.2 498 226.54 498.42 227.07 496.13 225.21 499.28 224.11 500.67 224.23 499.31" fill="none" stroke="#F00" stroke-width="0.8" stroke-linejoin="round"/>
<polyline points="226.9 489.01 223.13 496.07 220.6 500.41 221.81 496.83 221.71 496.05 220.98 496.56 220.29 496.97 219.96 496.66 219.54 496.51 218.87 496.86 219.02 495.61 218.71 495.24 218.01 495.65 217.81 495.09 217.06 495.59 215.8 497.05 215.21 497.22 215.12 496.43 214.63 496.4 214.78 495.18 214.94 493.98 215 492.96 214.04 493.79 213.22 494.37 213.09 493.71 212.88 493.19 212.28 493.34 211.93 493.07 211.58 492.8 211.07 492.79 211.81 490.68 211.16 490.92 210.89 490.53 210.52 490.31 210.29 489.84 210.55 488.58 209.89 488.83 208.9 489.61 207.91 490.38 209.41 487.17 206.89 490.36 206.86 489.58 206.57 489.22 205.66 489.82 205.48 489.29 205.36 488.67 205.05 488.34 203.71 489.57 203.52 489.06 203.4 488.43 203.09 488.12 202.46 488.25 202.13 487.95 201.95 487.43 202.03 486.55 201.6 486.4 202.13 484.88 201.62 484.84 201.27 484.59 200.46 484.97 200.28 484.48 199.65 484.59 199.14 484.55 199.36 483.51 198.94 483.35 200.38 480.7 197.69 483.56 197.28 483.36 196.81 483.26 196.5 482.94 195.39 483.65 195.91 482.26 194.64 483.18 194.04 483.22 194 482.55 194.55 481.15 193.35 481.95 193.52 481.03 192.81 481.2 195.02 477.81 192.23 480.51 192.03 480.06 192.16 479.21 192.05 478.67 191.06 479.15 190.99 478.56 190.69 478.23 189.43 479.01 189.74 477.99 189.67 477.39 189.78 476.6 189.84 475.87 189.12 476.02 188.96 475.55 189.66 474.12 188.68 474.56 189.08 473.47 187.58 474.46 187.46 473.95 187.02 473.78 186.47 473.72 185.98 473.61 185.49 473.49 184.97 473.4 184.76 472.98 184.67 472.44 182.82 473.7 183.1 472.78 182.98 472.27 182.2 472.43 181.88 472.12 182.62 470.76 182.27 470.48 182.25 469.89 182.01 469.51 181.8 469.1 181.62 468.66 180.26 469.36 180.54 468.48 180.89 467.55 180.17 467.62 180.57 466.65" fill="none" stroke="#F00" stroke-width="0.8" stroke-linejoin="round"/>
<polyline points="186.18 458.98 179.96 464.03 175.94 467.04 175.59 466.75 176.06 465.73 175.42 465.7 176.63 464.05 176.37 463.69 176.31 463.15 175.67 463.12 175.24 462.9 175.47 462.13 175.46 461.56 175.92 460.6 174.93 460.85 175 460.23 174.21 460.3 173.5 460.31 174.33 459.07 173.94 458.83 173.57 458.56 172.6 458.76 172.36 458.39 171.76 458.29 170.7 458.56 170.39 458.23 170.22 457.8 170.36 457.13 169.17 457.47 168.34 457.54 169 456.48 168.76 456.1 169.47 455.02 168.72 455.03 168.24 454.82 167.05 455.13 167.46 454.29 168.48 453.01 168.46 452.49 168.1 452.2 168.33 451.5 168.83 450.62 167.6 450.94 168.72 449.64 168.21 449.46 168.17 448.96 166.96 449.25 166.11 449.28 166.41 448.56 165.38 448.71 164.55 448.72 163.54 448.85 163.47 448.36 163.54 447.78 163.85 447.06 162.82 447.18 162.49 446.86 161.97 446.66 163.08 445.45 162.79 445.11 161.28 445.5 161.45 444.88 161.49 444.34 161.68 443.7 160.89 443.66 160.98 443.09 160.23 443.01 160.53 442.32 159.93 442.15 159.69 441.78 158.69 441.82 160.52 440.29 160.42 439.84 160.47 439.31 163.53 437.13 159.69 438.73 162.94 436.48 160.61 437.24 159.71 437.22 159.42 436.87 158.33 436.95 158.55 436.34 158.7 435.76 157.33 435.97 156.66 435.81 156.45 435.42 155.81 435.24 155.22 435.03 153.39 435.42 154.3 434.47 154.11 434.07" fill="none" stroke="#F00" stroke-width="0.8" stroke-linejoin="round"/>
<polyline points="164.9 426.89 157.46 429.87 152.73 431.55 153.61 430.66 152.89 430.5 153.81 429.6 153.4 429.3 153.2 428.9 152.97 428.52 152.71 428.15 151.65 428.12 152.12 427.43 152.12 426.95 152.95 426.13 151.99 426.04 152.1 425.52 153.09 424.64 153.34 424.07 153.4 423.58 153.31 423.14 152.87 422.85 153.08 422.3 152.17 422.18 151.98 421.78 151.62 421.45 151.89 420.88 152.3 420.26 150.85 420.33 149.95 420.18 150.29 419.59 150.26 419.14 149.1 419.07 148.54 418.8 148.26 418.42 147.64 418.16 149.42 417.09 146.83 417.49 147.37 416.84 147.45 416.34 147.97 415.7 147.58 415.36 148.61 414.57 147.85 414.35 147.37 414.03 147.57 413.51 147.46 413.08 147.63 412.56 148.54 411.84 149.31 411.16 148.01 411.07 148.86 410.38 149.1 409.86 148.8 409.49 150.1 408.68 149.93 408.28 148.8 408.13 148.47 407.77 148.72 407.26 148.29 406.92 148.06 406.53 146.36 406.5 146.13 406.1 145.79 405.73 144.91 405.49 145.62 404.86 145.27 404.49 145.28 404.04 144.75 403.7 144.65 403.27 144.07 402.94 144.39 402.42 144.03 402.04 145.11 401.36 144.33 401.07 145.06 400.47 145.82 399.87 145.64 399.46 146.06 398.93 146.17 398.46 146.68 397.93 146.29 397.56 146.56 397.07 146.24 396.68 145.76 396.32 146.32 395.78 146.35 395.34 145.64 395.02 145.4 394.61 145.96 394.08 144.77 393.83 143.49 393.57 144.07 393.04 142.71 392.79 142.63 392.36 141.48 392.07 142.62 391.46 143.23 390.93 142.89 390.53 142.5 390.14 143.27 389.6 144.39 389.02 143.72 388.66 143.05 388.29 143.7 387.78 143.47 387.36 143.83 386.88 145.12 386.31 145.15 385.88 144.34 385.51 144.09 385.1 143.79 384.68 143.63 384.26 144.34 383.76 144.55 383.31 144 382.91 142.79 382.56 142.13 382.16 146.2 381.46 143.22 381.21 142.26 380.83 142.22 380.39 142.51 379.93 146.99 379.28 142.69 379.04" fill="none" stroke="#F00" stroke-width="0.8" stroke-linejoin="round"/>
<polyline points="153.06 376.8 145.05 376.6 140.04 376.28 143.81 375.75 143.47 375.32 143.98 374.87 143.96 374.43 143.61 374 142.43 373.56 140.91 373.12 140.18 372.67 140.94 372.22 140.39 371.77 140.57 371.32 142.08 370.89 143.58 370.47 142.19 370 141.65 369.55 140.67 369.07 141.78 368.66 142.02 368.22 142.14 367.78 141.18 367.29 141.32 366.85 144.02 366.53 141.96 365.99 142.38 365.56 143.28 365.17 142.59 364.68 142.92 364.26 142.82 363.81 143.18 363.39 143.97 363 144.44 362.6 143.39 362.07 142.16 361.53 142.03 361.07 143.12 360.72 143.77 360.33 143 359.82 143.33 359.4 143.34 358.96 142.35 358.41 142.66 357.99 143.04 357.59 142.45 357.07 143.06 356.69 142.74 356.21 142.81 355.77 143.19 355.36 143.99 355.02 143.53 354.51 143.21 354.02 143.63 353.63 143.03 353.09 143.44 352.7 143.48 352.26 143.81 351.86 144.03 351.44 145.12 351.17 144.47 350.62 144.93 350.24 146.13 350 145.5 349.45 146.27 349.13 147.47 348.91 145.86 348.17 144.81 347.52 144.35 346.98 143.57 346.38 144.29 346.06 143.88 345.53 147.66 345.84 144.85 344.81 144.17 344.22 144.02 343.73 144.61 343.39 144.08 342.82 144.4 342.43 145.01 342.11 145.47 341.76 145.89 341.4 144.62 340.64 144.88 340.24 145.92 340.03 145.53 339.48 147.04 339.4 146.23 338.73 146.37 338.31 147.09 338.04 148.03 337.83 148.12 337.4" fill="none" stroke="#F00" stroke-width="0.8" stroke-linejoin="round"/>
<polyline points="157.84 338.15 150.26 335.55 145.58 333.74 148.54 334.14 149.52 333.98 148.98 333.36 149.55 333.07 148.72 332.36 149.2 332.04 149.91 331.8 149.67 331.27 150.2 330.98 150.62 330.65 149.65 329.87 150.06 329.55 149.55 328.91 148.63 328.13 148.66 327.67 148.78 327.24 149.69 327.08 149.01 326.38 148.18 325.61 148.92 325.39 150.18 325.37 150.4 324.98 150.31 324.47 151.01 324.26 151.53 323.98 152.49 323.88 151.8 323.14 152.14 322.8 152.75 322.56 152.91 322.16 153.42 321.89 153.35 321.39 153.42 320.94 153.2 320.37 159.38 322.46 154.78 320.08 153.72 319.16 153.97 318.78 154.12 318.37 153.38 317.57 153.9 317.31 153.47 316.64 154.21 316.48 154.31 316.04 153.95 315.39 153.58 314.73 153.39 314.15 154.98 314.4 154.44 313.65 154.42 313.15 154.75 312.81 154.56 312.22 154.89 311.89 156.37 312.12 155.88 311.38 156.33 311.11 156.44 310.67 158.96 311.44 158.52 310.73 159.13 310.54 159.11 310.04 158.99 309.49 159.86 309.45 159.63 308.84 160.21 308.65 160.17 308.13 160.98 308.07 160.26 307.18 160.76 306.96 160.84 306.5 160.21 305.64 160.1 305.08 159.52 304.24 159.95 303.97 160.53 303.8 160.5 303.27 160.63 302.83 161.09 302.58 161.09 302.06 161.23 301.63 161.75 301.42 162.04 301.08 162.3 300.72 161.45 299.68 162.09 299.55 162.98 299.58 163.29 299.25 163.83 299.07 164.05 298.68 164.11 298.19 164.36 297.83 164.7 297.52 165.92 297.79 165.86 297.23 166.69 297.25 166.16 296.37 166.67 296.18 167.43 296.17 168.46 296.34 167.63 295.24 167.55 294.65 167.99 294.42 168.92 294.54 167.72 293.16 168.24 292.98 168.24 292.44 167.71 291.52 168.15 291.28 167.14 290 167.41 289.64 168.18 289.65 168.82 289.56 169.32 289.38 169.67 289.09 169.89 288.7 170.32 288.47 170.26 287.86 170.37 287.38 171.32 287.56 171.11 286.83 171.19 286.32 171.73 286.18 172.73 286.41 173.72 286.64 174.86 287 175.29 286.79 174.97 285.96 174.61 285.1 175.11 284.94 174.92 284.21 175.06 283.75 175.92 283.9 176.42 283.75 176.17 282.95 176.95 283.05 175.99 281.63 174.98 280.15 176.67 281.04 176.45 280.26 177.36 280.47 177.9 280.36 178.53 280.34 178.16 279.4 178.61 279.22 178.67 278.66 178.62 278.01 179.46 278.19 180.2 278.27 180.67 278.11 181.22 278.03 181.97 278.14 181.86 277.42 182.35 277.28 183.4 277.7 183.7 277.38" fill="none" stroke="#F00" stroke-width="0.8" stroke-linejoin="round"/>
<polyline points="190.97 282.02 185.65 276.03 182.46 272.15 184.3 273.4 183.63 272.07 183.8 271.6 185.38 272.61 185.99 272.61 186.1 272.09 186 271.33 187.38 272.17 187.28 271.42 187.31 270.8 187.82 270.71 188.33 270.62 188.71 270.37 189.61 270.72 192.14 272.92 189.77 269.59 189.39 268.49 193.3 272.3 192.06 270.23 190.61 267.87 191.47 268.2 191.79 267.9 191.4 266.76 191.77 266.51 194.05 268.56 191.35 264.61 192.19 264.93 193.07 265.31 193.5 265.13 193.66 264.63 194 264.34 194.76 264.58 195.59 264.93 196.04 264.79 196.4 264.55 195.61 262.8 196.59 263.35 196.48 262.49 197.7 263.36 198.85 264.15 199.5 264.3 199.24 263.23 199.99 263.5 200.51 263.48 200.3 262.46 200.63 262.17 201.28 262.33 200.46 260.44 200.83 260.2 201.77 260.78 201.77 260.01 203.78 262.13 202.86 260.04 202.24 258.36 202.44 257.87 203.24 258.26 203.68 258.12 203.68 257.33 204.09 257.15 203.84 255.97 204.39 255.99 204.81 255.83 205.9 256.69 205.78 255.69 206.04 255.28 208.75 258.73 207.48 255.89 207.42 254.97 208.4 255.72 208.57 255.16 209.24 255.4 210.32 256.35 211.02 256.66 211.4 256.46 210.73 254.48 211.02 254.11 210.98 253.16 211.93 253.93 212.53 254.09 212.82 253.72 213.17 253.44 213.44 253.04 214.16 253.43 214.3 252.78 213.89 251.12 214.12 250.62 214.04 249.54 214.68 249.8 215.58 250.54 217.25 252.75 216.05 249.53 216.52 249.48 217.24 249.91 217.96 250.33 218.07 249.58 218 248.47 218.85 249.17 219.01 248.5 219.47 248.44 220.22 248.96 221.05 249.67 220.98 248.51 222.69 251.08 222.67 250.03 222.66 248.99 223.05 248.79 223.95 249.69 224.14 249.08 224.13 248 224.24 247.18 224.68 247.08" fill="none" stroke="#F00" stroke-width="0.8" stroke-linejoin="round"/>
<polyline points="230.37 255.44 227.61 247.92 226.06 243.14 227.2 244.69 229.9 250.05 228.58 245.72 229.14 245.93 229.81 246.4 230.35 246.56 230.17 244.93 230.98 245.78 231.26 245.3 231.8 245.47 231.81 244.28 231.7 242.73 231.97 242.19 232.53 242.4 232.6 241.32 232.85 240.69 233.31 240.63 233.8 240.65 234.32 240.77 234.98 241.3 235.34 240.98 235.94 241.37 236.15 240.59 236.6 240.52 237.46 241.69 238.27 242.75 238.39 241.7 238.84 241.65 239.41 241.99 240.18 242.97 240.32 241.94 240.6 241.36 241.09 241.46 241.66 241.8 241.83 240.83 242.47 241.45 242.39 239.62 243.12 240.53 243.37 239.79 243.86 239.91 244.48 240.5 244.68 239.56 244.78 238.2 245.22 238.15 245.51 237.49 246.09 237.93 246.51 237.79 247.29 239.02 247.67 238.72 247.98 238.12 248.08 236.64 248.82 237.84 249.19 237.45 249.72 237.75 250.1 237.45 250.75 238.29 251.06 237.64 251.81 239 252.16 238.52 252.39 237.49 252.87 237.63 253.19 236.96 253.69 237.19 254.24 237.73 254.94 239.01 255.38 238.95 255.71 238.35 255.99 237.46 256.48 237.68 256.87 237.37 257.27 237.1 257.51 235.88 258.04 236.34 258.47 236.22 258.87 235.93 259.14 234.73 259.66 235.18 260.11 235.16 260.63 235.63 260.89 234.35 261.38 234.56 261.97 235.56 262.37 235.24 262.84 235.35 263.45 236.62 263.73 235.32 264.14 234.99 264.62 235.32 265.05 235.15" fill="none" stroke="#F00" stroke-width="0.8" stroke-linejoin="round"/>
</g>
<text x="357.8" y="125.65" text-anchor="middle" font-size="27.5" textLength="76" lengthAdjust="spacingAndGlyphs" transform="rotate(17.25 357.8 125.65)">Chr01</text>
<text x="429.93" y="161.1" text-anchor="middle" font-size="27.5" textLength="78" lengthAdjust="spacingAndGlyphs" transform="rotate(35.1 429.93 161.1)">Chr02</text>
<text x="495.72" y="228.17" text-anchor="middle" font-size="27.5" textLength="78" lengthAdjust="spacingAndGlyphs" transform="rotate(56 495.72 228.17)">Chr03</text>
<text x="530.28" y="302.7" text-anchor="middle" font-size="27.5" textLength="78" lengthAdjust="spacingAndGlyphs" transform="rotate(74.25 530.28 302.7)">Chr04</text>
<text x="539.13" y="394.22" text-anchor="middle" font-size="27.5" textLength="78" lengthAdjust="spacingAndGlyphs" transform="rotate(94.7 539.13 394.22)">Chr05</text>
<text x="527.55" y="495.93" text-anchor="middle" font-size="27.5" textLength="78" lengthAdjust="spacingAndGlyphs" transform="rotate(296.5 527.55 495.93)">Chr06</text>
<text x="473.93" y="569.67" text-anchor="middle" font-size="27.5" textLength="78" lengthAdjust="spacingAndGlyphs" transform="rotate(315.55 473.93 569.67)">Chr07</text>
<text x="405.43" y="618.8" text-anchor="middle" font-size="27.5" textLength="78" lengthAdjust="spacingAndGlyphs" transform="rotate(333.15 405.43 618.8)">Chr08</text>
<text x="321.01" y="645.58" text-anchor="middle" font-size="27.5" textLength="78" lengthAdjust="spacingAndGlyphs" transform="rotate(351.65 321.01 645.58)">Chr09</text>
<text x="219.49" y="641.55" text-anchor="middle" font-size="27.5" textLength="74" lengthAdjust="spacingAndGlyphs" transform="rotate(372.9 219.49 641.55)">Chr10</text>
<text x="121.41" y="597.57" text-anchor="middle" font-size="27.5" textLength="68" lengthAdjust="spacingAndGlyphs" transform="rotate(395.4 121.41 597.57)">Chr11</text>
<text x="53.82" y="528.85" text-anchor="middle" font-size="27.5" textLength="73" lengthAdjust="spacingAndGlyphs" transform="rotate(415.55 53.82 528.85)">Chr12</text>
<text x="15.28" y="437.78" text-anchor="middle" font-size="27.5" textLength="73" lengthAdjust="spacingAndGlyphs" transform="rotate(436.3 15.28 437.78)">Chr13</text>
<text x="7.35" y="341.1" text-anchor="middle" font-size="27.5" textLength="73" lengthAdjust="spacingAndGlyphs" transform="rotate(456.65 7.35 341.1)">Chr14</text>
<text x="57.04" y="242.91" text-anchor="middle" font-size="27.5" textLength="73" lengthAdjust="spacingAndGlyphs" transform="rotate(300.15 57.04 242.91)">Chr15</text>
<text x="130.68" y="161.47" text-anchor="middle" font-size="27.5" textLength="73" lengthAdjust="spacingAndGlyphs" transform="rotate(324.6 130.68 161.47)">Chr16</text>
<text x="211.03" y="121.55" text-anchor="middle" font-size="27.5" textLength="73" lengthAdjust="spacingAndGlyphs" transform="rotate(344.45 211.03 121.55)">Chr17</text>
<text x="281.6" y="132.8" text-anchor="middle" font-size="26">1</text>
<text x="281.6" y="156.8" text-anchor="middle" font-size="26">2</text>
<text x="281.6" y="183.2" text-anchor="middle" font-size="26">3</text>
<text x="281.6" y="213.6" text-anchor="middle" font-size="26">4</text>
<text x="281.6" y="243.2" text-anchor="middle" font-size="26">5</text>
<text x="590.9" y="535.9" textLength="219.2" lengthAdjust="spacingAndGlyphs">(1) Chromosomes</text>
<text x="590.9" y="578.1" textLength="205.3" lengthAdjust="spacingAndGlyphs">(2) Gene density</text>
<text x="590.9" y="621.4" textLength="252.2" lengthAdjust="spacingAndGlyphs">(3) Repeat elements</text>
<text x="590.9" y="684.7" textLength="168.4" lengthAdjust="spacingAndGlyphs">(4) TE density</text>
<text x="590.9" y="738" textLength="172.3" lengthAdjust="spacingAndGlyphs">(5) SV density</text>
<text x="619.7" y="647.4" textLength="90.6" lengthAdjust="spacingAndGlyphs">density</text>
<defs><linearGradient id="bg"><stop offset="0" stop-color="#99CCFF"/><stop offset="0.45" stop-color="#4466E0"/><stop offset="0.8" stop-color="#0000CC"/><stop offset="1" stop-color="#0000CC"/></linearGradient></defs>
<rect x="516.9" y="578.1" width="52" height="9" fill="url(#bg)"/>
<rect x="516.9" y="634.2" width="52" height="9" fill="url(#bg)"/>
<rect x="516.9" y="682.1" width="52" height="9" fill="url(#bg)"/>
<text x="510.5" y="572.1" font-size="22" textLength="12.8" lengthAdjust="spacingAndGlyphs">0</text>
<text x="548.7" y="572.1" font-size="22" textLength="25.1" lengthAdjust="spacingAndGlyphs">85</text>
<text x="501.3" y="628.6" font-size="22" textLength="32" lengthAdjust="spacingAndGlyphs">0.3</text>
<text x="547.2" y="628.6" font-size="22" textLength="27.7" lengthAdjust="spacingAndGlyphs">1.0</text>
<text x="501.3" y="676.6" font-size="22" textLength="32" lengthAdjust="spacingAndGlyphs">0.0</text>
<text x="547.2" y="676.6" font-size="22" textLength="27.7" lengthAdjust="spacingAndGlyphs">1.0</text>
<text x="508.4" y="722" font-size="22" textLength="55.8" lengthAdjust="spacingAndGlyphs">1,059</text>
<text x="551.4" y="749.1" font-size="22" textLength="12.8" lengthAdjust="spacingAndGlyphs">0</text>
<path d="M571.3 717.9H580.2V745H571.3" fill="none" stroke="#F44" stroke-width="1.4"/>
</g>
<g id="pc">
<text x="4" y="866" font-size="41.5" font-weight="bold" stroke="#000" stroke-width="0.8">c</text>
<path d="M21.7 1248.3C21.8 1242.8 22.2 1237.7 22.8 1232.3C23.5 1226.8 24.4 1221.1 25.8 1215.6C27.2 1210.2 29 1204.8 31.3 1199.6C33.5 1194.5 36.2 1189.5 39.2 1184.7C42.3 1180 45.7 1175.5 49.5 1171.3C53.2 1167.2 57.4 1163.3 61.8 1159.7C66.1 1156.2 71 1152.9 75.6 1150C80.3 1147.2 84.8 1144.8 89.8 1142.5C94.8 1140.3 100.3 1138.1 105.6 1136.3C111 1134.5 116.5 1133 122 1131.6C127.5 1130.2 133.1 1129.1 138.7 1128.1C144.3 1127.2 149.9 1126.3 155.6 1125.8C161.2 1125.2 166.9 1125 172.6 1125C178.3 1125 184.1 1125.3 189.6 1125.8C195.1 1126.3 200.2 1126.9 205.6 1127.8C211.1 1128.6 216.8 1129.7 222.4 1131C227.9 1132.2 233.4 1133.8 238.9 1135.3C244.4 1136.8 249.8 1138.4 255.4 1139.8C260.9 1141.1 266.5 1142.4 272.1 1143.2C277.7 1144 283.6 1145.2 289 1144.6C294.3 1143.9 300.2 1142.2 304.3 1139.2C308.3 1136.2 311 1131.4 313.5 1126.6C315.9 1121.9 317.3 1116 319 1110.6C320.8 1105.2 322.3 1099.6 324 1094.2C325.7 1088.8 327.3 1083.3 329.2 1078C331.1 1072.6 333.1 1067.3 335.3 1062.1C337.6 1056.8 340 1051.7 342.6 1046.6C345.1 1041.5 347.9 1036.3 350.8 1031.7C353.7 1027 356.5 1022.6 360.1 1018.5C363.7 1014.4 368 1010.3 372.6 1007.1C377.2 1004 382.3 1001.2 387.5 999.5C392.7 997.8 398.4 996.9 403.8 997C409.2 997.1 414.8 998.1 419.8 1000C424.8 1002 429.7 1005 433.8 1008.7C437.8 1012.3 441.3 1017.2 444.2 1021.8C447.1 1026.4 449.1 1031.2 451.1 1036.3C453.2 1041.4 455 1047 456.4 1052.5C457.9 1058 459.1 1063.6 459.9 1069.2C460.7 1074.8 461.2 1080.5 461.4 1086.2C461.7 1091.8 461.7 1097.5 461.5 1103.2C461.4 1108.9 460.9 1114.6 460.6 1120.3C460.4 1125.9 459.7 1131.8 459.9 1137.3C460.1 1142.8 460 1148.2 461.8 1153.1C463.7 1157.9 467 1163.2 471 1166.5C475.1 1169.8 481 1171.6 486.3 1172.9C491.7 1174.2 497.6 1174 503.3 1174.2C508.9 1174.3 514.7 1173.9 520.3 1174C526 1174 531.7 1174.2 537.4 1174.5C543.1 1174.8 548.9 1175.2 554.4 1175.8C559.9 1176.4 565 1177 570.4 1178C575.8 1178.9 581.6 1180 587.1 1181.4C592.6 1182.8 598.1 1184.3 603.4 1186.4C608.7 1188.5 614 1190.8 618.7 1193.7C623.5 1196.7 628.2 1200.2 631.9 1204.2C635.5 1208.2 638.7 1213.1 640.5 1218C642.3 1222.9 642.9 1228.7 642.6 1233.9C642.2 1239 640.7 1244 638.5 1248.8C636.3 1253.7 633.1 1258.8 629.5 1263.1C626 1267.4 621.6 1271.2 617.2 1274.7C612.8 1278.2 607.9 1281.3 603.1 1284.3C598.3 1287.3 593.2 1290 588.2 1292.6C583.2 1295.3 578.1 1297.9 572.9 1300.2C567.7 1302.5 562.2 1304.5 557 1306.3C551.8 1308.1 546.9 1309.5 541.5 1310.9C536.2 1312.3 530.5 1313.6 524.9 1314.8C519.4 1316 513.7 1316.9 508.2 1318.1C502.6 1319.2 497 1320.3 491.5 1321.8C486 1323.3 480.5 1324.9 475.3 1326.9C470 1329 464.7 1331.2 459.8 1334C454.9 1336.8 450 1340.1 445.8 1343.6C441.5 1347.1 437.9 1350.7 434.3 1354.9C430.8 1359.1 427.4 1363.9 424.5 1368.8C421.6 1373.6 419 1378.8 416.9 1384C414.8 1389.3 413.1 1394.8 411.7 1400.2C410.3 1405.7 409.4 1411.4 408.3 1417C407.2 1422.5 406.3 1428.2 405 1433.7C403.8 1439.3 402.4 1445 400.8 1450.3C399.3 1455.6 397.7 1460.4 395.6 1465.5C393.5 1470.6 391.2 1476 388.2 1480.8C385.3 1485.6 382.1 1490.8 378 1494.3C373.9 1497.8 368.5 1501.3 363.7 1501.6C358.9 1502 353.1 1499.4 349 1496.4C344.8 1493.3 341.6 1487.9 338.6 1483.1C335.6 1478.4 333.6 1472.8 331 1467.9C328.5 1463 327 1457.6 323.6 1453.7C320.2 1449.8 315.5 1445.5 310.7 1444.4C305.9 1443.3 299.9 1445.2 294.9 1447.2C289.9 1449.2 285.5 1453.4 280.7 1456.4C275.9 1459.5 271.2 1463.4 266.2 1465.3C261.1 1467.2 254.9 1469 250.2 1467.9C245.5 1466.7 240.6 1462.5 238 1458.4C235.4 1454.2 235 1448.5 234.6 1443.2C234.2 1437.8 235.5 1431.8 235.8 1426.2C236.1 1420.5 237.3 1414.6 236.5 1409.2C235.7 1403.9 234.2 1397.9 230.9 1394C227.6 1390.2 221.9 1387.8 216.8 1386.2C211.6 1384.7 205.5 1385 199.9 1384.6C194.2 1384.2 188.3 1384.2 182.8 1383.9C177.3 1383.5 172.3 1383.1 166.8 1382.5C161.3 1381.9 155.4 1381.2 149.9 1380.2C144.3 1379.2 138.7 1378 133.2 1376.5C127.7 1375.1 122.3 1373.4 116.9 1371.5C111.5 1369.7 106.1 1367.8 100.9 1365.6C95.7 1363.4 90.5 1361.1 85.5 1358.4C80.6 1355.7 75.6 1352.6 71.1 1349.5C66.6 1346.3 62.6 1343.2 58.6 1339.4C54.6 1335.7 50.5 1331.5 47 1327.2C43.4 1322.8 40.1 1318.2 37.3 1313.3C34.4 1308.5 31.9 1303.4 29.9 1298.2C27.8 1292.9 26.2 1287.5 24.9 1282C23.6 1276.5 22.8 1270.9 22.2 1265.3C21.7 1259.7 21.6 1253.8 21.7 1248.3Z" fill="#0000FF" fill-opacity="0.3"/>
<path d="M426.8 1614.3C421.4 1615.4 416.4 1616.3 410.9 1616.8C405.5 1617.3 399.6 1617.8 394 1617.6C388.4 1617.4 382.7 1616.9 377.2 1615.8C371.7 1614.8 366.2 1613.3 360.9 1611.4C355.7 1609.5 350.5 1607.1 345.6 1604.4C340.7 1601.6 336 1598.4 331.5 1595C327.1 1591.5 322.8 1587.5 319 1583.6C315.1 1579.7 311.9 1575.8 308.5 1571.5C305.2 1567.1 301.9 1562.3 298.9 1557.4C296 1552.6 293.3 1547.6 290.7 1542.5C288.2 1537.5 285.8 1532.3 283.6 1527C281.4 1521.8 279.3 1516.5 277.5 1511.1C275.8 1505.7 274.2 1500.2 273 1494.7C271.7 1489.1 270.8 1483.3 270 1477.9C269.2 1472.4 268.7 1467.4 268.4 1461.8C268 1456.3 267.7 1450.5 267.7 1444.8C267.7 1439.1 268.1 1433.4 268.3 1427.7C268.5 1422.1 268.9 1416.4 269 1410.7C269 1405 269.1 1399.3 268.6 1393.6C268.2 1388 268 1381.9 266.2 1376.8C264.3 1371.8 261.4 1366.5 257.6 1363.1C253.8 1359.8 248.5 1358.3 243.3 1357C238 1355.6 232 1355.6 226.3 1355.1C220.7 1354.6 215 1354.4 209.3 1354C203.6 1353.5 197.9 1353.1 192.3 1352.5C186.7 1351.8 181 1351 175.4 1350C169.8 1349 164.2 1347.8 158.7 1346.4C153.2 1345 147.5 1343.5 142.3 1341.7C137.1 1339.9 132.3 1338.2 127.5 1335.6C122.7 1332.9 117.7 1329.7 113.6 1325.9C109.5 1322.2 105.7 1317.8 102.9 1313.1C100.1 1308.4 97.9 1303 96.7 1297.8C95.6 1292.5 95.4 1286.8 96.1 1281.4C96.9 1276.1 98.8 1270.7 101.5 1265.9C104.1 1261.2 108.1 1256.7 111.9 1252.8C115.8 1249 120 1246 124.5 1242.9C129.1 1239.7 134.1 1236.7 139.2 1234.1C144.2 1231.5 149.4 1229.1 154.6 1227C159.9 1224.9 165.4 1223.3 170.9 1221.7C176.3 1220.2 181.9 1219 187.5 1217.8C193 1216.7 198.7 1215.9 204.3 1214.9C209.9 1213.9 215.8 1213.2 221.1 1211.8C226.4 1210.4 231.7 1209.3 236 1206.4C240.3 1203.5 244.8 1199.2 247.1 1194.5C249.4 1189.8 249.8 1183.7 249.9 1178.1C249.9 1172.6 248.4 1166.9 247.3 1161.3C246.3 1155.8 244.6 1150.3 243.4 1144.7C242.2 1139.2 241 1133.6 240 1128C239.1 1122.4 238.2 1116.6 237.6 1111.1C236.9 1105.6 236.4 1100.6 236.1 1095.1C235.8 1089.5 235.6 1083.7 235.8 1078C235.9 1072.3 236.2 1066.6 237 1061C237.8 1055.4 238.9 1049.7 240.7 1044.4C242.6 1039.1 244.9 1033.7 248 1029.3C251.2 1024.9 255.1 1020.7 259.6 1017.8C264 1015 269.5 1013.1 274.6 1012.3C279.6 1011.4 284.8 1011.9 290.1 1012.9C295.3 1013.9 300.9 1016 305.9 1018.5C310.9 1021 315.6 1024.4 320 1027.9C324.4 1031.4 328.5 1035.5 332.5 1039.5C336.5 1043.6 340.3 1047.9 344 1052.2C347.7 1056.5 351.4 1060.8 354.7 1065.4C358.1 1070 361.3 1074.9 364.2 1079.6C367.1 1084.3 369.6 1088.7 372.1 1093.6C374.7 1098.5 377.2 1103.8 379.6 1109C382 1114.1 384.2 1119.4 386.6 1124.5C388.9 1129.7 391.2 1134.9 393.9 1140C396.5 1145 399.3 1150 402.5 1154.7C405.7 1159.4 409.1 1164 412.9 1168.2C416.7 1172.4 421 1176.3 425.4 1179.7C429.7 1183.1 434 1185.8 438.9 1188.4C443.8 1190.9 449.3 1193.1 454.6 1194.8C460 1196.6 465.6 1198 471.2 1198.9C476.8 1199.8 482.5 1200.1 488.1 1200.3C493.8 1200.5 499.5 1200 505.2 1199.9C510.9 1199.7 516.6 1199.4 522.3 1199.4C527.9 1199.3 533.8 1199.4 539.3 1199.8C544.8 1200.1 549.9 1200.6 555.3 1201.5C560.8 1202.4 566.6 1203.5 571.9 1205.3C577.3 1207 583 1209 587.3 1212.2C591.6 1215.4 596.3 1219.9 597.7 1224.5C599.1 1229.2 597.9 1235.3 595.8 1240.1C593.7 1244.9 589.2 1249.2 585.2 1253.1C581.2 1257.1 576.2 1260.4 572 1263.9C567.8 1267.4 562.9 1270.2 559.9 1274.3C556.8 1278.5 553.7 1284 553.7 1288.9C553.7 1293.8 556.8 1299.3 559.9 1303.8C563 1308.2 568.1 1311.6 572.1 1315.6C576.1 1319.6 580.9 1323.2 583.9 1327.7C586.9 1332.2 590.1 1337.9 590 1342.7C590 1347.5 586.9 1353.2 583.4 1356.7C580 1360.2 574.5 1361.9 569.4 1363.4C564.2 1365 558.2 1365.1 552.6 1366C547 1367 540.9 1367.1 535.9 1369.1C530.8 1371.1 525.3 1373.9 522.3 1378C519.3 1382 518.2 1388.1 517.9 1393.5C517.5 1398.9 519.2 1404.7 520 1410.3C520.9 1415.9 522.2 1421.6 523.1 1427.1C524 1432.6 524.7 1437.6 525.4 1443.1C526 1448.5 526.6 1454.4 526.9 1460.1C527.1 1465.7 527.2 1471.4 527 1477.1C526.8 1482.8 526.3 1488.5 525.8 1494.1C525.2 1499.8 524.5 1505.4 523.5 1511C522.6 1516.6 521.4 1522.2 519.9 1527.6C518.4 1533.1 516.5 1538.6 514.4 1543.7C512.3 1548.8 510.2 1553.3 507.4 1558.1C504.7 1562.8 501.5 1567.7 498.1 1572.2C494.6 1576.6 490.8 1580.9 486.7 1584.7C482.7 1588.6 478.2 1592.1 473.6 1595.3C468.9 1598.5 464 1601.3 458.9 1603.7C453.9 1606.2 448.6 1608.3 443.2 1610C437.9 1611.8 432.2 1613.2 426.8 1614.3Z" fill="#00FF00" fill-opacity="0.3"/>
<path d="M672.9 1444.5C670.4 1449.4 667.9 1453.8 664.9 1458.4C661.9 1463.1 658.6 1467.9 655 1472.2C651.4 1476.5 647.4 1480.5 643.2 1484.2C638.9 1487.9 634.3 1491.2 629.5 1494.2C624.8 1497.1 619.7 1499.7 614.5 1501.8C609.3 1503.9 603.8 1505.6 598.4 1506.9C592.9 1508.2 587.1 1509.1 581.7 1509.6C576.2 1510.2 571.1 1510.3 565.6 1510.2C560.1 1510.1 554.3 1509.7 548.7 1509C543.1 1508.3 537.5 1507.3 531.9 1506.1C526.4 1505 520.8 1503.6 515.4 1502C509.9 1500.5 504.4 1498.8 499.1 1496.8C493.8 1494.8 488.6 1492.6 483.4 1490.1C478.3 1487.7 473.2 1484.8 468.5 1482C463.7 1479.2 459.4 1476.4 454.9 1473.3C450.3 1470.1 445.6 1466.7 441.2 1463.1C436.7 1459.6 432.5 1455.8 428.2 1452.1C423.9 1448.4 419.7 1444.5 415.3 1440.9C410.9 1437.3 406.4 1433.7 401.7 1430.5C397 1427.4 392.2 1423.7 387.1 1422C382 1420.3 376 1419.2 371 1420.2C366 1421.1 361.5 1424.3 357.2 1427.5C352.9 1430.8 349.2 1435.5 345.3 1439.6C341.3 1443.7 337.6 1448 333.7 1452.2C329.8 1456.3 326 1460.6 322 1464.6C317.9 1468.6 313.8 1472.5 309.5 1476.2C305.2 1480 300.8 1483.6 296.3 1487C291.8 1490.5 287 1493.9 282.4 1496.9C277.7 1499.8 273.4 1502.6 268.3 1504.7C263.3 1506.8 257.6 1508.7 252.1 1509.5C246.6 1510.4 240.8 1510.7 235.4 1509.9C230 1509.2 224.4 1507.6 219.6 1505.2C214.8 1502.7 210.1 1499.4 206.5 1495.4C202.8 1491.5 199.8 1486.6 197.7 1481.6C195.6 1476.6 194.6 1470.7 194 1465.3C193.4 1459.9 193.6 1454.7 194 1449.2C194.4 1443.7 195.2 1437.9 196.3 1432.3C197.3 1426.7 198.7 1421.2 200.4 1415.8C202.1 1410.4 204.2 1405 206.4 1399.8C208.6 1394.6 211.1 1389.5 213.7 1384.4C216.3 1379.3 219.2 1374.4 221.9 1369.4C224.6 1364.4 227.7 1359.4 229.9 1354.4C232.1 1349.4 234.6 1344.5 235 1339.3C235.5 1334.1 234.8 1328 232.6 1323.2C230.3 1318.5 225.8 1314.3 221.6 1310.8C217.3 1307.4 211.9 1305 206.8 1302.4C201.8 1299.7 196.5 1297.6 191.4 1295.1C186.3 1292.6 181.2 1290 176.2 1287.3C171.2 1284.5 166.2 1281.6 161.5 1278.7C156.8 1275.8 152.5 1273 148 1269.8C143.5 1266.6 138.8 1263.1 134.5 1259.4C130.1 1255.8 125.8 1252 121.9 1247.9C118.1 1243.7 114.3 1239.3 111.3 1234.6C108.3 1229.9 105.5 1224.7 104 1219.5C102.5 1214.3 101.7 1208.6 102.3 1203.3C102.8 1198.1 104.7 1192.6 107.3 1188.1C109.8 1183.6 113.4 1179.9 117.4 1176.4C121.5 1173 126.6 1169.8 131.7 1167.5C136.7 1165.1 142.3 1163.6 147.8 1162.3C153.3 1161.1 159 1160.4 164.7 1159.8C170.3 1159.2 176 1159 181.7 1158.7C187.4 1158.5 193.1 1158.4 198.8 1158.6C204.5 1158.8 210.3 1159.3 215.8 1160C221.3 1160.7 226.3 1161.5 231.7 1162.6C237.1 1163.6 242.8 1165 248.4 1166.3C253.9 1167.6 259.4 1169.2 264.9 1170.6C270.4 1171.9 275.9 1173.4 281.5 1174.4C287.1 1175.5 292.7 1176.4 298.4 1176.9C304 1177.3 309.8 1177.6 315.4 1177.2C321 1176.8 326.9 1175.9 332.2 1174.6C337.5 1173.3 342.4 1171.7 347.4 1169.4C352.4 1167.2 357.6 1164.3 362.3 1161.2C367 1158.1 371.5 1154.6 375.7 1150.8C379.9 1147 383.8 1142.7 387.4 1138.4C391.1 1134.1 394.3 1129.3 397.8 1124.8C401.2 1120.2 404.4 1115.6 408 1111.1C411.5 1106.7 415.2 1102.1 418.9 1098C422.6 1094 426.2 1090.3 430.3 1086.6C434.4 1082.9 438.8 1079 443.6 1076C448.3 1072.9 453.4 1069.6 458.6 1068.3C463.8 1066.9 470.2 1066.1 474.7 1067.9C479.2 1069.7 483.2 1074.4 485.7 1079C488.1 1083.6 488.6 1089.9 489.3 1095.4C489.9 1101 489.3 1107 489.5 1112.5C489.6 1118 488.7 1123.5 490 1128.4C491.4 1133.4 493.8 1139.4 497.6 1142.4C501.4 1145.5 507.7 1146.4 513.1 1146.8C518.4 1147.2 524.3 1145.3 529.9 1144.6C535.5 1144 541.4 1142.5 546.8 1142.9C552.2 1143.4 558.6 1144.4 562.3 1147.5C566 1150.6 568.6 1156.5 569.1 1161.4C569.7 1166.2 567.6 1171.6 565.6 1176.6C563.6 1181.6 559.9 1186.4 557.2 1191.3C554.5 1196.3 550.8 1201.1 549.2 1206.3C547.6 1211.5 546.4 1217.6 547.7 1222.4C549 1227.3 553 1231.9 557 1235.6C561 1239.2 566.6 1241.6 571.5 1244.4C576.4 1247.2 581.7 1249.7 586.6 1252.5C591.4 1255.2 595.8 1257.7 600.4 1260.6C605.1 1263.6 610.1 1266.7 614.7 1270.1C619.3 1273.4 623.8 1276.9 628.1 1280.6C632.4 1284.3 636.6 1288.2 640.6 1292.2C644.7 1296.1 648.7 1300.2 652.4 1304.4C656.2 1308.7 659.8 1313.1 663.1 1317.6C666.5 1322.2 669.6 1327.1 672.3 1331.9C675 1336.7 677.2 1341.3 679.2 1346.4C681.2 1351.5 683.1 1357 684.4 1362.5C685.7 1367.9 686.6 1373.6 687.1 1379.2C687.6 1384.7 687.6 1390.4 687.2 1396C686.8 1401.6 685.9 1407.3 684.7 1412.8C683.4 1418.3 681.7 1423.7 679.8 1429C677.8 1434.3 675.3 1439.6 672.9 1444.5Z" fill="#7FFF00" fill-opacity="0.3"/>
<path d="M130.9 1527.3C126.7 1523.8 122.9 1520.4 119.1 1516.5C115.2 1512.6 111.3 1508.2 107.9 1503.8C104.5 1499.3 101.4 1494.5 98.8 1489.5C96.2 1484.6 93.9 1479.4 92.1 1474C90.3 1468.7 88.9 1463.2 88 1457.7C87.1 1452.1 86.7 1446.4 86.6 1440.8C86.6 1435.2 87 1429.4 87.7 1423.9C88.3 1418.5 89.3 1413.5 90.7 1408.2C92 1402.8 93.7 1397.3 95.6 1391.9C97.6 1386.6 99.8 1381.4 102.2 1376.2C104.5 1371 107.1 1366 109.9 1361C112.6 1356 115.4 1351.1 118.5 1346.3C121.6 1341.6 125 1336.9 128.5 1332.5C132.1 1328.1 136 1323.7 139.8 1319.7C143.6 1315.7 147.2 1312.1 151.3 1308.4C155.4 1304.7 159.8 1300.8 164.3 1297.3C168.7 1293.7 173.4 1290.5 177.9 1287.1C182.5 1283.7 187.2 1280.5 191.7 1277C196.2 1273.5 200.7 1270 204.8 1266.1C208.9 1262.2 213.6 1258.3 216.4 1253.7C219.2 1249.1 221.6 1243.5 221.8 1238.4C222 1233.4 219.9 1228.3 217.7 1223.4C215.5 1218.5 211.7 1213.8 208.6 1209C205.4 1204.3 202 1199.7 198.9 1195C195.7 1190.3 192.4 1185.6 189.4 1180.8C186.4 1175.9 183.5 1171 180.8 1166C178.1 1161 175.6 1155.9 173.2 1150.7C170.9 1145.6 168.5 1140.2 166.7 1135C164.9 1129.8 163.1 1124.9 162.2 1119.5C161.3 1114.2 160.7 1108.2 161.1 1102.7C161.5 1097.1 162.5 1091.4 164.4 1086.3C166.4 1081.2 169.2 1076.1 172.6 1071.9C176 1067.8 180.3 1064 185 1061.3C189.6 1058.6 195.1 1056.7 200.4 1055.8C205.8 1054.9 211.8 1055.2 217.2 1055.8C222.6 1056.4 227.6 1057.8 232.8 1059.4C238.1 1061 243.6 1063.1 248.8 1065.4C254 1067.7 259.1 1070.2 264 1073.1C268.9 1075.9 273.7 1079.1 278.3 1082.5C282.9 1085.8 287.3 1089.4 291.7 1093C296 1096.7 300.1 1100.6 304.4 1104.4C308.7 1108.1 312.9 1112.3 317.3 1115.6C321.7 1118.8 325.9 1122.3 330.8 1123.9C335.8 1125.5 342 1126.2 347.1 1125.1C352.2 1123.9 357.3 1120.5 361.6 1117.1C366 1113.7 369.5 1108.9 373.2 1104.6C376.8 1100.3 380.1 1095.6 383.7 1091.2C387.3 1086.8 390.9 1082.4 394.7 1078.1C398.4 1073.9 402.4 1069.6 406.3 1065.7C410.2 1061.7 413.9 1058.2 418 1054.5C422.1 1050.8 426.6 1047 431.1 1043.6C435.6 1040.2 440.3 1036.8 445.2 1034C450.1 1031.1 455.2 1028.4 460.5 1026.6C465.7 1024.7 471.4 1023.1 476.8 1022.8C482.2 1022.5 488 1023 493 1024.7C498 1026.4 502.9 1029.5 506.7 1033C510.5 1036.4 513.4 1040.7 515.8 1045.5C518.3 1050.2 520.2 1055.9 521.4 1061.3C522.6 1066.8 522.8 1072.6 522.8 1078.3C522.8 1083.9 522.1 1089.6 521.5 1095.2C520.8 1100.9 519.8 1106.5 518.8 1112.1C517.7 1117.7 516.6 1123.3 515.1 1128.8C513.7 1134.3 511.8 1139.8 510 1145C508.1 1150.2 506.1 1154.9 503.9 1160C501.7 1165 499.1 1170.3 496.6 1175.4C494.1 1180.5 491.3 1185.4 488.7 1190.5C486.2 1195.6 483.5 1200.7 481.2 1205.9C479 1211.1 476.8 1216.4 475.1 1221.8C473.4 1227.2 471.9 1232.7 471 1238.3C470.1 1243.9 469.7 1249.8 469.8 1255.3C469.9 1260.7 470.4 1265.8 471.5 1271.2C472.5 1276.6 474.2 1282.3 476.2 1287.6C478.2 1292.9 480.6 1298.1 483.4 1303C486.1 1307.9 489.4 1312.6 492.8 1317.2C496.2 1321.7 500.1 1325.9 503.8 1330.3C507.5 1334.6 511.3 1338.8 514.8 1343.3C518.4 1347.7 522 1352.3 525.2 1356.9C528.3 1361.4 531.1 1365.6 533.8 1370.4C536.5 1375.3 539.3 1380.5 541.2 1385.8C543.1 1391.1 545.2 1396.8 545.4 1402.1C545.5 1407.5 544.9 1413.9 542.2 1417.9C539.4 1421.9 533.9 1424.8 528.9 1426.2C523.8 1427.5 517.6 1426.6 512 1426C506.5 1425.4 500.8 1423.5 495.4 1422.4C490 1421.3 484.9 1419.2 479.7 1419.4C474.5 1419.6 468.2 1420.6 464.4 1423.7C460.6 1426.7 458.2 1432.6 456.7 1437.8C455.1 1442.9 455.7 1449 455.1 1454.7C454.4 1460.3 454.6 1466.4 452.9 1471.5C451.3 1476.7 448.9 1482.7 445 1485.6C441.2 1488.6 434.8 1489.7 430 1489.2C425.1 1488.7 420.4 1485.5 415.9 1482.4C411.5 1479.4 407.6 1474.7 403.4 1470.9C399.2 1467.1 395.3 1462.5 390.6 1459.8C385.9 1457.1 380.3 1454.5 375.2 1454.7C370.2 1454.9 364.8 1457.8 360.3 1460.9C355.9 1463.9 352.4 1468.9 348.5 1473.1C344.7 1477.2 341 1481.8 337.3 1485.9C333.6 1490 330.2 1493.7 326.2 1497.6C322.3 1501.6 318.2 1505.7 313.9 1509.4C309.6 1513.2 305.2 1516.7 300.6 1520.1C296.1 1523.5 291.3 1526.7 286.6 1529.8C281.8 1532.9 276.9 1535.9 272 1538.6C267 1541.3 261.9 1543.9 256.7 1546.1C251.5 1548.3 246 1550.3 240.8 1551.8C235.5 1553.4 230.6 1554.5 225.1 1555.3C219.7 1556.2 213.9 1556.7 208.3 1556.8C202.7 1556.9 197 1556.5 191.4 1555.8C185.9 1555 180.3 1553.7 174.9 1552.1C169.6 1550.4 164.3 1548.3 159.2 1545.9C154.1 1543.5 149.2 1540.6 144.5 1537.5C139.8 1534.4 135.1 1530.8 130.9 1527.3Z" fill="#008080" fill-opacity="0.3"/>
<path d="M695.5 1136.8C697.7 1141.8 699.7 1146.5 701.4 1151.7C703.2 1156.9 704.9 1162.5 706 1168C707 1173.5 707.8 1179.1 708 1184.7C708.2 1190.3 708 1196 707.3 1201.6C706.6 1207.2 705.4 1212.7 703.8 1218.1C702.3 1223.5 700.2 1228.8 697.8 1233.9C695.4 1239 692.5 1244.1 689.5 1248.7C686.6 1253.3 683.5 1257.4 680 1261.6C676.5 1265.8 672.5 1270.1 668.5 1274C664.4 1278 660.1 1281.8 655.8 1285.4C651.4 1289 646.9 1292.4 642.2 1295.8C637.6 1299.1 632.9 1302.3 628.1 1305.2C623.2 1308.2 618.2 1310.9 613 1313.3C607.9 1315.8 602.5 1318 597.3 1320C592.2 1321.9 587.4 1323.5 582.1 1325.1C576.8 1326.7 571.1 1328.3 565.6 1329.5C560 1330.8 554.4 1331.7 548.8 1332.8C543.2 1333.8 537.6 1334.7 532 1335.9C526.5 1337.1 520.9 1338.3 515.5 1340C510.1 1341.7 504.2 1343.2 499.7 1346.2C495.1 1349.1 490.6 1353.1 488.2 1357.6C485.9 1362.1 485.5 1367.6 485.4 1373C485.3 1378.3 486.6 1384.2 487.4 1389.8C488.1 1395.5 489.2 1401.1 490 1406.7C490.9 1412.3 491.8 1418 492.4 1423.6C493 1429.3 493.5 1435 493.7 1440.6C494 1446.3 494.1 1452 493.9 1457.7C493.8 1463.4 493.6 1469.2 493 1474.7C492.4 1480.2 491.8 1485.3 490.3 1490.6C488.8 1495.8 486.7 1501.4 484 1506.3C481.2 1511.1 477.8 1515.8 473.9 1519.6C469.9 1523.4 465.2 1526.7 460.3 1529C455.4 1531.2 449.9 1532.8 444.5 1533.2C439.2 1533.6 433.4 1532.9 428.2 1531.4C423 1529.9 417.7 1527 413.1 1524.1C408.5 1521.2 404.6 1517.8 400.6 1514.1C396.5 1510.4 392.5 1506.1 388.8 1501.8C385.1 1497.5 381.6 1493 378.4 1488.3C375.2 1483.6 372.4 1478.6 369.7 1473.6C367 1468.6 364.5 1463.5 362.2 1458.3C359.8 1453.1 357.8 1447.8 355.6 1442.5C353.4 1437.3 351.4 1431.7 348.8 1426.9C346.3 1422 344 1417.1 340.2 1413.5C336.5 1409.9 331.2 1406.6 326.1 1405.4C321 1404.2 315 1405.1 309.6 1406.3C304.2 1407.5 299 1410.2 293.8 1412.5C288.6 1414.8 283.6 1417.6 278.5 1420C273.3 1422.5 268.1 1424.8 262.9 1427C257.6 1429.2 252.2 1431.3 247 1433.2C241.8 1435.1 237 1436.7 231.6 1438.2C226.3 1439.7 220.7 1441.2 215.1 1442.3C209.5 1443.4 203.9 1444.5 198.2 1444.9C192.6 1445.3 186.8 1445.6 181.3 1445C175.7 1444.3 169.9 1443.3 164.9 1441.2C159.9 1439.1 154.9 1436.2 151.1 1432.5C147.4 1428.8 144.3 1423.9 142.4 1419.1C140.4 1414.4 139.7 1409.2 139.6 1403.9C139.4 1398.6 140.1 1392.6 141.4 1387.2C142.8 1381.7 145.1 1376.4 147.5 1371.3C150 1366.2 153 1361.4 156.1 1356.6C159.1 1351.8 162.5 1347.2 165.8 1342.6C169.2 1338 172.6 1333.4 176.3 1329.1C180 1324.8 184.1 1320.6 188 1316.7C192 1312.9 195.8 1309.5 200 1305.9C204.2 1302.3 208.8 1298.7 213.3 1295.2C217.8 1291.7 222.4 1288.4 226.9 1284.9C231.4 1281.5 236 1278.1 240.3 1274.4C244.6 1270.7 248.9 1266.8 252.7 1262.7C256.6 1258.6 260.4 1254.2 263.6 1249.6C266.8 1245 269.8 1239.8 272.1 1234.8C274.4 1229.9 276.1 1225 277.5 1219.7C278.9 1214.4 279.8 1208.6 280.3 1202.9C280.8 1197.3 280.9 1191.6 280.6 1185.9C280.2 1180.3 279.3 1174.6 278.2 1169.1C277.1 1163.5 275.4 1158 274 1152.5C272.6 1147 271 1141.5 269.7 1136C268.4 1130.5 267.2 1124.7 266.3 1119.3C265.4 1113.8 264.7 1108.8 264.4 1103.3C264.1 1097.8 263.8 1091.9 264.4 1086.3C264.9 1080.7 265.5 1074.6 267.7 1069.7C269.9 1064.8 273.2 1059.3 277.4 1056.9C281.7 1054.5 287.9 1054.3 293 1055.2C298.1 1056.2 303.3 1059.7 308.1 1062.7C312.8 1065.7 317.1 1069.8 321.5 1073.1C325.9 1076.5 329.6 1080.6 334.4 1082.6C339.1 1084.7 345.2 1086.5 350 1085.4C354.8 1084.3 359.4 1080.1 363.1 1076.1C366.7 1072.1 368.9 1066.4 371.9 1061.6C374.9 1056.8 377.4 1051.2 381.1 1047.3C384.8 1043.4 389.6 1039 394.3 1038C399 1037 405.3 1038.8 409.5 1041.3C413.6 1043.9 416.5 1048.9 419.1 1053.6C421.8 1058.2 423.3 1064.1 425.4 1069.4C427.6 1074.6 429.1 1080.5 432.2 1084.9C435.2 1089.4 439.2 1094.2 443.8 1096.2C448.4 1098.2 454.5 1097.9 459.9 1097.1C465.2 1096.3 470.5 1093.3 475.8 1091.2C481.1 1089.1 486.4 1086.6 491.5 1084.5C496.6 1082.4 501.3 1080.6 506.6 1078.7C511.8 1076.9 517.3 1075 522.8 1073.5C528.3 1072 533.8 1070.7 539.4 1069.6C545 1068.5 550.6 1067.7 556.3 1067C561.9 1066.3 567.6 1065.7 573.2 1065.4C578.9 1065.1 584.6 1065 590.2 1065.3C595.9 1065.5 601.7 1066.1 607.1 1067C612.5 1067.9 617.5 1069 622.7 1070.6C627.9 1072.2 633.4 1074.2 638.5 1076.6C643.6 1079 648.6 1081.8 653.3 1084.9C657.9 1088 662.4 1091.5 666.5 1095.4C670.6 1099.2 674.5 1103.4 678 1107.8C681.5 1112.2 684.7 1116.9 687.6 1121.7C690.5 1126.5 693.2 1131.8 695.5 1136.8Z" fill="#FFFF00" fill-opacity="0.3"/>
<path d="M469.7 937.6C475 938.9 479.9 940.3 485 942.2C490.2 944.1 495.6 946.3 500.6 948.8C505.6 951.4 510.5 954.4 515 957.7C519.5 961 523.8 964.8 527.8 968.8C531.7 972.8 535.3 977.2 538.5 981.8C541.8 986.4 544.6 991.3 547.1 996.3C549.6 1001.4 551.7 1006.8 553.5 1012C555.2 1017.2 556.5 1022.1 557.6 1027.5C558.7 1032.9 559.6 1038.7 560.2 1044.3C560.8 1049.9 561 1055.6 561.1 1061.3C561.2 1067 561.1 1072.6 560.8 1078.3C560.5 1084 560.1 1089.7 559.4 1095.3C558.6 1100.9 557.6 1106.6 556.3 1112.1C555.1 1117.6 553.4 1123.3 551.7 1128.5C550 1133.8 548.3 1138.6 546.3 1143.7C544.2 1148.8 541.9 1154.2 539.4 1159.3C537 1164.4 534.2 1169.4 531.5 1174.4C528.9 1179.5 526 1184.4 523.5 1189.5C521 1194.6 518.4 1199.7 516.4 1205C514.4 1210.3 511.9 1215.8 511.3 1221.2C510.8 1226.6 511.1 1232.6 513.1 1237.3C515.1 1241.9 519.3 1245.6 523.4 1249.1C527.5 1252.5 532.9 1255.2 537.8 1258.1C542.7 1261 547.7 1263.7 552.6 1266.5C557.6 1269.4 562.5 1272.2 567.3 1275.2C572.1 1278.3 576.9 1281.4 581.5 1284.8C586.1 1288.1 590.6 1291.6 594.9 1295.2C599.3 1298.9 603.8 1302.7 607.7 1306.6C611.6 1310.5 615.2 1314.1 618.4 1318.6C621.6 1323 624.7 1328.1 626.7 1333.3C628.8 1338.5 630.3 1344.1 630.8 1349.5C631.3 1355 631 1360.7 629.7 1366C628.4 1371.2 626.2 1376.5 623.1 1380.9C620.1 1385.4 616.1 1389.4 611.6 1392.6C607.2 1395.8 601.6 1398.1 596.5 1399.9C591.4 1401.7 586.3 1402.5 580.8 1403.4C575.4 1404.2 569.5 1404.7 563.9 1404.9C558.2 1405.1 552.5 1405 546.8 1404.6C541.2 1404.2 535.5 1403.3 529.9 1402.3C524.3 1401.3 518.8 1400 513.3 1398.6C507.8 1397.2 502.3 1395.5 496.8 1394C491.4 1392.4 485.8 1390.5 480.4 1389.5C475 1388.4 469.7 1387.1 464.6 1387.8C459.4 1388.6 453.6 1390.6 449.4 1393.8C445.3 1397.1 442.2 1402.4 439.8 1407.3C437.4 1412.3 436.2 1418.1 434.8 1423.5C433.4 1429 432.5 1434.7 431.2 1440.2C429.9 1445.8 428.5 1451.3 426.9 1456.8C425.4 1462.2 423.6 1467.8 421.8 1473C420 1478.3 418.3 1483 416.2 1488.1C414 1493.2 411.7 1498.6 409.1 1503.7C406.5 1508.7 403.8 1513.8 400.6 1518.4C397.4 1523.1 394 1527.8 390 1531.8C386.1 1535.7 381.7 1539.6 376.9 1542.2C372.2 1544.8 366.8 1546.9 361.5 1547.5C356.3 1548.2 350.5 1547.5 345.6 1546.1C340.7 1544.6 336.2 1541.9 331.9 1538.8C327.7 1535.6 323.4 1531.3 320 1526.9C316.6 1522.4 313.9 1517.3 311.4 1512.2C309 1507.1 307.1 1501.7 305.3 1496.3C303.4 1491 301.9 1485.5 300.4 1480C298.9 1474.5 297.5 1469 296.4 1463.4C295.4 1457.8 294.6 1452 294 1446.5C293.5 1441 293.2 1436 293 1430.4C292.8 1424.9 292.8 1419 292.9 1413.4C293 1407.7 293.3 1402 293.4 1396.3C293.5 1390.6 293.7 1384.9 293.5 1379.2C293.3 1373.5 292.9 1367.8 292.1 1362.2C291.3 1356.6 290.3 1351 288.6 1345.6C287 1340.1 284.8 1334.7 282.4 1329.8C279.9 1324.8 277.2 1320.5 273.9 1316.1C270.6 1311.7 266.7 1307.3 262.6 1303.4C258.5 1299.5 254.1 1295.9 249.4 1292.6C244.8 1289.4 239.8 1286.6 234.8 1284C229.7 1281.4 224.4 1279.3 219.2 1276.9C214 1274.6 208.7 1272.5 203.6 1270C198.5 1267.6 193.2 1265 188.4 1262.2C183.6 1259.5 179.2 1256.9 174.7 1253.7C170.2 1250.6 165.4 1247.1 161.4 1243.1C157.4 1239.2 153 1235 150.6 1230.2C148.1 1225.4 145.8 1219.4 146.6 1214.6C147.3 1209.8 151.1 1204.8 155 1201.4C159 1198 164.9 1196.1 170.2 1194.3C175.5 1192.4 181.5 1191.6 186.8 1190.3C192.1 1188.9 197.7 1188.6 202.2 1186.1C206.8 1183.7 212 1180.1 214.2 1175.7C216.3 1171.2 215.8 1165 215 1159.6C214.2 1154.3 211 1149 209.1 1143.7C207.3 1138.4 204.5 1133 203.8 1127.6C203 1122.2 202.6 1115.8 204.7 1111.5C206.9 1107.2 212.2 1103.3 216.8 1101.7C221.4 1100.1 227 1100.9 232.3 1101.7C237.7 1102.6 243.2 1105.1 248.6 1106.7C254.1 1108.2 259.6 1110.7 265 1111.1C270.4 1111.5 276.6 1111.4 281 1109.1C285.5 1106.7 289.1 1101.7 291.8 1097C294.5 1092.3 295.5 1086.3 297.1 1080.9C298.8 1075.5 300.1 1069.8 301.7 1064.5C303.2 1059.2 304.7 1054.3 306.5 1049.1C308.4 1043.9 310.3 1038.4 312.6 1033.1C314.8 1027.9 317.2 1022.8 319.9 1017.7C322.5 1012.7 325.4 1007.8 328.4 1002.9C331.3 998.1 334.4 993.3 337.7 988.7C341 984.1 344.4 979.5 348.2 975.3C351.9 971 356 966.9 360.1 963.2C364.1 959.5 368.1 956.3 372.6 953.2C377.1 950.1 382.1 947.1 387.2 944.6C392.2 942.1 397.5 939.9 402.8 938.2C408.2 936.5 413.7 935.2 419.3 934.4C424.8 933.6 430.5 933.2 436.1 933.1C441.8 933.1 447.4 933.6 453 934.3C458.6 935 464.3 936.3 469.7 937.6Z" fill="#FF7F00" fill-opacity="0.3"/>
<path d="M695.5 1136.8C697.7 1141.8 699.7 1146.5 701.4 1151.7C703.2 1156.9 704.9 1162.5 706 1168C707 1173.5 707.8 1179.1 708 1184.7C708.2 1190.3 708 1196 707.3 1201.6C706.6 1207.2 705.4 1212.7 703.8 1218.1C702.3 1223.5 700.2 1228.8 697.8 1233.9C695.4 1239 692.5 1244.1 689.5 1248.7C686.6 1253.3 683.5 1257.4 680 1261.6C676.5 1265.8 672.5 1270.1 668.5 1274C664.4 1278 660.1 1281.8 655.8 1285.4C651.4 1289 646.9 1292.4 642.2 1295.8C637.6 1299.1 632.9 1302.3 628.1 1305.2C623.2 1308.2 618.2 1310.9 613 1313.3C607.9 1315.8 602.5 1318 597.3 1320C592.2 1321.9 587.4 1323.5 582.1 1325.1C576.8 1326.7 571.1 1328.3 565.6 1329.5C560 1330.8 554.4 1331.7 548.8 1332.8C543.2 1333.8 537.6 1334.7 532 1335.9C526.5 1337.1 520.9 1338.3 515.5 1340C510.1 1341.7 504.2 1343.2 499.7 1346.2C495.1 1349.1 490.6 1353.1 488.2 1357.6C485.9 1362.1 485.5 1367.6 485.4 1373C485.3 1378.3 486.6 1384.2 487.4 1389.8C488.1 1395.5 489.2 1401.1 490 1406.7C490.9 1412.3 491.8 1418 492.4 1423.6C493 1429.3 493.5 1435 493.7 1440.6C494 1446.3 494.1 1452 493.9 1457.7C493.8 1463.4 493.6 1469.2 493 1474.7C492.4 1480.2 491.8 1485.3 490.3 1490.6C488.8 1495.8 486.7 1501.4 484 1506.3C481.2 1511.1 477.8 1515.8 473.9 1519.6C469.9 1523.4 465.2 1526.7 460.3 1529C455.4 1531.2 449.9 1532.8 444.5 1533.2C439.2 1533.6 433.4 1532.9 428.2 1531.4C423 1529.9 417.7 1527 413.1 1524.1C408.5 1521.2 404.6 1517.8 400.6 1514.1C396.5 1510.4 392.5 1506.1 388.8 1501.8C385.1 1497.5 381.6 1493 378.4 1488.3C375.2 1483.6 372.4 1478.6 369.7 1473.6C367 1468.6 364.5 1463.5 362.2 1458.3C359.8 1453.1 357.8 1447.8 355.6 1442.5C353.4 1437.3 351.4 1431.7 348.8 1426.9C346.3 1422 344 1417.1 340.2 1413.5C336.5 1409.9 331.2 1406.6 326.1 1405.4C321 1404.2 315 1405.1 309.6 1406.3C304.2 1407.5 299 1410.2 293.8 1412.5C288.6 1414.8 283.6 1417.6 278.5 1420C273.3 1422.5 268.1 1424.8 262.9 1427C257.6 1429.2 252.2 1431.3 247 1433.2C241.8 1435.1 237 1436.7 231.6 1438.2C226.3 1439.7 220.7 1441.2 215.1 1442.3C209.5 1443.4 203.9 1444.5 198.2 1444.9C192.6 1445.3 186.8 1445.6 181.3 1445C175.7 1444.3 169.9 1443.3 164.9 1441.2C159.9 1439.1 154.9 1436.2 151.1 1432.5C147.4 1428.8 144.3 1423.9 142.4 1419.1C140.4 1414.4 139.7 1409.2 139.6 1403.9C139.4 1398.6 140.1 1392.6 141.4 1387.2C142.8 1381.7 145.1 1376.4 147.5 1371.3C150 1366.2 153 1361.4 156.1 1356.6C159.1 1351.8 162.5 1347.2 165.8 1342.6C169.2 1338 172.6 1333.4 176.3 1329.1C180 1324.8 184.1 1320.6 188 1316.7C192 1312.9 195.8 1309.5 200 1305.9C204.2 1302.3 208.8 1298.7 213.3 1295.2C217.8 1291.7 222.4 1288.4 226.9 1284.9C231.4 1281.5 236 1278.1 240.3 1274.4C244.6 1270.7 248.9 1266.8 252.7 1262.7C256.6 1258.6 260.4 1254.2 263.6 1249.6C266.8 1245 269.8 1239.8 272.1 1234.8C274.4 1229.9 276.1 1225 277.5 1219.7C278.9 1214.4 279.8 1208.6 280.3 1202.9C280.8 1197.3 280.9 1191.6 280.6 1185.9C280.2 1180.3 279.3 1174.6 278.2 1169.1C277.1 1163.5 275.4 1158 274 1152.5C272.6 1147 271 1141.5 269.7 1136C268.4 1130.5 267.2 1124.7 266.3 1119.3C265.4 1113.8 264.7 1108.8 264.4 1103.3C264.1 1097.8 263.8 1091.9 264.4 1086.3C264.9 1080.7 265.5 1074.6 267.7 1069.7C269.9 1064.8 273.2 1059.3 277.4 1056.9C281.7 1054.5 287.9 1054.3 293 1055.2C298.1 1056.2 303.3 1059.7 308.1 1062.7C312.8 1065.7 317.1 1069.8 321.5 1073.1C325.9 1076.5 329.6 1080.6 334.4 1082.6C339.1 1084.7 345.2 1086.5 350 1085.4C354.8 1084.3 359.4 1080.1 363.1 1076.1C366.7 1072.1 368.9 1066.4 371.9 1061.6C374.9 1056.8 377.4 1051.2 381.1 1047.3C384.8 1043.4 389.6 1039 394.3 1038C399 1037 405.3 1038.8 409.5 1041.3C413.6 1043.9 416.5 1048.9 419.1 1053.6C421.8 1058.2 423.3 1064.1 425.4 1069.4C427.6 1074.6 429.1 1080.5 432.2 1084.9C435.2 1089.4 439.2 1094.2 443.8 1096.2C448.4 1098.2 454.5 1097.9 459.9 1097.1C465.2 1096.3 470.5 1093.3 475.8 1091.2C481.1 1089.1 486.4 1086.6 491.5 1084.5C496.6 1082.4 501.3 1080.6 506.6 1078.7C511.8 1076.9 517.3 1075 522.8 1073.5C528.3 1072 533.8 1070.7 539.4 1069.6C545 1068.5 550.6 1067.7 556.3 1067C561.9 1066.3 567.6 1065.7 573.2 1065.4C578.9 1065.1 584.6 1065 590.2 1065.3C595.9 1065.5 601.7 1066.1 607.1 1067C612.5 1067.9 617.5 1069 622.7 1070.6C627.9 1072.2 633.4 1074.2 638.5 1076.6C643.6 1079 648.6 1081.8 653.3 1084.9C657.9 1088 662.4 1091.5 666.5 1095.4C670.6 1099.2 674.5 1103.4 678 1107.8C681.5 1112.2 684.7 1116.9 687.6 1121.7C690.5 1126.5 693.2 1131.8 695.5 1136.8Z" fill="none" stroke="#CCCC00" stroke-width="1.5"/>
<path d="M469.7 937.6C475 938.9 479.9 940.3 485 942.2C490.2 944.1 495.6 946.3 500.6 948.8C505.6 951.4 510.5 954.4 515 957.7C519.5 961 523.8 964.8 527.8 968.8C531.7 972.8 535.3 977.2 538.5 981.8C541.8 986.4 544.6 991.3 547.1 996.3C549.6 1001.4 551.7 1006.8 553.5 1012C555.2 1017.2 556.5 1022.1 557.6 1027.5C558.7 1032.9 559.6 1038.7 560.2 1044.3C560.8 1049.9 561 1055.6 561.1 1061.3C561.2 1067 561.1 1072.6 560.8 1078.3C560.5 1084 560.1 1089.7 559.4 1095.3C558.6 1100.9 557.6 1106.6 556.3 1112.1C555.1 1117.6 553.4 1123.3 551.7 1128.5C550 1133.8 548.3 1138.6 546.3 1143.7C544.2 1148.8 541.9 1154.2 539.4 1159.3C537 1164.4 534.2 1169.4 531.5 1174.4C528.9 1179.5 526 1184.4 523.5 1189.5C521 1194.6 518.4 1199.7 516.4 1205C514.4 1210.3 511.9 1215.8 511.3 1221.2C510.8 1226.6 511.1 1232.6 513.1 1237.3C515.1 1241.9 519.3 1245.6 523.4 1249.1C527.5 1252.5 532.9 1255.2 537.8 1258.1C542.7 1261 547.7 1263.7 552.6 1266.5C557.6 1269.4 562.5 1272.2 567.3 1275.2C572.1 1278.3 576.9 1281.4 581.5 1284.8C586.1 1288.1 590.6 1291.6 594.9 1295.2C599.3 1298.9 603.8 1302.7 607.7 1306.6C611.6 1310.5 615.2 1314.1 618.4 1318.6C621.6 1323 624.7 1328.1 626.7 1333.3C628.8 1338.5 630.3 1344.1 630.8 1349.5C631.3 1355 631 1360.7 629.7 1366C628.4 1371.2 626.2 1376.5 623.1 1380.9C620.1 1385.4 616.1 1389.4 611.6 1392.6C607.2 1395.8 601.6 1398.1 596.5 1399.9C591.4 1401.7 586.3 1402.5 580.8 1403.4C575.4 1404.2 569.5 1404.7 563.9 1404.9C558.2 1405.1 552.5 1405 546.8 1404.6C541.2 1404.2 535.5 1403.3 529.9 1402.3C524.3 1401.3 518.8 1400 513.3 1398.6C507.8 1397.2 502.3 1395.5 496.8 1394C491.4 1392.4 485.8 1390.5 480.4 1389.5C475 1388.4 469.7 1387.1 464.6 1387.8C459.4 1388.6 453.6 1390.6 449.4 1393.8C445.3 1397.1 442.2 1402.4 439.8 1407.3C437.4 1412.3 436.2 1418.1 434.8 1423.5C433.4 1429 432.5 1434.7 431.2 1440.2C429.9 1445.8 428.5 1451.3 426.9 1456.8C425.4 1462.2 423.6 1467.8 421.8 1473C420 1478.3 418.3 1483 416.2 1488.1C414 1493.2 411.7 1498.6 409.1 1503.7C406.5 1508.7 403.8 1513.8 400.6 1518.4C397.4 1523.1 394 1527.8 390 1531.8C386.1 1535.7 381.7 1539.6 376.9 1542.2C372.2 1544.8 366.8 1546.9 361.5 1547.5C356.3 1548.2 350.5 1547.5 345.6 1546.1C340.7 1544.6 336.2 1541.9 331.9 1538.8C327.7 1535.6 323.4 1531.3 320 1526.9C316.6 1522.4 313.9 1517.3 311.4 1512.2C309 1507.1 307.1 1501.7 305.3 1496.3C303.4 1491 301.9 1485.5 300.4 1480C298.9 1474.5 297.5 1469 296.4 1463.4C295.4 1457.8 294.6 1452 294 1446.5C293.5 1441 293.2 1436 293 1430.4C292.8 1424.9 292.8 1419 292.9 1413.4C293 1407.7 293.3 1402 293.4 1396.3C293.5 1390.6 293.7 1384.9 293.5 1379.2C293.3 1373.5 292.9 1367.8 292.1 1362.2C291.3 1356.6 290.3 1351 288.6 1345.6C287 1340.1 284.8 1334.7 282.4 1329.8C279.9 1324.8 277.2 1320.5 273.9 1316.1C270.6 1311.7 266.7 1307.3 262.6 1303.4C258.5 1299.5 254.1 1295.9 249.4 1292.6C244.8 1289.4 239.8 1286.6 234.8 1284C229.7 1281.4 224.4 1279.3 219.2 1276.9C214 1274.6 208.7 1272.5 203.6 1270C198.5 1267.6 193.2 1265 188.4 1262.2C183.6 1259.5 179.2 1256.9 174.7 1253.7C170.2 1250.6 165.4 1247.1 161.4 1243.1C157.4 1239.2 153 1235 150.6 1230.2C148.1 1225.4 145.8 1219.4 146.6 1214.6C147.3 1209.8 151.1 1204.8 155 1201.4C159 1198 164.9 1196.1 170.2 1194.3C175.5 1192.4 181.5 1191.6 186.8 1190.3C192.1 1188.9 197.7 1188.6 202.2 1186.1C206.8 1183.7 212 1180.1 214.2 1175.7C216.3 1171.2 215.8 1165 215 1159.6C214.2 1154.3 211 1149 209.1 1143.7C207.3 1138.4 204.5 1133 203.8 1127.6C203 1122.2 202.6 1115.8 204.7 1111.5C206.9 1107.2 212.2 1103.3 216.8 1101.7C221.4 1100.1 227 1100.9 232.3 1101.7C237.7 1102.6 243.2 1105.1 248.6 1106.7C254.1 1108.2 259.6 1110.7 265 1111.1C270.4 1111.5 276.6 1111.4 281 1109.1C285.5 1106.7 289.1 1101.7 291.8 1097C294.5 1092.3 295.5 1086.3 297.1 1080.9C298.8 1075.5 300.1 1069.8 301.7 1064.5C303.2 1059.2 304.7 1054.3 306.5 1049.1C308.4 1043.9 310.3 1038.4 312.6 1033.1C314.8 1027.9 317.2 1022.8 319.9 1017.7C322.5 1012.7 325.4 1007.8 328.4 1002.9C331.3 998.1 334.4 993.3 337.7 988.7C341 984.1 344.4 979.5 348.2 975.3C351.9 971 356 966.9 360.1 963.2C364.1 959.5 368.1 956.3 372.6 953.2C377.1 950.1 382.1 947.1 387.2 944.6C392.2 942.1 397.5 939.9 402.8 938.2C408.2 936.5 413.7 935.2 419.3 934.4C424.8 933.6 430.5 933.2 436.1 933.1C441.8 933.1 447.4 933.6 453 934.3C458.6 935 464.3 936.3 469.7 937.6Z" fill="none" stroke="#CC6600" stroke-width="1.5"/>
<path d="M172.8 980.8C177.2 977.5 181.3 974.6 186 971.7C190.7 968.8 195.8 965.9 200.9 963.7C206 961.4 211.4 959.4 216.8 957.9C222.2 956.5 227.8 955.4 233.4 954.9C239 954.3 244.7 954.2 250.3 954.5C255.9 954.9 261.5 955.7 267 956.9C272.5 958.1 278.1 959.8 283.2 961.7C288.4 963.6 293 965.6 297.9 968.1C302.8 970.6 307.9 973.6 312.6 976.6C317.4 979.7 322 983 326.5 986.5C331 989.9 335.4 993.6 339.6 997.3C343.9 1001.1 348.1 1005 352 1009.1C356 1013.2 359.7 1017.4 363.3 1021.9C366.8 1026.3 370.2 1031.1 373.2 1035.7C376.3 1040.3 378.9 1044.7 381.7 1049.5C384.4 1054.3 387.2 1059.4 389.6 1064.5C392.1 1069.7 394.3 1075 396.5 1080.2C398.8 1085.4 400.9 1090.7 403.3 1095.8C405.7 1101 408.2 1106.2 411 1111C413.9 1115.9 416.6 1121.3 420.5 1125.1C424.4 1128.9 429.3 1132.4 434.2 1133.7C439.1 1135 444.5 1134.1 449.8 1133.1C455.1 1132 460.5 1129.4 465.8 1127.4C471.1 1125.4 476.4 1123.1 481.7 1121C487 1119 492.3 1116.9 497.7 1115C503 1113.1 508.5 1111.4 513.9 1109.9C519.4 1108.4 525 1107 530.5 1105.9C536.1 1104.8 541.9 1103.7 547.3 1103C552.8 1102.4 557.9 1101.8 563.4 1102.1C568.8 1102.4 574.8 1103.2 580.1 1104.8C585.4 1106.4 590.8 1108.7 595.3 1111.7C599.9 1114.7 604.2 1118.6 607.5 1122.8C610.8 1127.1 613.5 1132.2 615.1 1137.3C616.7 1142.4 617.3 1148.1 617 1153.6C616.7 1159 615.1 1164.8 613.3 1169.9C611.5 1175 609 1179.6 606.3 1184.4C603.6 1189.1 600.3 1194 596.9 1198.6C593.5 1203.2 589.9 1207.6 586 1211.7C582.2 1215.9 578 1219.8 573.7 1223.5C569.4 1227.2 564.9 1230.8 560.4 1234.2C555.9 1237.6 551.1 1240.8 546.5 1244.1C541.9 1247.5 536.9 1250.6 532.8 1254.2C528.6 1257.8 524.3 1261.1 521.6 1265.6C519 1270 516.9 1275.9 516.9 1281.1C516.8 1286.4 519.1 1292.1 521.4 1297.1C523.8 1302.1 527.6 1306.5 531 1311.1C534.4 1315.6 538.3 1319.8 541.8 1324.3C545.3 1328.8 548.7 1333.3 552 1338C555.3 1342.6 558.6 1347.4 561.6 1352.1C564.6 1356.8 567.2 1361.1 569.9 1365.9C572.5 1370.8 575.3 1376 577.6 1381.2C579.9 1386.3 582.2 1391.6 583.8 1397C585.5 1402.4 587 1408 587.7 1413.6C588.3 1419.1 588.6 1425 587.7 1430.3C586.8 1435.7 585 1441.2 582.3 1445.7C579.5 1450.2 575.4 1454.3 571.2 1457.2C566.9 1460.2 562.1 1462 556.9 1463.4C551.8 1464.7 545.8 1465.3 540.2 1465.2C534.6 1465.2 528.9 1464.1 523.4 1462.8C517.9 1461.6 512.5 1459.7 507.1 1457.8C501.8 1455.9 496.5 1453.6 491.3 1451.4C486.1 1449.1 480.9 1446.8 475.9 1444.1C470.8 1441.5 465.8 1438.5 461.2 1435.5C456.5 1432.5 452.4 1429.5 448 1426.2C443.5 1422.9 439 1419.3 434.6 1415.7C430.1 1412.1 425.9 1408.3 421.5 1404.6C417.1 1401 412.8 1397.3 408.2 1393.9C403.7 1390.6 399 1387.3 394.1 1384.4C389.2 1381.6 384.1 1378.8 378.9 1376.7C373.6 1374.6 368 1372.9 362.6 1371.8C357.3 1370.6 352.2 1370 346.7 1369.9C341.2 1369.7 335.3 1370.1 329.7 1370.8C324.1 1371.6 318.5 1372.8 313 1374.4C307.6 1376 302.3 1378.2 297.1 1380.5C292 1382.8 287 1385.6 281.9 1388.2C276.9 1390.8 271.9 1393.6 266.8 1396.1C261.7 1398.6 256.4 1401.1 251.3 1403.1C246.1 1405.2 241.4 1407 236.1 1408.5C230.8 1410.1 225.1 1411.7 219.5 1412.4C213.9 1413.1 207.9 1413.8 202.6 1412.8C197.3 1411.7 191.2 1409.7 187.9 1406.1C184.6 1402.6 183.1 1396.5 182.9 1391.3C182.7 1386.1 184.9 1380.3 186.8 1375C188.6 1369.7 191.7 1364.6 194 1359.5C196.3 1354.5 199.4 1350 200.4 1344.9C201.3 1339.8 201.8 1333.5 199.6 1329C197.5 1324.6 192.3 1321.1 187.6 1318.4C182.9 1315.7 176.8 1314.9 171.5 1313C166.2 1311.2 160.2 1310 155.6 1307.2C150.9 1304.4 145.6 1300.8 143.6 1296.4C141.5 1292 141.8 1285.5 143.4 1280.9C145 1276.3 149.2 1272.4 153.2 1268.7C157.1 1265.1 162.6 1262.4 167.2 1259.1C171.8 1255.8 177.2 1253 180.9 1249.1C184.6 1245.1 188.3 1240.2 189.3 1235.2C190.2 1230.3 188.5 1224.3 186.5 1219.3C184.5 1214.3 180.5 1209.8 177.3 1205.1C174.1 1200.4 170.4 1195.8 167.2 1191.3C164.1 1186.8 161.2 1182.6 158.3 1177.9C155.3 1173.2 152.2 1168.2 149.5 1163.2C146.8 1158.2 144.3 1153.1 142 1147.9C139.7 1142.7 137.7 1137.4 135.8 1132.1C133.8 1126.7 132 1121.3 130.4 1115.9C128.9 1110.4 127.5 1104.9 126.5 1099.3C125.5 1093.8 124.8 1088 124.5 1082.5C124.1 1077 124.1 1072 124.5 1066.5C124.9 1061 125.6 1055.2 126.8 1049.7C128 1044.2 129.6 1038.8 131.6 1033.5C133.6 1028.3 136.1 1023.1 138.9 1018.3C141.7 1013.4 144.9 1008.7 148.4 1004.3C151.9 999.9 155.8 995.7 159.8 991.8C163.9 987.9 168.4 984.2 172.8 980.8Z" fill="#FF73EE" fill-opacity="0.3"/>
<path d="M21.7 1248.3C21.8 1242.8 22.2 1237.7 22.8 1232.3C23.5 1226.8 24.4 1221.1 25.8 1215.6C27.2 1210.2 29 1204.8 31.3 1199.6C33.5 1194.5 36.2 1189.5 39.2 1184.7C42.3 1180 45.7 1175.5 49.5 1171.3C53.2 1167.2 57.4 1163.3 61.8 1159.7C66.1 1156.2 71 1152.9 75.6 1150C80.3 1147.2 84.8 1144.8 89.8 1142.5C94.8 1140.3 100.3 1138.1 105.6 1136.3C111 1134.5 116.5 1133 122 1131.6C127.5 1130.2 133.1 1129.1 138.7 1128.1C144.3 1127.2 149.9 1126.3 155.6 1125.8C161.2 1125.2 166.9 1125 172.6 1125C178.3 1125 184.1 1125.3 189.6 1125.8C195.1 1126.3 200.2 1126.9 205.6 1127.8C211.1 1128.6 216.8 1129.7 222.4 1131C227.9 1132.2 233.4 1133.8 238.9 1135.3C244.4 1136.8 249.8 1138.4 255.4 1139.8C260.9 1141.1 266.5 1142.4 272.1 1143.2C277.7 1144 283.6 1145.2 289 1144.6C294.3 1143.9 300.2 1142.2 304.3 1139.2C308.3 1136.2 311 1131.4 313.5 1126.6C315.9 1121.9 317.3 1116 319 1110.6C320.8 1105.2 322.3 1099.6 324 1094.2C325.7 1088.8 327.3 1083.3 329.2 1078C331.1 1072.6 333.1 1067.3 335.3 1062.1C337.6 1056.8 340 1051.7 342.6 1046.6C345.1 1041.5 347.9 1036.3 350.8 1031.7C353.7 1027 356.5 1022.6 360.1 1018.5C363.7 1014.4 368 1010.3 372.6 1007.1C377.2 1004 382.3 1001.2 387.5 999.5C392.7 997.8 398.4 996.9 403.8 997C409.2 997.1 414.8 998.1 419.8 1000C424.8 1002 429.7 1005 433.8 1008.7C437.8 1012.3 441.3 1017.2 444.2 1021.8C447.1 1026.4 449.1 1031.2 451.1 1036.3C453.2 1041.4 455 1047 456.4 1052.5C457.9 1058 459.1 1063.6 459.9 1069.2C460.7 1074.8 461.2 1080.5 461.4 1086.2C461.7 1091.8 461.7 1097.5 461.5 1103.2C461.4 1108.9 460.9 1114.6 460.6 1120.3C460.4 1125.9 459.7 1131.8 459.9 1137.3C460.1 1142.8 460 1148.2 461.8 1153.1C463.7 1157.9 467 1163.2 471 1166.5C475.1 1169.8 481 1171.6 486.3 1172.9C491.7 1174.2 497.6 1174 503.3 1174.2C508.9 1174.3 514.7 1173.9 520.3 1174C526 1174 531.7 1174.2 537.4 1174.5C543.1 1174.8 548.9 1175.2 554.4 1175.8C559.9 1176.4 565 1177 570.4 1178C575.8 1178.9 581.6 1180 587.1 1181.4C592.6 1182.8 598.1 1184.3 603.4 1186.4C608.7 1188.5 614 1190.8 618.7 1193.7C623.5 1196.7 628.2 1200.2 631.9 1204.2C635.5 1208.2 638.7 1213.1 640.5 1218C642.3 1222.9 642.9 1228.7 642.6 1233.9C642.2 1239 640.7 1244 638.5 1248.8C636.3 1253.7 633.1 1258.8 629.5 1263.1C626 1267.4 621.6 1271.2 617.2 1274.7C612.8 1278.2 607.9 1281.3 603.1 1284.3C598.3 1287.3 593.2 1290 588.2 1292.6C583.2 1295.3 578.1 1297.9 572.9 1300.2C567.7 1302.5 562.2 1304.5 557 1306.3C551.8 1308.1 546.9 1309.5 541.5 1310.9C536.2 1312.3 530.5 1313.6 524.9 1314.8C519.4 1316 513.7 1316.9 508.2 1318.1C502.6 1319.2 497 1320.3 491.5 1321.8C486 1323.3 480.5 1324.9 475.3 1326.9C470 1329 464.7 1331.2 459.8 1334C454.9 1336.8 450 1340.1 445.8 1343.6C441.5 1347.1 437.9 1350.7 434.3 1354.9C430.8 1359.1 427.4 1363.9 424.5 1368.8C421.6 1373.6 419 1378.8 416.9 1384C414.8 1389.3 413.1 1394.8 411.7 1400.2C410.3 1405.7 409.4 1411.4 408.3 1417C407.2 1422.5 406.3 1428.2 405 1433.7C403.8 1439.3 402.4 1445 400.8 1450.3C399.3 1455.6 397.7 1460.4 395.6 1465.5C393.5 1470.6 391.2 1476 388.2 1480.8C385.3 1485.6 382.1 1490.8 378 1494.3C373.9 1497.8 368.5 1501.3 363.7 1501.6C358.9 1502 353.1 1499.4 349 1496.4C344.8 1493.3 341.6 1487.9 338.6 1483.1C335.6 1478.4 333.6 1472.8 331 1467.9C328.5 1463 327 1457.6 323.6 1453.7C320.2 1449.8 315.5 1445.5 310.7 1444.4C305.9 1443.3 299.9 1445.2 294.9 1447.2C289.9 1449.2 285.5 1453.4 280.7 1456.4C275.9 1459.5 271.2 1463.4 266.2 1465.3C261.1 1467.2 254.9 1469 250.2 1467.9C245.5 1466.7 240.6 1462.5 238 1458.4C235.4 1454.2 235 1448.5 234.6 1443.2C234.2 1437.8 235.5 1431.8 235.8 1426.2C236.1 1420.5 237.3 1414.6 236.5 1409.2C235.7 1403.9 234.2 1397.9 230.9 1394C227.6 1390.2 221.9 1387.8 216.8 1386.2C211.6 1384.7 205.5 1385 199.9 1384.6C194.2 1384.2 188.3 1384.2 182.8 1383.9C177.3 1383.5 172.3 1383.1 166.8 1382.5C161.3 1381.9 155.4 1381.2 149.9 1380.2C144.3 1379.2 138.7 1378 133.2 1376.5C127.7 1375.1 122.3 1373.4 116.9 1371.5C111.5 1369.7 106.1 1367.8 100.9 1365.6C95.7 1363.4 90.5 1361.1 85.5 1358.4C80.6 1355.7 75.6 1352.6 71.1 1349.5C66.6 1346.3 62.6 1343.2 58.6 1339.4C54.6 1335.7 50.5 1331.5 47 1327.2C43.4 1322.8 40.1 1318.2 37.3 1313.3C34.4 1308.5 31.9 1303.4 29.9 1298.2C27.8 1292.9 26.2 1287.5 24.9 1282C23.6 1276.5 22.8 1270.9 22.2 1265.3C21.7 1259.7 21.6 1253.8 21.7 1248.3Z" fill="none" stroke="#0000BB" stroke-width="1.5"/>
<path d="M130.9 1527.3C126.7 1523.8 122.9 1520.4 119.1 1516.5C115.2 1512.6 111.3 1508.2 107.9 1503.8C104.5 1499.3 101.4 1494.5 98.8 1489.5C96.2 1484.6 93.9 1479.4 92.1 1474C90.3 1468.7 88.9 1463.2 88 1457.7C87.1 1452.1 86.7 1446.4 86.6 1440.8C86.6 1435.2 87 1429.4 87.7 1423.9C88.3 1418.5 89.3 1413.5 90.7 1408.2C92 1402.8 93.7 1397.3 95.6 1391.9C97.6 1386.6 99.8 1381.4 102.2 1376.2C104.5 1371 107.1 1366 109.9 1361C112.6 1356 115.4 1351.1 118.5 1346.3C121.6 1341.6 125 1336.9 128.5 1332.5C132.1 1328.1 136 1323.7 139.8 1319.7C143.6 1315.7 147.2 1312.1 151.3 1308.4C155.4 1304.7 159.8 1300.8 164.3 1297.3C168.7 1293.7 173.4 1290.5 177.9 1287.1C182.5 1283.7 187.2 1280.5 191.7 1277C196.2 1273.5 200.7 1270 204.8 1266.1C208.9 1262.2 213.6 1258.3 216.4 1253.7C219.2 1249.1 221.6 1243.5 221.8 1238.4C222 1233.4 219.9 1228.3 217.7 1223.4C215.5 1218.5 211.7 1213.8 208.6 1209C205.4 1204.3 202 1199.7 198.9 1195C195.7 1190.3 192.4 1185.6 189.4 1180.8C186.4 1175.9 183.5 1171 180.8 1166C178.1 1161 175.6 1155.9 173.2 1150.7C170.9 1145.6 168.5 1140.2 166.7 1135C164.9 1129.8 163.1 1124.9 162.2 1119.5C161.3 1114.2 160.7 1108.2 161.1 1102.7C161.5 1097.1 162.5 1091.4 164.4 1086.3C166.4 1081.2 169.2 1076.1 172.6 1071.9C176 1067.8 180.3 1064 185 1061.3C189.6 1058.6 195.1 1056.7 200.4 1055.8C205.8 1054.9 211.8 1055.2 217.2 1055.8C222.6 1056.4 227.6 1057.8 232.8 1059.4C238.1 1061 243.6 1063.1 248.8 1065.4C254 1067.7 259.1 1070.2 264 1073.1C268.9 1075.9 273.7 1079.1 278.3 1082.5C282.9 1085.8 287.3 1089.4 291.7 1093C296 1096.7 300.1 1100.6 304.4 1104.4C308.7 1108.1 312.9 1112.3 317.3 1115.6C321.7 1118.8 325.9 1122.3 330.8 1123.9C335.8 1125.5 342 1126.2 347.1 1125.1C352.2 1123.9 357.3 1120.5 361.6 1117.1C366 1113.7 369.5 1108.9 373.2 1104.6C376.8 1100.3 380.1 1095.6 383.7 1091.2C387.3 1086.8 390.9 1082.4 394.7 1078.1C398.4 1073.9 402.4 1069.6 406.3 1065.7C410.2 1061.7 413.9 1058.2 418 1054.5C422.1 1050.8 426.6 1047 431.1 1043.6C435.6 1040.2 440.3 1036.8 445.2 1034C450.1 1031.1 455.2 1028.4 460.5 1026.6C465.7 1024.7 471.4 1023.1 476.8 1022.8C482.2 1022.5 488 1023 493 1024.7C498 1026.4 502.9 1029.5 506.7 1033C510.5 1036.4 513.4 1040.7 515.8 1045.5C518.3 1050.2 520.2 1055.9 521.4 1061.3C522.6 1066.8 522.8 1072.6 522.8 1078.3C522.8 1083.9 522.1 1089.6 521.5 1095.2C520.8 1100.9 519.8 1106.5 518.8 1112.1C517.7 1117.7 516.6 1123.3 515.1 1128.8C513.7 1134.3 511.8 1139.8 510 1145C508.1 1150.2 506.1 1154.9 503.9 1160C501.7 1165 499.1 1170.3 496.6 1175.4C494.1 1180.5 491.3 1185.4 488.7 1190.5C486.2 1195.6 483.5 1200.7 481.2 1205.9C479 1211.1 476.8 1216.4 475.1 1221.8C473.4 1227.2 471.9 1232.7 471 1238.3C470.1 1243.9 469.7 1249.8 469.8 1255.3C469.9 1260.7 470.4 1265.8 471.5 1271.2C472.5 1276.6 474.2 1282.3 476.2 1287.6C478.2 1292.9 480.6 1298.1 483.4 1303C486.1 1307.9 489.4 1312.6 492.8 1317.2C496.2 1321.7 500.1 1325.9 503.8 1330.3C507.5 1334.6 511.3 1338.8 514.8 1343.3C518.4 1347.7 522 1352.3 525.2 1356.9C528.3 1361.4 531.1 1365.6 533.8 1370.4C536.5 1375.3 539.3 1380.5 541.2 1385.8C543.1 1391.1 545.2 1396.8 545.4 1402.1C545.5 1407.5 544.9 1413.9 542.2 1417.9C539.4 1421.9 533.9 1424.8 528.9 1426.2C523.8 1427.5 517.6 1426.6 512 1426C506.5 1425.4 500.8 1423.5 495.4 1422.4C490 1421.3 484.9 1419.2 479.7 1419.4C474.5 1419.6 468.2 1420.6 464.4 1423.7C460.6 1426.7 458.2 1432.6 456.7 1437.8C455.1 1442.9 455.7 1449 455.1 1454.7C454.4 1460.3 454.6 1466.4 452.9 1471.5C451.3 1476.7 448.9 1482.7 445 1485.6C441.2 1488.6 434.8 1489.7 430 1489.2C425.1 1488.7 420.4 1485.5 415.9 1482.4C411.5 1479.4 407.6 1474.7 403.4 1470.9C399.2 1467.1 395.3 1462.5 390.6 1459.8C385.9 1457.1 380.3 1454.5 375.2 1454.7C370.2 1454.9 364.8 1457.8 360.3 1460.9C355.9 1463.9 352.4 1468.9 348.5 1473.1C344.7 1477.2 341 1481.8 337.3 1485.9C333.6 1490 330.2 1493.7 326.2 1497.6C322.3 1501.6 318.2 1505.7 313.9 1509.4C309.6 1513.2 305.2 1516.7 300.6 1520.1C296.1 1523.5 291.3 1526.7 286.6 1529.8C281.8 1532.9 276.9 1535.9 272 1538.6C267 1541.3 261.9 1543.9 256.7 1546.1C251.5 1548.3 246 1550.3 240.8 1551.8C235.5 1553.4 230.6 1554.5 225.1 1555.3C219.7 1556.2 213.9 1556.7 208.3 1556.8C202.7 1556.9 197 1556.5 191.4 1555.8C185.9 1555 180.3 1553.7 174.9 1552.1C169.6 1550.4 164.3 1548.3 159.2 1545.9C154.1 1543.5 149.2 1540.6 144.5 1537.5C139.8 1534.4 135.1 1530.8 130.9 1527.3Z" fill="none" stroke="#006666" stroke-width="1.5"/>
<path d="M672.9 1444.5C670.4 1449.4 667.9 1453.8 664.9 1458.4C661.9 1463.1 658.6 1467.9 655 1472.2C651.4 1476.5 647.4 1480.5 643.2 1484.2C638.9 1487.9 634.3 1491.2 629.5 1494.2C624.8 1497.1 619.7 1499.7 614.5 1501.8C609.3 1503.9 603.8 1505.6 598.4 1506.9C592.9 1508.2 587.1 1509.1 581.7 1509.6C576.2 1510.2 571.1 1510.3 565.6 1510.2C560.1 1510.1 554.3 1509.7 548.7 1509C543.1 1508.3 537.5 1507.3 531.9 1506.1C526.4 1505 520.8 1503.6 515.4 1502C509.9 1500.5 504.4 1498.8 499.1 1496.8C493.8 1494.8 488.6 1492.6 483.4 1490.1C478.3 1487.7 473.2 1484.8 468.5 1482C463.7 1479.2 459.4 1476.4 454.9 1473.3C450.3 1470.1 445.6 1466.7 441.2 1463.1C436.7 1459.6 432.5 1455.8 428.2 1452.1C423.9 1448.4 419.7 1444.5 415.3 1440.9C410.9 1437.3 406.4 1433.7 401.7 1430.5C397 1427.4 392.2 1423.7 387.1 1422C382 1420.3 376 1419.2 371 1420.2C366 1421.1 361.5 1424.3 357.2 1427.5C352.9 1430.8 349.2 1435.5 345.3 1439.6C341.3 1443.7 337.6 1448 333.7 1452.2C329.8 1456.3 326 1460.6 322 1464.6C317.9 1468.6 313.8 1472.5 309.5 1476.2C305.2 1480 300.8 1483.6 296.3 1487C291.8 1490.5 287 1493.9 282.4 1496.9C277.7 1499.8 273.4 1502.6 268.3 1504.7C263.3 1506.8 257.6 1508.7 252.1 1509.5C246.6 1510.4 240.8 1510.7 235.4 1509.9C230 1509.2 224.4 1507.6 219.6 1505.2C214.8 1502.7 210.1 1499.4 206.5 1495.4C202.8 1491.5 199.8 1486.6 197.7 1481.6C195.6 1476.6 194.6 1470.7 194 1465.3C193.4 1459.9 193.6 1454.7 194 1449.2C194.4 1443.7 195.2 1437.9 196.3 1432.3C197.3 1426.7 198.7 1421.2 200.4 1415.8C202.1 1410.4 204.2 1405 206.4 1399.8C208.6 1394.6 211.1 1389.5 213.7 1384.4C216.3 1379.3 219.2 1374.4 221.9 1369.4C224.6 1364.4 227.7 1359.4 229.9 1354.4C232.1 1349.4 234.6 1344.5 235 1339.3C235.5 1334.1 234.8 1328 232.6 1323.2C230.3 1318.5 225.8 1314.3 221.6 1310.8C217.3 1307.4 211.9 1305 206.8 1302.4C201.8 1299.7 196.5 1297.6 191.4 1295.1C186.3 1292.6 181.2 1290 176.2 1287.3C171.2 1284.5 166.2 1281.6 161.5 1278.7C156.8 1275.8 152.5 1273 148 1269.8C143.5 1266.6 138.8 1263.1 134.5 1259.4C130.1 1255.8 125.8 1252 121.9 1247.9C118.1 1243.7 114.3 1239.3 111.3 1234.6C108.3 1229.9 105.5 1224.7 104 1219.5C102.5 1214.3 101.7 1208.6 102.3 1203.3C102.8 1198.1 104.7 1192.6 107.3 1188.1C109.8 1183.6 113.4 1179.9 117.4 1176.4C121.5 1173 126.6 1169.8 131.7 1167.5C136.7 1165.1 142.3 1163.6 147.8 1162.3C153.3 1161.1 159 1160.4 164.7 1159.8C170.3 1159.2 176 1159 181.7 1158.7C187.4 1158.5 193.1 1158.4 198.8 1158.6C204.5 1158.8 210.3 1159.3 215.8 1160C221.3 1160.7 226.3 1161.5 231.7 1162.6C237.1 1163.6 242.8 1165 248.4 1166.3C253.9 1167.6 259.4 1169.2 264.9 1170.6C270.4 1171.9 275.9 1173.4 281.5 1174.4C287.1 1175.5 292.7 1176.4 298.4 1176.9C304 1177.3 309.8 1177.6 315.4 1177.2C321 1176.8 326.9 1175.9 332.2 1174.6C337.5 1173.3 342.4 1171.7 347.4 1169.4C352.4 1167.2 357.6 1164.3 362.3 1161.2C367 1158.1 371.5 1154.6 375.7 1150.8C379.9 1147 383.8 1142.7 387.4 1138.4C391.1 1134.1 394.3 1129.3 397.8 1124.8C401.2 1120.2 404.4 1115.6 408 1111.1C411.5 1106.7 415.2 1102.1 418.9 1098C422.6 1094 426.2 1090.3 430.3 1086.6C434.4 1082.9 438.8 1079 443.6 1076C448.3 1072.9 453.4 1069.6 458.6 1068.3C463.8 1066.9 470.2 1066.1 474.7 1067.9C479.2 1069.7 483.2 1074.4 485.7 1079C488.1 1083.6 488.6 1089.9 489.3 1095.4C489.9 1101 489.3 1107 489.5 1112.5C489.6 1118 488.7 1123.5 490 1128.4C491.4 1133.4 493.8 1139.4 497.6 1142.4C501.4 1145.5 507.7 1146.4 513.1 1146.8C518.4 1147.2 524.3 1145.3 529.9 1144.6C535.5 1144 541.4 1142.5 546.8 1142.9C552.2 1143.4 558.6 1144.4 562.3 1147.5C566 1150.6 568.6 1156.5 569.1 1161.4C569.7 1166.2 567.6 1171.6 565.6 1176.6C563.6 1181.6 559.9 1186.4 557.2 1191.3C554.5 1196.3 550.8 1201.1 549.2 1206.3C547.6 1211.5 546.4 1217.6 547.7 1222.4C549 1227.3 553 1231.9 557 1235.6C561 1239.2 566.6 1241.6 571.5 1244.4C576.4 1247.2 581.7 1249.7 586.6 1252.5C591.4 1255.2 595.8 1257.7 600.4 1260.6C605.1 1263.6 610.1 1266.7 614.7 1270.1C619.3 1273.4 623.8 1276.9 628.1 1280.6C632.4 1284.3 636.6 1288.2 640.6 1292.2C644.7 1296.1 648.7 1300.2 652.4 1304.4C656.2 1308.7 659.8 1313.1 663.1 1317.6C666.5 1322.2 669.6 1327.1 672.3 1331.9C675 1336.7 677.2 1341.3 679.2 1346.4C681.2 1351.5 683.1 1357 684.4 1362.5C685.7 1367.9 686.6 1373.6 687.1 1379.2C687.6 1384.7 687.6 1390.4 687.2 1396C686.8 1401.6 685.9 1407.3 684.7 1412.8C683.4 1418.3 681.7 1423.7 679.8 1429C677.8 1434.3 675.3 1439.6 672.9 1444.5Z" fill="none" stroke="#66BB00" stroke-width="1.5"/>
<path d="M426.8 1614.3C421.4 1615.4 416.4 1616.3 410.9 1616.8C405.5 1617.3 399.6 1617.8 394 1617.6C388.4 1617.4 382.7 1616.9 377.2 1615.8C371.7 1614.8 366.2 1613.3 360.9 1611.4C355.7 1609.5 350.5 1607.1 345.6 1604.4C340.7 1601.6 336 1598.4 331.5 1595C327.1 1591.5 322.8 1587.5 319 1583.6C315.1 1579.7 311.9 1575.8 308.5 1571.5C305.2 1567.1 301.9 1562.3 298.9 1557.4C296 1552.6 293.3 1547.6 290.7 1542.5C288.2 1537.5 285.8 1532.3 283.6 1527C281.4 1521.8 279.3 1516.5 277.5 1511.1C275.8 1505.7 274.2 1500.2 273 1494.7C271.7 1489.1 270.8 1483.3 270 1477.9C269.2 1472.4 268.7 1467.4 268.4 1461.8C268 1456.3 267.7 1450.5 267.7 1444.8C267.7 1439.1 268.1 1433.4 268.3 1427.7C268.5 1422.1 268.9 1416.4 269 1410.7C269 1405 269.1 1399.3 268.6 1393.6C268.2 1388 268 1381.9 266.2 1376.8C264.3 1371.8 261.4 1366.5 257.6 1363.1C253.8 1359.8 248.5 1358.3 243.3 1357C238 1355.6 232 1355.6 226.3 1355.1C220.7 1354.6 215 1354.4 209.3 1354C203.6 1353.5 197.9 1353.1 192.3 1352.5C186.7 1351.8 181 1351 175.4 1350C169.8 1349 164.2 1347.8 158.7 1346.4C153.2 1345 147.5 1343.5 142.3 1341.7C137.1 1339.9 132.3 1338.2 127.5 1335.6C122.7 1332.9 117.7 1329.7 113.6 1325.9C109.5 1322.2 105.7 1317.8 102.9 1313.1C100.1 1308.4 97.9 1303 96.7 1297.8C95.6 1292.5 95.4 1286.8 96.1 1281.4C96.9 1276.1 98.8 1270.7 101.5 1265.9C104.1 1261.2 108.1 1256.7 111.9 1252.8C115.8 1249 120 1246 124.5 1242.9C129.1 1239.7 134.1 1236.7 139.2 1234.1C144.2 1231.5 149.4 1229.1 154.6 1227C159.9 1224.9 165.4 1223.3 170.9 1221.7C176.3 1220.2 181.9 1219 187.5 1217.8C193 1216.7 198.7 1215.9 204.3 1214.9C209.9 1213.9 215.8 1213.2 221.1 1211.8C226.4 1210.4 231.7 1209.3 236 1206.4C240.3 1203.5 244.8 1199.2 247.1 1194.5C249.4 1189.8 249.8 1183.7 249.9 1178.1C249.9 1172.6 248.4 1166.9 247.3 1161.3C246.3 1155.8 244.6 1150.3 243.4 1144.7C242.2 1139.2 241 1133.6 240 1128C239.1 1122.4 238.2 1116.6 237.6 1111.1C236.9 1105.6 236.4 1100.6 236.1 1095.1C235.8 1089.5 235.6 1083.7 235.8 1078C235.9 1072.3 236.2 1066.6 237 1061C237.8 1055.4 238.9 1049.7 240.7 1044.4C242.6 1039.1 244.9 1033.7 248 1029.3C251.2 1024.9 255.1 1020.7 259.6 1017.8C264 1015 269.5 1013.1 274.6 1012.3C279.6 1011.4 284.8 1011.9 290.1 1012.9C295.3 1013.9 300.9 1016 305.9 1018.5C310.9 1021 315.6 1024.4 320 1027.9C324.4 1031.4 328.5 1035.5 332.5 1039.5C336.5 1043.6 340.3 1047.9 344 1052.2C347.7 1056.5 351.4 1060.8 354.7 1065.4C358.1 1070 361.3 1074.9 364.2 1079.6C367.1 1084.3 369.6 1088.7 372.1 1093.6C374.7 1098.5 377.2 1103.8 379.6 1109C382 1114.1 384.2 1119.4 386.6 1124.5C388.9 1129.7 391.2 1134.9 393.9 1140C396.5 1145 399.3 1150 402.5 1154.7C405.7 1159.4 409.1 1164 412.9 1168.2C416.7 1172.4 421 1176.3 425.4 1179.7C429.7 1183.1 434 1185.8 438.9 1188.4C443.8 1190.9 449.3 1193.1 454.6 1194.8C460 1196.6 465.6 1198 471.2 1198.9C476.8 1199.8 482.5 1200.1 488.1 1200.3C493.8 1200.5 499.5 1200 505.2 1199.9C510.9 1199.7 516.6 1199.4 522.3 1199.4C527.9 1199.3 533.8 1199.4 539.3 1199.8C544.8 1200.1 549.9 1200.6 555.3 1201.5C560.8 1202.4 566.6 1203.5 571.9 1205.3C577.3 1207 583 1209 587.3 1212.2C591.6 1215.4 596.3 1219.9 597.7 1224.5C599.1 1229.2 597.9 1235.3 595.8 1240.1C593.7 1244.9 589.2 1249.2 585.2 1253.1C581.2 1257.1 576.2 1260.4 572 1263.9C567.8 1267.4 562.9 1270.2 559.9 1274.3C556.8 1278.5 553.7 1284 553.7 1288.9C553.7 1293.8 556.8 1299.3 559.9 1303.8C563 1308.2 568.1 1311.6 572.1 1315.6C576.1 1319.6 580.9 1323.2 583.9 1327.7C586.9 1332.2 590.1 1337.9 590 1342.7C590 1347.5 586.9 1353.2 583.4 1356.7C580 1360.2 574.5 1361.9 569.4 1363.4C564.2 1365 558.2 1365.1 552.6 1366C547 1367 540.9 1367.1 535.9 1369.1C530.8 1371.1 525.3 1373.9 522.3 1378C519.3 1382 518.2 1388.1 517.9 1393.5C517.5 1398.9 519.2 1404.7 520 1410.3C520.9 1415.9 522.2 1421.6 523.1 1427.1C524 1432.6 524.7 1437.6 525.4 1443.1C526 1448.5 526.6 1454.4 526.9 1460.1C527.1 1465.7 527.2 1471.4 527 1477.1C526.8 1482.8 526.3 1488.5 525.8 1494.1C525.2 1499.8 524.5 1505.4 523.5 1511C522.6 1516.6 521.4 1522.2 519.9 1527.6C518.4 1533.1 516.5 1538.6 514.4 1543.7C512.3 1548.8 510.2 1553.3 507.4 1558.1C504.7 1562.8 501.5 1567.7 498.1 1572.2C494.6 1576.6 490.8 1580.9 486.7 1584.7C482.7 1588.6 478.2 1592.1 473.6 1595.3C468.9 1598.5 464 1601.3 458.9 1603.7C453.9 1606.2 448.6 1608.3 443.2 1610C437.9 1611.8 432.2 1613.2 426.8 1614.3Z" fill="none" stroke="#00BB00" stroke-width="1.5"/>
<path d="M172.8 980.8C177.2 977.5 181.3 974.6 186 971.7C190.7 968.8 195.8 965.9 200.9 963.7C206 961.4 211.4 959.4 216.8 957.9C222.2 956.5 227.8 955.4 233.4 954.9C239 954.3 244.7 954.2 250.3 954.5C255.9 954.9 261.5 955.7 267 956.9C272.5 958.1 278.1 959.8 283.2 961.7C288.4 963.6 293 965.6 297.9 968.1C302.8 970.6 307.9 973.6 312.6 976.6C317.4 979.7 322 983 326.5 986.5C331 989.9 335.4 993.6 339.6 997.3C343.9 1001.1 348.1 1005 352 1009.1C356 1013.2 359.7 1017.4 363.3 1021.9C366.8 1026.3 370.2 1031.1 373.2 1035.7C376.3 1040.3 378.9 1044.7 381.7 1049.5C384.4 1054.3 387.2 1059.4 389.6 1064.5C392.1 1069.7 394.3 1075 396.5 1080.2C398.8 1085.4 400.9 1090.7 403.3 1095.8C405.7 1101 408.2 1106.2 411 1111C413.9 1115.9 416.6 1121.3 420.5 1125.1C424.4 1128.9 429.3 1132.4 434.2 1133.7C439.1 1135 444.5 1134.1 449.8 1133.1C455.1 1132 460.5 1129.4 465.8 1127.4C471.1 1125.4 476.4 1123.1 481.7 1121C487 1119 492.3 1116.9 497.7 1115C503 1113.1 508.5 1111.4 513.9 1109.9C519.4 1108.4 525 1107 530.5 1105.9C536.1 1104.8 541.9 1103.7 547.3 1103C552.8 1102.4 557.9 1101.8 563.4 1102.1C568.8 1102.4 574.8 1103.2 580.1 1104.8C585.4 1106.4 590.8 1108.7 595.3 1111.7C599.9 1114.7 604.2 1118.6 607.5 1122.8C610.8 1127.1 613.5 1132.2 615.1 1137.3C616.7 1142.4 617.3 1148.1 617 1153.6C616.7 1159 615.1 1164.8 613.3 1169.9C611.5 1175 609 1179.6 606.3 1184.4C603.6 1189.1 600.3 1194 596.9 1198.6C593.5 1203.2 589.9 1207.6 586 1211.7C582.2 1215.9 578 1219.8 573.7 1223.5C569.4 1227.2 564.9 1230.8 560.4 1234.2C555.9 1237.6 551.1 1240.8 546.5 1244.1C541.9 1247.5 536.9 1250.6 532.8 1254.2C528.6 1257.8 524.3 1261.1 521.6 1265.6C519 1270 516.9 1275.9 516.9 1281.1C516.8 1286.4 519.1 1292.1 521.4 1297.1C523.8 1302.1 527.6 1306.5 531 1311.1C534.4 1315.6 538.3 1319.8 541.8 1324.3C545.3 1328.8 548.7 1333.3 552 1338C555.3 1342.6 558.6 1347.4 561.6 1352.1C564.6 1356.8 567.2 1361.1 569.9 1365.9C572.5 1370.8 575.3 1376 577.6 1381.2C579.9 1386.3 582.2 1391.6 583.8 1397C585.5 1402.4 587 1408 587.7 1413.6C588.3 1419.1 588.6 1425 587.7 1430.3C586.8 1435.7 585 1441.2 582.3 1445.7C579.5 1450.2 575.4 1454.3 571.2 1457.2C566.9 1460.2 562.1 1462 556.9 1463.4C551.8 1464.7 545.8 1465.3 540.2 1465.2C534.6 1465.2 528.9 1464.1 523.4 1462.8C517.9 1461.6 512.5 1459.7 507.1 1457.8C501.8 1455.9 496.5 1453.6 491.3 1451.4C486.1 1449.1 480.9 1446.8 475.9 1444.1C470.8 1441.5 465.8 1438.5 461.2 1435.5C456.5 1432.5 452.4 1429.5 448 1426.2C443.5 1422.9 439 1419.3 434.6 1415.7C430.1 1412.1 425.9 1408.3 421.5 1404.6C417.1 1401 412.8 1397.3 408.2 1393.9C403.7 1390.6 399 1387.3 394.1 1384.4C389.2 1381.6 384.1 1378.8 378.9 1376.7C373.6 1374.6 368 1372.9 362.6 1371.8C357.3 1370.6 352.2 1370 346.7 1369.9C341.2 1369.7 335.3 1370.1 329.7 1370.8C324.1 1371.6 318.5 1372.8 313 1374.4C307.6 1376 302.3 1378.2 297.1 1380.5C292 1382.8 287 1385.6 281.9 1388.2C276.9 1390.8 271.9 1393.6 266.8 1396.1C261.7 1398.6 256.4 1401.1 251.3 1403.1C246.1 1405.2 241.4 1407 236.1 1408.5C230.8 1410.1 225.1 1411.7 219.5 1412.4C213.9 1413.1 207.9 1413.8 202.6 1412.8C197.3 1411.7 191.2 1409.7 187.9 1406.1C184.6 1402.6 183.1 1396.5 182.9 1391.3C182.7 1386.1 184.9 1380.3 186.8 1375C188.6 1369.7 191.7 1364.6 194 1359.5C196.3 1354.5 199.4 1350 200.4 1344.9C201.3 1339.8 201.8 1333.5 199.6 1329C197.5 1324.6 192.3 1321.1 187.6 1318.4C182.9 1315.7 176.8 1314.9 171.5 1313C166.2 1311.2 160.2 1310 155.6 1307.2C150.9 1304.4 145.6 1300.8 143.6 1296.4C141.5 1292 141.8 1285.5 143.4 1280.9C145 1276.3 149.2 1272.4 153.2 1268.7C157.1 1265.1 162.6 1262.4 167.2 1259.1C171.8 1255.8 177.2 1253 180.9 1249.1C184.6 1245.1 188.3 1240.2 189.3 1235.2C190.2 1230.3 188.5 1224.3 186.5 1219.3C184.5 1214.3 180.5 1209.8 177.3 1205.1C174.1 1200.4 170.4 1195.8 167.2 1191.3C164.1 1186.8 161.2 1182.6 158.3 1177.9C155.3 1173.2 152.2 1168.2 149.5 1163.2C146.8 1158.2 144.3 1153.1 142 1147.9C139.7 1142.7 137.7 1137.4 135.8 1132.1C133.8 1126.7 132 1121.3 130.4 1115.9C128.9 1110.4 127.5 1104.9 126.5 1099.3C125.5 1093.8 124.8 1088 124.5 1082.5C124.1 1077 124.1 1072 124.5 1066.5C124.9 1061 125.6 1055.2 126.8 1049.7C128 1044.2 129.6 1038.8 131.6 1033.5C133.6 1028.3 136.1 1023.1 138.9 1018.3C141.7 1013.4 144.9 1008.7 148.4 1004.3C151.9 999.9 155.8 995.7 159.8 991.8C163.9 987.9 168.4 984.2 172.8 980.8Z" fill="none" stroke="#AA00CC" stroke-width="1.5"/>
<text x="413.7" y="896" textLength="94.6" lengthAdjust="spacingAndGlyphs">Clade II</text>
<text x="404" y="924.6" textLength="114.4" lengthAdjust="spacingAndGlyphs">(291,720)</text>
<text x="61.6" y="952.3" textLength="88" lengthAdjust="spacingAndGlyphs">Clade I</text>
<text x="46.6" y="979.6" textLength="118.4" lengthAdjust="spacingAndGlyphs">(318,980)</text>
<text x="570.8" y="1025.8" textLength="101.6" lengthAdjust="spacingAndGlyphs">Clade III</text>
<text x="570.8" y="1053.5" textLength="101.6" lengthAdjust="spacingAndGlyphs">(95,014)</text>
<text x="9.7" y="1093.2" textLength="112.6" lengthAdjust="spacingAndGlyphs">Clade VII</text>
<text x="7.9" y="1120.4" textLength="116.6" lengthAdjust="spacingAndGlyphs">(234,169)</text>
<text x="543.5" y="1538.5" textLength="103.4" lengthAdjust="spacingAndGlyphs">Clade IV</text>
<text x="540.4" y="1567.1" textLength="110.9" lengthAdjust="spacingAndGlyphs">(174,301)</text>
<text x="132" y="1586" textLength="104.3" lengthAdjust="spacingAndGlyphs">Clade VI</text>
<text x="126.7" y="1614.2" textLength="115.3" lengthAdjust="spacingAndGlyphs">(192,995)</text>
<text x="363" y="1649.4" textLength="96.9" lengthAdjust="spacingAndGlyphs">Clade V</text>
<text x="356.4" y="1677.1" textLength="110.9" lengthAdjust="spacingAndGlyphs">(133,331)</text>
<text x="161.9" y="1021.4" textLength="88.1" lengthAdjust="spacingAndGlyphs">50,593</text>
<text x="414.5" y="990.6" textLength="87.2" lengthAdjust="spacingAndGlyphs">25,468</text>
<text x="631.5" y="1165.3" textLength="55" lengthAdjust="spacingAndGlyphs">1,131</text>
<text x="26.4" y="1250.3" textLength="82.3" lengthAdjust="spacingAndGlyphs">32,301</text>
<text x="324.8" y="1272.3" textLength="90.2" lengthAdjust="spacingAndGlyphs">34,930</text>
<text x="595" y="1428.5" textLength="69.5" lengthAdjust="spacingAndGlyphs">8,784</text>
<text x="117.9" y="1484.8" textLength="75.7" lengthAdjust="spacingAndGlyphs">14,671</text>
<text x="366.6" y="1568" textLength="72.6" lengthAdjust="spacingAndGlyphs">6,698</text>
</g>
<g id="pe">
<text x="5.5" y="1778" font-size="41.5" font-weight="bold" stroke="#000" stroke-width="0.8">e</text>
<text x="104.8" y="1819.8" font-style="italic" textLength="166.9" lengthAdjust="spacingAndGlyphs">M. floribunda</text>
<text x="105.5" y="1845.5" textLength="166.2" lengthAdjust="spacingAndGlyphs">h2tg000081l</text>
<text x="329.3" y="1797.6" textLength="119" lengthAdjust="spacingAndGlyphs">4,410,355</text>
<text x="472" y="1797.6" textLength="119" lengthAdjust="spacingAndGlyphs">4,414,388</text>
<text x="619.8" y="1797.6" textLength="117.2" lengthAdjust="spacingAndGlyphs">4,419,570</text>
<text x="784.5" y="1797.6" textLength="119.6" lengthAdjust="spacingAndGlyphs">4,427,037</text>
<text x="979.8" y="1797.6" textLength="127.4" lengthAdjust="spacingAndGlyphs">4,446,450</text>
<text x="1114.8" y="1797.6" textLength="124.3" lengthAdjust="spacingAndGlyphs">4,449,497</text>
<text x="1294.8" y="1797.6" textLength="116.1" lengthAdjust="spacingAndGlyphs">4,495,011</text>
<text x="1433.2" y="1797.6" textLength="122.6" lengthAdjust="spacingAndGlyphs">4,497,953</text>
<text x="1598.6" y="1797.6" textLength="123.1" lengthAdjust="spacingAndGlyphs">4,552,265</text>
<text x="1748.7" y="1797.6" textLength="117.8" lengthAdjust="spacingAndGlyphs">4,555,153</text>
<line x1="309.3" y1="1823" x2="1893.5" y2="1823" stroke="#8C8C8C" stroke-width="2"/>
<rect x="943.8" y="1819" width="18" height="8" fill="#fff"/>
<path d="M945.3 1827.5l4.5 -9M953.8 1827.5l4.5 -9" stroke="#222" stroke-width="1.3" fill="none"/>
<rect x="1258.3" y="1819" width="18" height="8" fill="#fff"/>
<path d="M1259.8 1827.5l4.5 -9M1268.3 1827.5l4.5 -9" stroke="#222" stroke-width="1.3" fill="none"/>
<rect x="1570.2" y="1819" width="18" height="8" fill="#fff"/>
<path d="M1571.7 1827.5l4.5 -9M1580.2 1827.5l4.5 -9" stroke="#222" stroke-width="1.3" fill="none"/>
<rect x="430.6" y="1810.2" width="97.5" height="26" fill="#1A1AB0"/>
<rect x="652.6" y="1810.2" width="180" height="26" fill="#1A1AB0"/>
<path d="M1073.8 1823.3L1086.8 1810.3H1146.5V1836.5H1086.8Z" fill="#666"/>
<path d="M1387.5 1823.3L1400.5 1810.3H1457.8V1836.5H1400.5Z" fill="#8B00A0"/>
<path d="M1699.4 1823.3L1712.4 1810.3H1768.6V1836.5H1712.4Z" fill="#666"/>
<text x="417.6" y="1867.4" fill="#1A1AB0" textLength="123.5" lengthAdjust="spacingAndGlyphs">s2410094</text>
<text x="680.1" y="1867.4" fill="#1A1AB0" textLength="123.2" lengthAdjust="spacingAndGlyphs">s2410096</text>
<text x="1072" y="1867.8" font-style="italic" textLength="82.7" lengthAdjust="spacingAndGlyphs">HcrVf1</text>
<text x="1381.6" y="1867.8" font-style="italic" fill="#8B00A0" textLength="85.6" lengthAdjust="spacingAndGlyphs">HcrVf2</text>
<text x="1691.2" y="1867.8" font-style="italic" textLength="87.4" lengthAdjust="spacingAndGlyphs">HcrVf4</text>
<path d="M430.6 1830V1933.6H738.8V1949" stroke="#000" stroke-width="1.6" fill="none" stroke-dasharray="8.5 5.5"/>
<path d="M528.1 1830V1919.3H903V1949" stroke="#000" stroke-width="1.6" fill="none" stroke-dasharray="8.5 5.5"/>
<path d="M653.6 1830V1890.2H1466.6V2023" stroke="#000" stroke-width="1.6" fill="none" stroke-dasharray="8.5 5.5"/>
<path d="M832.6 1830V1876H1768.6V2023" stroke="#000" stroke-width="1.6" fill="none" stroke-dasharray="8.5 5.5"/>
<line x1="237.5" y1="2133.5" x2="1977" y2="2133.5" stroke="#777" stroke-width="1.2"/>
<path d="M671.43 1967.74H684.86M721.11 1967.74H736.46M747.55 1967.74H804.05M815.35 1967.74H893.18M904.48 1967.74H920.9M686.35 1982.67H693.18M695.31 1982.67H709.81M711.94 1982.67H718.76M798.29 1982.67H820.68M653.3 1998.66H660.34M669.72 1998.66H886.78M905.54 1998.66H929M856.5 2014.22H907.68M923.67 2014.22H930.06M856.93 2029.15H901.71M909.17 2029.15H916.2M822.39 2044.5H829.21M876.55 2044.5H931.56M723.24 2060.06H792.96M801.07 2060.06H849.04M856.5 2060.06H862.9M868.66 2060.06H875.05M881.45 2060.06H887.85M895.31 2060.06H901.71M911.3 2060.06H929M869.08 2075.63H889.55M869.08 2090.98H895.31M912.37 2090.98H929M643.71 2106.55H660.34M671.86 2106.55H678.89M689.98 2106.55H836.67M871.86 2106.55H889.98M903.84 2106.55H927.29M671.86 2119.77H678.89M850.53 2119.77H857.36M896.38 2119.77H903.2M650.11 2149.19H657.57M660.77 2149.19H672.49M676.12 2149.19H683.58M739.66 2149.19H746.7M840.94 2149.19H848.4M880.81 2149.19H887.85M988.06 2149.19H995.52M660.77 2163.05H672.49M739.66 2163.05H746.7M750.32 2163.05H757.36M775.91 2163.05H818.55M651.17 2177.33H681.66M739.66 2177.33H746.7M760.98 2177.33H768.44M782.3 2177.33H789.34M811.09 2177.33H818.55M832.84 2177.33H839.87M854.37 2177.33H933.69M949.25 2177.33H1000M651.17 2190.55H681.66M729 2195.03H735.39M739.66 2195.03H746.7M750.32 2195.03H757.36M772.28 2195.03H779.1M782.3 2195.03H789.34M793.6 2195.03H807.89M811.09 2195.03H818.55M822.17 2195.03H829.21M832.84 2195.03H839.87M844.14 2195.03H851.17M855.86 2195.03H884.65M640.94 2211.02H870.79M879.32 2211.02H886.78M660.34 2226.38H844.14M889.98 2226.38H897.01M910.23 2226.38H1000M1323.28 2074.86H1344.18M1310.49 2090.64H1317.53M1119.66 2106.84H1304.09M1314.75 2106.84H1326.48M1232.67 2120.06H1252.92M1277.01 2120.06H1284.9M1332.88 2120.06H1339.91M1053.13 2148.85H1060.6M1100.47 2148.85H1126.06M1143.54 2148.85H1155.91M1228.4 2148.85H1258.25M1000.04 2178.7H1336.72M1223.07 2194.69H1311.13M1325.84 2194.69H1333.3M1127.12 2192.56H1134.58M1064.22 2210.04H1071.68M1095.14 2210.04H1102.6M1117.53 2210.04H1123.92M1127.12 2210.04H1134.58M1138.21 2210.04H1154.84M1245.03 2210.04H1288.74M1293.43 2210.04H1322.86M1000.04 2226.25H1060.6M1064.22 2226.25H1071.68M1075.31 2226.25H1091.51M1106.44 2226.25H1113.26M1159.1 2226.25H1246.52M1255.05 2226.25H1268.27M1279.57 2226.25H1287.04M1298.34 2226.25H1339.91M1268.91 2241.6H1279.57M1451.3 2042.67H1548.96M1488.19 2058.66H1522.73M1489.89 2074.65H1568.14M1340 2090.64H1346.4M1350.02 2090.64H1389.47M1445.97 2090.64H1481.15M1493.09 2090.64H1500.34M1340 2106.84H1346.4M1475.39 2106.84H1482.43M1344.69 2148.85H1366.01M1414.63 2148.85H1424.65M1439.57 2148.85H1536.16M1622.94 2148.85H1629.98M1690.11 2148.85H1697.14M1340 2163.13H1400.77M1438.51 2163.13H1516.97M1345.33 2178.7H1352.37M1346.4 2210.04H1375.82M1400.34 2210.04H1488.19M1499.28 2210.04H1506.74M1517.61 2210.04H1525.07M1340 2226.25H1422.73M1499.28 2226.25H1506.74" stroke="#D9D9D9" stroke-width="6.6" fill="none"/>
<path d="M653.3 1998.66C651 2000.36 642.82 2004.34 639.45 2008.89C636.07 2013.44 633.76 2017.78 633.05 2025.95C632.34 2034.12 633.58 2046.2 635.18 2057.93C636.78 2069.66 641.22 2085.65 642.64 2096.31C644.07 2106.97 643.89 2115.68 643.71 2121.9C643.53 2128.12 641.93 2131.67 641.58 2133.62M686.35 1982.67C684.04 1983.66 675.87 1984.98 672.49 1988.64C669.12 1992.3 667.52 1996.63 666.1 2004.63C664.68 2012.62 664.61 2024.17 663.97 2036.61C663.33 2049.05 663.86 2066.11 662.26 2079.25C660.66 2092.4 657.82 2106.44 654.37 2115.5C650.92 2124.56 643.71 2130.6 641.58 2133.62M671.43 1967.74C670.72 1968.38 668.05 1968.63 667.16 1971.58C666.28 1974.53 666.99 1980.92 666.1 1985.44C665.21 1989.95 662.54 1996.45 661.83 1998.66M684.86 1967.74C686 1968.38 690.19 1969.09 691.68 1971.58C693.18 1974.07 693.46 1980.82 693.82 1982.67M718.76 1982.67C720.11 1983.66 725.23 1985.33 726.87 1988.64C728.5 1991.94 729.1 1995.21 728.57 2002.49C728.04 2009.78 726.62 2020.26 723.67 2032.35C720.72 2044.43 715.67 2061.13 710.87 2074.99C706.08 2088.85 698.26 2105.73 694.88 2115.5C691.51 2125.27 691.33 2130.6 690.62 2133.62M721.11 1967.74C719.94 1968.2 715.71 1968.02 714.07 1970.51C712.44 1973 711.76 1980.64 711.3 1982.67M660.34 1998.66L669.72 1998.66M886.78 1998.66L905.54 1998.66M736.46 1967.74L747.55 1967.74M893.18 1967.74L904.48 1967.74M736.46 1953.45C736.46 1954.16 735.82 1956.3 736.46 1957.72C737.1 1959.14 739.94 1960.31 740.3 1961.98C740.65 1963.65 738.88 1966.78 738.59 1967.74M902.77 1953.45C903.06 1954.16 904.83 1956.12 904.48 1957.72C904.12 1959.32 900.75 1961.38 900.64 1963.05C900.53 1964.72 903.3 1966.96 903.84 1967.74M804.05 1967.74L815.35 1967.74M804.69 1968.38C805.22 1969.09 809.13 1970.69 807.89 1972.64C806.65 1974.6 798.83 1978.44 797.23 1980.11C795.63 1981.78 798.12 1982.24 798.29 1982.67M814.93 1968.38C814.46 1969.09 811.02 1970.69 812.15 1972.64C813.29 1974.6 820.33 1978.44 821.75 1980.11C823.17 1981.78 820.86 1982.24 820.68 1982.67M723.24 2060.06C722.07 2061.31 717.73 2064.33 716.2 2067.53C714.68 2070.72 713.89 2073.75 714.07 2079.25C714.25 2084.76 716.03 2093.47 717.27 2100.58C718.51 2107.68 721.18 2116.39 721.54 2121.9C721.89 2127.41 719.76 2131.67 719.4 2133.62M920.9 1967.74C922.67 1968.73 928.89 1969.34 931.56 1973.71C934.22 1978.08 935.57 1986.33 936.89 1993.97C938.2 2001.61 939.62 2008.89 939.45 2019.55C939.27 2030.21 936.25 2045.14 935.82 2057.93C935.39 2070.72 936 2085.65 936.89 2096.31C937.78 2106.97 939.73 2115.68 941.15 2121.9C942.57 2128.12 944.71 2131.67 945.42 2133.62M929 1998.66C930.31 1999.65 935.22 2001.14 936.89 2004.63C938.56 2008.11 939.37 2010.67 939.02 2019.55C938.66 2028.44 935.29 2045.85 934.75 2057.93C934.22 2070.01 934.93 2082.1 935.82 2092.05C936.71 2102 938.66 2110.88 940.09 2117.63C941.51 2124.39 943.64 2130.07 944.35 2132.56M856.5 2014.22C855.76 2015.82 852.67 2017.95 852.03 2023.82C851.39 2029.68 853.09 2043.36 852.67 2049.4C852.24 2055.44 850 2058.29 849.47 2060.06M856.93 2029.15C856.47 2030.04 852.2 2031.63 854.16 2034.48C856.11 2037.32 861.98 2042.65 868.66 2046.2C875.34 2049.76 887.31 2053.49 894.24 2055.8C901.17 2058.11 907.57 2059.35 910.23 2060.06M792.96 2060.06C793.67 2058.46 794.92 2052.89 797.23 2050.47C799.54 2048.05 802.63 2046.56 806.82 2045.57C811.02 2044.57 819.79 2044.68 822.39 2044.5M829.21 2044.5C835.43 2044.78 856.04 2044.85 866.52 2046.2C877.01 2047.56 884.65 2050.29 892.11 2052.6C899.57 2054.91 908.1 2058.82 911.3 2060.06M876.55 2044.5C875.76 2044.96 871.75 2045.57 871.86 2047.27C871.96 2048.98 876.01 2052.6 877.19 2054.73C878.36 2056.87 878.61 2059.18 878.89 2060.06M907.68 2014.22L923.67 2014.22M930.06 2014.22C930.67 2013.69 933.97 2012.09 933.69 2011.02C933.4 2009.96 932.44 2008.61 928.36 2007.83C924.27 2007.04 913.61 2007.4 909.17 2006.33C904.73 2005.27 902.31 2002.71 901.71 2001.43C901.1 2000.15 904.9 1999.12 905.54 1998.66M901.71 2029.15L909.17 2029.15M916.2 2029.15C916.81 2028.08 919.4 2024.88 919.83 2022.75C920.26 2020.62 918.12 2017.78 918.76 2016.35C919.4 2014.93 922.85 2014.58 923.67 2014.22M909.17 2029.15C908.64 2030.04 904.9 2032.7 905.97 2034.48C907.04 2036.25 911.48 2038.74 915.57 2039.81C919.65 2040.87 927.83 2040.09 930.49 2040.87C933.16 2041.66 931.38 2043.89 931.56 2044.5M849.04 2060.06L856.5 2060.06M862.9 2060.06L868.66 2060.06M875.05 2060.06L881.45 2060.06M887.85 2060.06L895.31 2060.06M901.71 2060.06L911.3 2060.06M863.33 2060.49C863.68 2063.26 865.28 2072.57 865.46 2077.12C865.64 2081.67 863.79 2085.47 864.39 2087.78C865 2090.09 868.3 2090.45 869.08 2090.98M864.39 2063.26C864.75 2064.68 865.74 2069.73 866.52 2071.79C867.31 2073.85 868.66 2074.99 869.08 2075.63M889.55 2075.63C891.4 2076.23 897.9 2077.23 900.64 2079.25C903.38 2081.28 904.02 2085.83 905.97 2087.78C907.92 2089.74 911.3 2090.45 912.37 2090.98M895.31 2090.98L912.37 2090.98M929 2060.06C930.24 2061.13 935.15 2062.55 936.46 2066.46C937.78 2070.37 936.99 2077.83 936.89 2083.52C936.78 2089.2 934.68 2092.4 935.82 2100.58C936.96 2108.75 942.4 2127.23 943.71 2132.56M929 2090.98C929.96 2091.51 933.08 2090.45 934.75 2094.18C936.43 2097.91 937.6 2107.15 939.02 2113.37C940.44 2119.59 942.57 2128.47 943.28 2131.49M660.34 2106.55L671.86 2106.55M678.89 2106.55L689.98 2106.55M661.83 2106.55C662.37 2108.04 663.36 2113.3 665.03 2115.5C666.7 2117.7 670.72 2119.05 671.86 2119.77M678.89 2119.77C679.96 2119.23 683.87 2118.77 685.29 2116.57C686.71 2114.36 687.06 2108.22 687.42 2106.55M643.71 2106.55C642.29 2107.33 635.89 2108.5 635.18 2111.24C634.47 2113.97 638.2 2119.23 639.45 2122.96C640.69 2126.7 642.11 2131.85 642.64 2133.62M836.67 2106.55L871.86 2106.55M837.74 2106.55C838.27 2108.39 838.81 2115.43 840.94 2117.63C843.07 2119.84 848.93 2119.41 850.53 2119.77M857.36 2119.77C859.06 2119.41 865.35 2119.84 867.59 2117.63C869.83 2115.43 870.26 2108.39 870.79 2106.55M889.98 2106.55L903.84 2106.55M893.82 2106.55C893.99 2108.04 894.46 2113.3 894.88 2115.5C895.31 2117.7 896.13 2119.05 896.38 2119.77M903.2 2119.77C903.66 2121.19 905.15 2125.98 905.97 2128.29C906.79 2130.6 907.75 2132.74 908.1 2133.62M927.29 2106.55C928 2107.33 930.85 2109.03 931.56 2111.24C932.27 2113.44 931.56 2118.34 931.56 2119.77M918.34 2133.62C918.87 2132.56 920.75 2129.54 921.54 2127.23C922.32 2124.92 922.78 2121.01 923.03 2119.77M929 2119.77L934.12 2119.77M623.03 2133.62L628.14 2133.62M640.09 2133.62L643.71 2133.62M651.17 2133.62L655.86 2133.62M677.19 2133.62L682.09 2133.62M689.13 2133.62L693.39 2133.62M718.76 2133.62L723.24 2133.62M837.31 2133.62L852.67 2133.62M875.69 2133.62L880.38 2133.62M888.91 2133.62L893.82 2133.62M903.84 2133.62L908.53 2133.62M918.34 2133.62L945.42 2133.62M982.73 2133.62L986.99 2133.62M837.74 2133.62C837.85 2135.58 837.85 2142.76 838.38 2145.35C838.91 2147.95 840.51 2148.55 840.94 2149.19M848.4 2149.19C848.93 2148.55 850.96 2147.95 851.6 2145.35C852.24 2142.76 852.13 2135.58 852.24 2133.62M876.55 2133.62C876.65 2135.65 876.47 2143.18 877.19 2145.78C877.9 2148.37 880.21 2148.62 880.81 2149.19M887.85 2149.19C888.56 2148.55 891.33 2147.95 892.11 2145.35C892.89 2142.76 892.47 2135.58 892.54 2133.62M983.16 2133.62C983.26 2135.65 982.98 2143.18 983.8 2145.78C984.61 2148.37 987.35 2148.62 988.06 2149.19M995.52 2149.19C996.06 2148.55 998.12 2147.77 998.72 2145.35C999.32 2142.94 999.08 2136.47 999.15 2134.69M903.84 2133.62C904.02 2135.22 902.24 2140.27 904.9 2143.22C907.57 2146.17 910.23 2149.37 919.83 2151.32C929.42 2153.28 949.11 2154.34 962.47 2154.95C975.84 2155.55 993.75 2154.95 1000 2154.95M641.58 2134.26C643.18 2135.58 643.89 2140.66 651.17 2142.15C658.46 2143.65 673.92 2142.33 685.29 2143.22C696.66 2144.11 710.34 2146.49 719.4 2147.48C728.46 2148.48 736.28 2148.91 739.66 2149.19M746.7 2149.19C747.12 2149.97 748.83 2151.57 749.25 2153.88C749.68 2156.19 749.25 2161.52 749.25 2163.05M642.64 2135.12C646.2 2136.11 653.3 2139.74 663.97 2141.09C674.63 2142.44 688.84 2142.15 706.61 2143.22C724.38 2144.29 749.25 2145.35 770.58 2147.48C791.9 2149.62 813.22 2153.17 834.54 2156.01C855.86 2158.86 882.16 2161.7 898.51 2164.54C914.85 2167.38 924.16 2170.76 932.62 2173.07C941.08 2175.38 946.48 2177.51 949.25 2178.4M623.45 2133.62C624.16 2135.22 627.08 2134.51 627.72 2143.22C628.36 2151.93 626.58 2175.56 627.29 2185.86C628 2196.17 629.71 2200.86 631.98 2205.05C634.26 2209.25 639.45 2210.03 640.94 2211.02M624.52 2134.69C625.76 2136.82 630.74 2137.18 631.98 2147.48C633.23 2157.79 630.21 2184.09 631.98 2196.52C633.76 2208.96 637.92 2217.14 642.64 2222.11C647.37 2227.09 657.39 2225.66 660.34 2226.38M641.15 2135.76C641.04 2140.55 640.55 2156.9 640.51 2164.54C640.48 2172.18 639.16 2177.26 640.94 2181.6C642.71 2185.93 649.47 2189.06 651.17 2190.55M681.66 2190.55C683.51 2189.59 690.8 2189.13 692.75 2184.8C694.71 2180.46 693.5 2173.07 693.39 2164.54C693.28 2156.01 692.32 2138.78 692.11 2133.62M681.66 2177.33C683.16 2176.62 688.77 2176.62 690.62 2173.07C692.47 2169.52 692.4 2158.86 692.75 2156.01M651.17 2177.33C650.75 2176.27 647.73 2173.07 648.61 2170.94C649.5 2168.81 654.66 2167.92 656.5 2164.54C658.35 2161.17 659.17 2152.99 659.7 2150.68M672.49 2149.19L676.12 2149.19M657.57 2149.19L660.77 2149.19M674.63 2149.62C674.8 2151.39 676.05 2158.04 675.69 2160.28C675.34 2162.52 673.03 2162.59 672.49 2163.05M658.64 2149.62C658.39 2151.32 656.79 2157.61 657.14 2159.85C657.5 2162.09 660.16 2162.52 660.77 2163.05M683.58 2149.19C685.29 2151.75 689.98 2158.43 693.82 2164.54C697.65 2170.65 700.75 2180.78 706.61 2185.86C712.47 2190.95 725.27 2193.5 729 2195.03M684.22 2143.22C687.24 2145.71 695.77 2154.95 702.35 2158.14C708.92 2161.34 717.45 2161.59 723.67 2162.41C729.89 2163.23 736.99 2162.94 739.66 2163.05M757.36 2163.05C757.78 2163.65 759.49 2164.29 759.91 2166.67C760.34 2169.05 760.27 2172.61 759.91 2177.33C759.56 2182.06 758.14 2192.08 757.78 2195.03M746.7 2163.05L750.32 2163.05M775.91 2163.05C775.02 2163.65 771.64 2164.29 770.58 2166.67C769.51 2169.05 769.44 2172.61 769.51 2177.33C769.58 2182.06 770.75 2192.08 771 2195.03M818.55 2163.05C818.91 2163.65 820.15 2161.34 820.68 2166.67C821.22 2172 821.57 2190.31 821.75 2195.03M736.46 2195.03C736.46 2192.79 735.93 2184.55 736.46 2181.6C736.99 2178.65 739.13 2178.05 739.66 2177.33M746.7 2177.33C747.12 2178.05 748.83 2178.65 749.25 2181.6C749.68 2184.55 749.25 2192.79 749.25 2195.03M779.53 2195.03C779.64 2192.79 779.71 2184.55 780.17 2181.6C780.63 2178.65 781.95 2178.05 782.3 2177.33M789.34 2177.33C789.87 2178.05 791.93 2178.65 792.54 2181.6C793.14 2184.55 792.89 2192.79 792.96 2195.03M808.53 2195.03C808.6 2192.79 808.53 2184.55 808.96 2181.6C809.38 2178.65 810.73 2178.05 811.09 2177.33M818.55 2177.33C818.91 2178.05 820.15 2178.65 820.68 2181.6C821.22 2184.55 821.57 2192.79 821.75 2195.03M829.85 2195.03C829.92 2192.79 829.78 2184.55 830.28 2181.6C830.77 2178.65 832.41 2178.05 832.84 2177.33M839.87 2177.33C840.33 2178.05 842.11 2178.65 842.64 2181.6C843.18 2184.55 843 2192.79 843.07 2195.03M854.37 2177.33C853.91 2178.05 851.95 2178.65 851.6 2181.6C851.24 2184.55 851.53 2192.79 852.24 2195.03C852.95 2197.27 855.26 2195.03 855.86 2195.03M933.69 2177.33C934.22 2178.22 939.2 2178.4 936.89 2182.67C934.58 2186.93 924.63 2196.88 919.83 2202.92C915.03 2208.96 909.88 2215 908.1 2218.91C906.33 2222.82 908.99 2225.13 909.17 2226.38M884.65 2195.03C885.18 2195.35 888.91 2195.64 887.85 2196.95C886.78 2198.27 880.03 2200.58 878.25 2202.92C876.47 2205.27 877.36 2209.67 877.19 2211.02M852.67 2196.52C853.2 2197.24 852.31 2199.72 855.86 2200.79C859.42 2201.86 870.5 2201.22 873.99 2202.92C877.47 2204.63 876.3 2209.67 876.76 2211.02M870.79 2211.02L879.32 2211.02M886.78 2211.02C887.14 2211.81 888.38 2213.16 888.91 2215.71C889.45 2218.27 889.8 2224.6 889.98 2226.38M844.14 2226.38L889.98 2226.38M897.01 2226.38L910.23 2226.38M735.39 2195.03L739.66 2195.03M746.7 2195.03L750.32 2195.03M757.36 2195.03L772.28 2195.03M779.1 2195.03L782.3 2195.03M789.34 2195.03L793.6 2195.03M807.89 2195.03L811.09 2195.03M818.55 2195.03L822.17 2195.03M829.21 2195.03L832.84 2195.03M839.87 2195.03L844.14 2195.03M851.17 2195.03L855.86 2195.03M1000.04 2133.28L1339.91 2133.28M983.2 2133.28C983.3 2135.52 983.02 2144.12 983.84 2146.72C984.66 2149.31 987.39 2148.49 988.1 2148.85M995.35 2148.85C995.99 2148.49 998.48 2149.31 999.19 2146.72C999.9 2144.12 999.55 2135.52 999.62 2133.28M1047.8 2133.28C1047.95 2135.52 1047.77 2144.12 1048.66 2146.72C1049.55 2149.31 1052.39 2148.49 1053.13 2148.85M1060.6 2148.85C1061.45 2148.49 1064.75 2149.31 1065.71 2146.72C1066.67 2144.12 1066.25 2135.52 1066.35 2133.28M1095.14 2133.28C1095.32 2135.52 1095.32 2144.12 1096.2 2146.72C1097.09 2149.31 1099.76 2148.49 1100.47 2148.85M1126.06 2148.85L1143.54 2148.85M1155.91 2148.85C1156.72 2148.49 1159.92 2149.31 1160.81 2146.72C1161.7 2144.12 1161.17 2135.52 1161.24 2133.28M1126.06 2149.49C1129.43 2149.03 1140.98 2148.42 1146.31 2146.72C1151.64 2145.01 1155.91 2141.49 1158.04 2139.25C1160.17 2137.01 1158.93 2134.28 1159.1 2133.28M1224.14 2133.28C1224.31 2135.52 1224.49 2144.12 1225.2 2146.72C1225.91 2149.31 1227.87 2148.49 1228.4 2148.85M1258.25 2148.85C1258.78 2148.49 1260.85 2149.31 1261.45 2146.72C1262.05 2144.12 1261.81 2135.52 1261.88 2133.28M980 2154.61C994.21 2154.61 1033.3 2153.97 1065.29 2154.61C1097.27 2155.25 1139.91 2157.09 1171.9 2158.44C1203.88 2159.79 1232.31 2161.29 1257.19 2162.71C1282.06 2164.13 1304.8 2165.55 1321.15 2166.97C1337.5 2168.39 1349.4 2169.64 1355.27 2171.24C1361.13 2172.84 1356.87 2175.32 1356.33 2176.57C1355.8 2177.81 1352.78 2178.34 1352.07 2178.7M1119.66 2106.84C1118.77 2107.27 1113.44 2107.91 1114.33 2109.4C1115.22 2110.9 1115.39 2113.85 1124.99 2115.8C1134.58 2117.75 1156.97 2119.71 1171.9 2121.13C1186.82 2122.55 1204.41 2123.08 1214.54 2124.33C1224.67 2125.57 1229.11 2127.1 1232.67 2128.59C1236.22 2130.09 1235.33 2132.5 1235.86 2133.28M1304.09 2106.84C1305.16 2107.63 1310.14 2110.04 1310.49 2111.54C1310.85 2113.03 1311.56 2114.91 1306.23 2115.8C1300.9 2116.69 1287.39 2115.98 1278.51 2116.87C1269.62 2117.75 1259.67 2119.18 1252.92 2121.13C1246.17 2123.08 1240.84 2126.57 1238 2128.59C1235.15 2130.62 1236.22 2132.5 1235.86 2133.28M1232.67 2120.06C1232.2 2120.6 1229.72 2121.84 1229.89 2123.26C1230.07 2124.68 1232.74 2126.92 1233.73 2128.59C1234.73 2130.26 1235.51 2132.5 1235.86 2133.28M1252.92 2120.06C1253.35 2120.6 1255.84 2121.66 1255.48 2123.26C1255.12 2124.86 1251.75 2127.99 1250.79 2129.66C1249.83 2131.33 1249.9 2132.68 1249.72 2133.28M1277.01 2120.06C1276.62 2120.77 1274.78 2122.91 1274.67 2124.33C1274.56 2125.75 1276.52 2127.1 1276.38 2128.59C1276.23 2130.09 1274.24 2132.5 1273.82 2133.28M1284.9 2120.06C1285.33 2120.77 1287.29 2122.91 1287.46 2124.33C1287.64 2125.75 1285.69 2127.1 1285.97 2128.59C1286.25 2130.09 1288.64 2132.5 1289.17 2133.28M1310.49 2090.64C1310.14 2091.63 1308.18 2093.48 1308.36 2096.61C1308.54 2099.74 1310.67 2104.78 1311.56 2109.4C1312.44 2114.02 1313.87 2120.35 1313.69 2124.33C1313.51 2128.31 1311.02 2131.79 1310.49 2133.28M1317.53 2090.64L1349.51 2090.64M1323.28 2074.86C1322.86 2075.47 1320.97 2076.64 1320.72 2078.49C1320.48 2080.33 1322.15 2083.99 1321.79 2085.95C1321.44 2087.9 1319.13 2089.5 1318.59 2090.21M1344.18 2074.86C1344.68 2075.47 1346.81 2076.64 1347.16 2078.49C1347.52 2080.33 1345.96 2083.99 1346.31 2085.95C1346.67 2087.9 1348.8 2089.5 1349.3 2090.21M1314.75 2106.84C1314.22 2108.69 1311.91 2114.31 1311.56 2117.93C1311.2 2121.56 1312.8 2126.03 1312.62 2128.59C1312.44 2131.15 1310.85 2132.5 1310.49 2133.28M1326.48 2106.84L1339.91 2106.84M1336.72 2178.7L1345.03 2178.7M1342.47 2178.7C1342.3 2180.65 1342.94 2187.76 1341.41 2190.43C1339.88 2193.09 1334.66 2193.98 1333.3 2194.69M1325.84 2194.69L1324.99 2210.04M1322.86 2210.04L1339.91 2210.04M1223.07 2194.69C1222.54 2195.22 1219.16 2196.47 1219.87 2197.89C1220.58 2199.31 1223.14 2201.62 1227.33 2203.22C1231.53 2204.82 1242.08 2206.77 1245.03 2207.48M1311.13 2194.69C1311.56 2195.22 1314.86 2196.82 1313.69 2197.89C1312.52 2198.96 1307.47 2200.02 1304.09 2201.09C1300.72 2202.15 1295.39 2202.79 1293.43 2204.29C1291.48 2205.78 1292.54 2209.08 1292.37 2210.04M1245.03 2210.04C1244.39 2210.68 1240.23 2212.53 1241.19 2213.88C1242.15 2215.23 1249.01 2216.37 1250.79 2218.14C1252.57 2219.92 1252.57 2223.19 1251.86 2224.54C1251.14 2225.89 1247.41 2225.96 1246.52 2226.25M1288.74 2210.04L1293.43 2210.04M1269.98 2213.88C1272.11 2214.59 1279.75 2216.37 1282.77 2218.14C1285.79 2219.92 1287.39 2223.19 1288.1 2224.54C1288.81 2225.89 1287.21 2225.96 1287.04 2226.25M1292.37 2210.68C1292.19 2212.99 1292.01 2221.95 1291.3 2224.54C1290.59 2227.14 1286.93 2225.96 1288.1 2226.25C1289.28 2226.53 1296.63 2226.25 1298.34 2226.25M1246.52 2226.25L1255.05 2226.25M1268.27 2226.25L1279.57 2226.25M1269.55 2226.67C1269.69 2227.74 1270.69 2231.12 1270.41 2233.07C1270.12 2235.02 1268.1 2236.98 1267.85 2238.4C1267.6 2239.82 1268.73 2241.07 1268.91 2241.6M1278.51 2226.67C1278.44 2227.74 1277.73 2231.12 1278.08 2233.07C1278.44 2235.02 1280.39 2236.98 1280.64 2238.4C1280.89 2239.82 1279.75 2241.07 1279.57 2241.6M1060.6 2226.25L1064.22 2226.25M1071.68 2226.25L1075.31 2226.25M1091.51 2226.25L1106.44 2226.25M1113.26 2226.25L1159.1 2226.25M1061.02 2226.25C1061.09 2224.19 1060.92 2216.58 1061.45 2213.88C1061.98 2211.18 1063.76 2210.68 1064.22 2210.04M1071.68 2210.04C1072.11 2210.68 1073.78 2211.18 1074.24 2213.88C1074.71 2216.58 1074.42 2224.19 1074.46 2226.25M1091.94 2226.25C1092.05 2224.19 1092.05 2216.58 1092.58 2213.88C1093.11 2211.18 1094.71 2210.68 1095.14 2210.04M1102.6 2210.04C1103.06 2210.68 1104.84 2211.18 1105.37 2213.88C1105.91 2216.58 1105.73 2224.19 1105.8 2226.25M1113.69 2226.25C1113.8 2224.19 1113.69 2216.58 1114.33 2213.88C1114.97 2211.18 1116.99 2210.68 1117.53 2210.04M1123.92 2210.04L1127.12 2210.04M1134.58 2210.04L1138.21 2210.04M1154.84 2210.04C1155.3 2210.68 1157.08 2211.18 1157.61 2213.88C1158.14 2216.58 1157.97 2224.19 1158.04 2226.25M1124.56 2209.62C1124.63 2207.48 1124.56 2199.67 1124.99 2196.82C1125.42 2193.98 1126.77 2193.27 1127.12 2192.56M1134.58 2192.56C1135.05 2193.27 1136.82 2193.98 1137.36 2196.82C1137.89 2199.67 1137.71 2207.48 1137.78 2209.62M1321.15 2133.28C1321.68 2134.99 1322.22 2140.92 1324.35 2143.52C1326.48 2146.11 1330.46 2147.96 1333.94 2148.85C1337.43 2149.74 1343.36 2148.85 1345.25 2148.85M1322.22 2133.28C1321.68 2136.77 1318.13 2149.45 1319.02 2154.18C1319.91 2158.91 1323.99 2160.15 1327.55 2161.64C1331.1 2163.13 1338.21 2162.89 1340.34 2163.13M1338.21 2107.27C1337.68 2108.16 1334.48 2110.82 1335.01 2112.6C1335.54 2114.38 1340.52 2116.69 1341.41 2117.93C1342.3 2119.18 1340.52 2119.71 1340.34 2120.06M1332.88 2120.06C1332.52 2120.6 1330.57 2121.84 1330.75 2123.26C1330.92 2124.68 1333.59 2126.92 1333.94 2128.59C1334.3 2130.26 1333.06 2132.5 1332.88 2133.28M1347.16 2106.84C1347.63 2107.63 1350.18 2107.91 1349.94 2111.54C1349.69 2115.16 1346.2 2124.97 1345.67 2128.59C1345.14 2132.22 1346.56 2132.5 1346.74 2133.28M1466.44 2026.67C1462.42 2026.96 1449.56 2025.61 1442.35 2028.38C1435.13 2031.15 1427.6 2035.49 1423.16 2043.3C1418.71 2051.12 1416.47 2064.27 1415.69 2075.29C1414.91 2086.3 1418.11 2099.74 1418.46 2109.4C1418.82 2119.07 1417.93 2129.3 1417.83 2133.28M1451.3 2042.67C1448.03 2042.95 1436.91 2042.13 1431.68 2044.37C1426.46 2046.61 1422.52 2051.3 1419.96 2056.1C1417.4 2060.9 1416.94 2070.31 1416.33 2073.16M1488.19 2058.66C1481.97 2058.76 1461 2057.24 1450.87 2059.3C1440.75 2061.36 1431.68 2066.58 1427.42 2071.02C1423.16 2075.47 1424.58 2078.13 1425.29 2085.95C1426 2093.77 1430.8 2110.04 1431.68 2117.93C1432.57 2125.82 1430.8 2130.72 1430.62 2133.28M1522.73 2058.66C1527.81 2058.66 1544.58 2057.31 1553.22 2058.66C1561.86 2060.01 1570.1 2062.21 1574.54 2066.76C1578.98 2071.31 1578.98 2077.42 1579.87 2085.95C1580.76 2094.48 1579.34 2110.04 1579.87 2117.93C1580.41 2125.82 1582.54 2130.72 1583.07 2133.28M1548.96 2042.67C1551.8 2043.2 1561.46 2042.91 1566.01 2045.86C1570.56 2048.81 1573.94 2053.68 1576.25 2060.36C1578.56 2067.04 1579.27 2081.68 1579.87 2085.95M1568.14 2074.65C1569.39 2075.11 1573.72 2075.54 1575.61 2077.42C1577.49 2079.3 1578.81 2084.53 1579.45 2085.95M1489.89 2074.65C1488.79 2075.11 1484.1 2075.54 1483.28 2077.42C1482.47 2079.3 1485.34 2083.75 1484.99 2085.95C1484.63 2088.15 1481.79 2089.86 1481.15 2090.64M1445.97 2090.64C1444.83 2091.28 1440.28 2091.71 1439.15 2094.48C1438.01 2097.25 1438.26 2101.94 1439.15 2107.27C1440.04 2112.6 1443.7 2122.13 1444.48 2126.46C1445.26 2130.8 1443.94 2132.15 1443.84 2133.28M1481.15 2090.64L1493.09 2090.64M1500.34 2090.64C1501.16 2091.46 1507.09 2091.71 1505.25 2095.54C1503.4 2099.38 1493.16 2108.51 1489.25 2113.67C1485.34 2118.82 1482.86 2123.19 1481.79 2126.46C1480.72 2129.73 1482.68 2132.15 1482.86 2133.28M1481.79 2094.48C1480.19 2096.08 1473.26 2102.01 1472.2 2104.07C1471.13 2106.13 1474.86 2106.38 1475.39 2106.84M1482.43 2106.84C1483.21 2107.63 1488.12 2108.62 1487.12 2111.54C1486.13 2114.45 1478.95 2120.7 1476.46 2124.33C1473.97 2127.95 1472.91 2131.79 1472.2 2133.28M1389.47 2090.64C1390.46 2091.63 1398.35 2092.06 1395.44 2096.61C1392.52 2101.16 1376.78 2111.82 1371.98 2117.93C1367.19 2124.04 1367.54 2130.72 1366.65 2133.28M1340 2090.64L1350.02 2090.64M1344.26 2075.29C1344.8 2076 1347.11 2077.78 1347.46 2079.55C1347.82 2081.33 1346.04 2084.1 1346.4 2085.95C1346.75 2087.8 1349.06 2089.86 1349.59 2090.64M1346.4 2106.84C1346.93 2107.63 1349.77 2108.27 1349.59 2111.54C1349.42 2114.8 1345.86 2122.84 1345.33 2126.46C1344.8 2130.09 1346.22 2132.15 1346.4 2133.28M1388.4 2133.28C1388.51 2134.99 1392.77 2140.92 1389.04 2143.52C1385.31 2146.11 1369.85 2147.96 1366.01 2148.85M1340 2148.85L1344.69 2148.85M1472.2 2133.28C1472.55 2133.92 1467.93 2135.77 1474.33 2137.12C1480.72 2138.47 1499.91 2140.32 1510.58 2141.39C1521.24 2142.45 1534.03 2142.27 1538.29 2143.52C1542.56 2144.76 1536.52 2147.96 1536.16 2148.85M1543.62 2133.28C1543.45 2136.41 1544.51 2147.32 1542.56 2152.05C1540.6 2156.77 1536.16 2159.79 1531.9 2161.64C1527.63 2163.49 1519.46 2162.89 1516.97 2163.13M1403.97 2163.13C1404.32 2161.29 1404.32 2154.43 1406.1 2152.05C1407.87 2149.67 1413.21 2149.38 1414.63 2148.85M1424.65 2148.85C1426.18 2149.74 1431.93 2151.8 1433.82 2154.18C1435.7 2156.56 1435.59 2161.64 1435.95 2163.13M1400.77 2163.13L1438.51 2163.13M1439.57 2148.85C1438.79 2148.49 1434.17 2147.78 1434.88 2146.72C1435.59 2145.65 1442.24 2144.69 1443.84 2142.45C1445.44 2140.21 1444.37 2134.81 1444.48 2133.28M1481.79 2133.28C1481.79 2139.61 1480.55 2162.42 1481.79 2171.24C1483.03 2180.05 1482.68 2181.54 1489.25 2186.16C1495.83 2190.78 1514.13 2195.4 1521.24 2198.96C1528.34 2202.51 1531.26 2205.64 1531.9 2207.48C1532.54 2209.33 1526.21 2209.62 1525.07 2210.04M1375.82 2210.04L1400.34 2210.04M1397.57 2211.75C1397.92 2212.81 1395.08 2216.37 1399.7 2218.14C1404.32 2219.92 1421.45 2221.06 1425.29 2222.41C1429.13 2223.76 1423.16 2225.61 1422.73 2226.25M1488.19 2210.04L1499.28 2210.04M1506.74 2210.04L1517.61 2210.04M1490.32 2211.75C1490.5 2213.53 1489.89 2219.99 1491.39 2222.41C1492.88 2224.83 1497.96 2225.61 1499.28 2226.25M1506.74 2226.25C1508.09 2225.79 1513.13 2225.89 1514.84 2223.48C1516.55 2221.06 1516.62 2213.7 1516.97 2211.75M1616.12 2133.28C1616.3 2135.52 1616.05 2144.12 1617.19 2146.72C1618.32 2149.31 1621.98 2148.49 1622.94 2148.85M1629.98 2148.85C1630.97 2148.49 1634.88 2149.31 1635.95 2146.72C1637.01 2144.12 1636.3 2135.52 1636.38 2133.28M1676.89 2133.28C1677.24 2135.34 1676.82 2143.06 1679.02 2145.65C1681.22 2148.24 1688.26 2148.32 1690.11 2148.85M1697.14 2148.85C1698.92 2148.49 1705.67 2149.31 1707.8 2146.72C1709.94 2144.12 1709.58 2135.52 1709.94 2133.28M1340 2133.28L1740 2133.28M1340 2171.24C1342.84 2171.59 1355 2172.13 1357.06 2173.37C1359.12 2174.61 1353.15 2177.81 1352.37 2178.7M1345.33 2178.7C1344.8 2179.23 1342.84 2179.59 1342.13 2181.9C1341.42 2184.21 1341.24 2190.78 1341.07 2192.56M1340 2210.04L1346.4 2210.04M1768.57 2027.1C1771.41 2028.02 1781.22 2027.46 1785.63 2032.64C1790.04 2037.83 1794.12 2045.44 1795.01 2058.23C1795.9 2071.02 1791.46 2096.89 1790.96 2109.4C1790.46 2121.91 1791.85 2129.3 1792.03 2133.28" stroke="#555" stroke-width="1.3" fill="none" stroke-linecap="round"/>
<path d="M600 2133.62H623.03M628.14 2133.62H640.09M643.71 2133.62H651.17M655.86 2133.62H677.19M682.09 2133.62H689.13M693.39 2133.62H718.76M723.24 2133.62H837.31M852.67 2133.62H875.69M880.38 2133.62H888.91M893.82 2133.62H903.84M908.53 2133.62H918.34M945.42 2133.62H982.73M986.99 2133.62H996.16M1000.04 2133.28H1046.1M1051 2133.28H1062.73M1067.85 2133.28H1093.65M1098.34 2133.28H1158.68M1162.73 2133.28H1223.07M1227.97 2133.28H1234.37M1239.06 2133.28H1246.1M1250.79 2133.28H1258.25M1263.16 2133.28H1271.68M1276.38 2133.28H1286.4M1290.87 2133.28H1309.42M1314.75 2133.28H1320.09M1324.99 2133.28H1330.32M1335.01 2133.28H1339.91M1340 2133.28H1343.62M1348.1 2133.28H1366.01M1369.42 2133.28H1388.4M1391.81 2133.28H1416.76M1419.96 2133.28H1429.55M1434.24 2133.28H1443.84M1448.32 2133.28H1469.64M1474.33 2133.28H1479.23M1483.92 2133.28H1540.43M1545.33 2133.28H1578.81M1583.5 2133.28H1615.05M1619.74 2133.28H1633.18M1637.87 2133.28H1675.82M1680.09 2133.28H1706.1M1709.94 2133.28H1787.97M1793.3 2133.28H1963.88M923.03 2119.77H929M934.12 2119.77H940.51M250.4 2133.5H600" stroke="#FF0000" stroke-width="7.6" fill="none"/>
<rect x="738.8" y="1948.1" width="164.2" height="7.3" fill="#1A1AB0"/>
<rect x="1466.4" y="2023" width="302.2" height="7.5" fill="#1A1AB0"/>
<rect x="1693" y="2173.3" width="24" height="23.4" fill="#FF0000"/>
<line x1="1645.5" y1="2204.8" x2="1764.5" y2="2204.8" stroke="#000" stroke-width="2"/>
<text x="1676.9" y="2246" textLength="56.5" lengthAdjust="spacingAndGlyphs">‘Fuji’</text>
<rect x="1882.3" y="2173.3" width="24" height="23.4" fill="#1A1AB0"/>
<line x1="1834.3" y1="2204.8" x2="1953.9" y2="2204.8" stroke="#000" stroke-width="2"/>
<text x="1810.8" y="2246" font-style="italic" textLength="167.1" lengthAdjust="spacingAndGlyphs">M. floribunda</text>
<text x="1809.6" y="2277" textLength="168.9" lengthAdjust="spacingAndGlyphs">(haplotype B)</text>
<text x="140.7" y="2128.7" textLength="58.7" lengthAdjust="spacingAndGlyphs">‘Fuji’</text>
<text x="133.7" y="2156.3" textLength="73.3" lengthAdjust="spacingAndGlyphs">Chr01</text>
</g>
</svg>
</body></html>
